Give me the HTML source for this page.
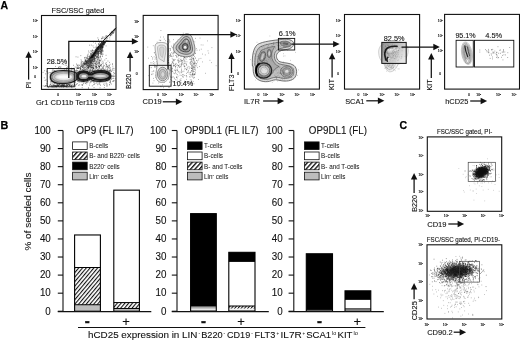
<!DOCTYPE html>
<html><head><meta charset="utf-8"><title>Figure</title>
<style>html,body{margin:0;padding:0;background:#fff;overflow:hidden}svg{display:block}</style>
</head><body>
<svg width="520" height="340" viewBox="0 0 520 340" font-family='"Liberation Sans", Arial, Helvetica, sans-serif' fill="#111">
<defs>
<filter id="b3" x="-20%" y="-20%" width="140%" height="140%"><feGaussianBlur stdDeviation="0.35"/></filter>
<filter id="b6" x="-20%" y="-20%" width="140%" height="140%"><feGaussianBlur stdDeviation="0.6"/></filter>
<filter id="b10" x="-30%" y="-30%" width="160%" height="160%"><feGaussianBlur stdDeviation="1.2"/></filter>
<filter id="b20" x="-40%" y="-40%" width="180%" height="180%"><feGaussianBlur stdDeviation="2.2"/></filter>
<pattern id="hat" width="2.9" height="2.9" patternUnits="userSpaceOnUse" patternTransform="rotate(-50)"><rect width="2.9" height="2.9" fill="#fff"/><rect width="2.9" height="1.1" fill="#111"/></pattern>
<pattern id="hat2" width="2.5" height="2.5" patternUnits="userSpaceOnUse" patternTransform="rotate(-50)"><rect width="2.5" height="2.5" fill="#fff"/><rect width="2.5" height="1.05" fill="#111"/></pattern>
<pattern id="hat3" width="3.3" height="3.3" patternUnits="userSpaceOnUse" patternTransform="rotate(-48)"><rect width="3.3" height="3.3" fill="#fff"/><rect width="3.3" height="1.35" fill="#111"/></pattern>
</defs>
<rect width="520" height="340" fill="#fff"/>
<text x="0.6" y="9" font-size="11.6" font-weight="bold" stroke="#000" stroke-width="0.25" textLength="7.6" lengthAdjust="spacingAndGlyphs" fill="#000">A</text>
<text x="0.4" y="129.1" font-size="11.6" font-weight="bold" stroke="#000" stroke-width="0.25" textLength="7.8" lengthAdjust="spacingAndGlyphs" fill="#000">B</text>
<text x="399.4" y="129.3" font-size="11.6" font-weight="bold" stroke="#000" stroke-width="0.25" textLength="7.6" lengthAdjust="spacingAndGlyphs" fill="#000">C</text>
<g id="p1">
<path d="M79.7 78.8h0.7M80.2 74.3h0.7M68.2 74.8h0.7M102.9 78.3h0.7M101.6 77.4h0.7M90.7 77.0h0.7M55.7 80.7h0.7M92.6 78.7h0.7M55.2 66.4h0.7M68.9 73.4h0.7M89.2 75.7h0.7M92.9 72.5h0.7M89.2 78.2h0.7M72.8 85.4h0.7M93.5 82.6h0.7M73.5 71.9h0.7M78.2 75.4h0.7M94.7 77.4h0.7M76.4 70.7h0.7M75.1 82.7h0.7M70.3 77.3h0.7M91.3 67.8h0.7M84.8 83.2h0.7M49.8 74.2h0.7M82.2 71.5h0.7M92.5 75.7h0.7M59.1 80.6h0.7M95.4 81.2h0.7M108.5 78.0h0.7M86.0 68.9h0.7M94.5 72.6h0.7M76.3 69.0h0.7M67.6 73.1h0.7M105.9 64.8h0.7M59.2 77.3h0.7M108.5 79.2h0.7M51.7 62.1h0.7M90.1 72.0h0.7M65.0 81.4h0.7M102.7 76.9h0.7M88.2 78.4h0.7M111.1 79.4h0.7M92.8 79.0h0.7M57.3 83.0h0.7M100.2 78.9h0.7M50.4 72.5h0.7M98.3 66.0h0.7M80.9 81.6h0.7M61.7 84.9h0.7M93.4 75.2h0.7M89.5 79.6h0.7M86.0 82.3h0.7M72.8 73.7h0.7M101.7 76.1h0.7M69.0 81.2h0.7M108.9 73.6h0.7M60.5 75.3h0.7M81.5 74.4h0.7M107.9 70.4h0.7M105.4 69.0h0.7M70.6 79.5h0.7M103.2 80.7h0.7M89.9 76.8h0.7M86.6 79.2h0.7M81.0 77.5h0.7M93.7 76.0h0.7M97.0 79.1h0.7M76.7 74.0h0.7M83.8 81.1h0.7M78.3 78.1h0.7M64.9 77.3h0.7M90.8 77.3h0.7M76.7 79.6h0.7M88.8 73.1h0.7M74.6 75.5h0.7M80.2 75.7h0.7M101.1 69.6h0.7M82.9 81.2h0.7M98.6 84.2h0.7M55.1 74.1h0.7M78.2 79.4h0.7M102.6 61.2h0.7M102.5 68.0h0.7M95.6 67.8h0.7M87.0 82.6h0.7M81.5 77.1h0.7M97.6 76.8h0.7M82.5 84.4h0.7M101.8 74.4h0.7M99.5 74.5h0.7M86.3 79.9h0.7M87.8 79.5h0.7M58.0 67.7h0.7M94.5 70.7h0.7M66.5 67.9h0.7M105.5 80.1h0.7M109.0 70.8h0.7M84.0 69.7h0.7M97.0 84.7h0.7M68.9 84.6h0.7M100.8 75.0h0.7M50.5 83.7h0.7M82.4 72.7h0.7M90.8 78.3h0.7M109.5 70.4h0.7M103.3 84.2h0.7M108.7 75.0h0.7M71.4 81.6h0.7M86.0 76.7h0.7M108.2 74.6h0.7M45.0 73.9h0.7M52.5 80.5h0.7M89.4 72.6h0.7M83.8 80.6h0.7M85.3 83.3h0.7M83.0 81.7h0.7M109.4 84.9h0.7M72.6 80.8h0.7M52.1 70.0h0.7M50.6 81.9h0.7M63.1 75.9h0.7M80.7 75.8h0.7M73.9 77.3h0.7M114.5 76.2h0.7M93.0 81.5h0.7M80.6 69.1h0.7M74.6 81.9h0.7M56.0 72.7h0.7M101.1 80.4h0.7M84.1 80.4h0.7M86.8 69.5h0.7M57.4 72.5h0.7M99.7 72.9h0.7M68.7 71.8h0.7M58.0 75.4h0.7M63.9 78.0h0.7M43.9 77.8h0.7M73.1 65.3h0.7M96.3 74.5h0.7M46.1 71.2h0.7M88.9 73.5h0.7M97.3 80.1h0.7M95.3 77.8h0.7M106.7 79.6h0.7M91.7 64.5h0.7M99.2 83.2h0.7M79.0 73.4h0.7M68.2 79.8h0.7M93.5 81.0h0.7M68.6 75.5h0.7M89.0 80.5h0.7M83.4 74.9h0.7M66.7 74.0h0.7M99.2 76.6h0.7M69.5 71.4h0.7M94.8 61.7h0.7M94.6 78.6h0.7M112.6 78.4h0.7M82.9 78.9h0.7M50.9 81.7h0.7M89.5 72.1h0.7M106.5 86.0h0.7M60.2 72.3h0.7M89.0 77.0h0.7M77.2 70.6h0.7M63.7 68.6h0.7M113.0 81.4h0.7M69.2 77.4h0.7M47.3 71.9h0.7M83.0 78.9h0.7M71.6 75.3h0.7M91.8 78.1h0.7M94.8 77.1h0.7M78.5 80.3h0.7M84.8 71.5h0.7M73.4 76.0h0.7M82.1 76.9h0.7M84.0 77.0h0.7M81.7 69.1h0.7M91.2 81.8h0.7M91.4 75.0h0.7M91.6 70.7h0.7M51.8 76.3h0.7M68.2 80.1h0.7M65.6 61.5h0.7M66.3 84.7h0.7M77.5 68.5h0.7M71.0 78.9h0.7M92.4 77.0h0.7M109.2 79.9h0.7M83.6 79.3h0.7M112.1 81.3h0.7M101.4 70.0h0.7M81.5 80.0h0.7M79.0 81.9h0.7M94.1 81.0h0.7M105.1 74.8h0.7M78.2 80.8h0.7M100.7 76.0h0.7M64.2 77.0h0.7M90.1 82.2h0.7M97.3 76.1h0.7M98.5 79.0h0.7M87.5 76.3h0.7M79.9 79.8h0.7M66.1 72.5h0.7M84.1 67.9h0.7M76.6 65.0h0.7M72.4 79.1h0.7M93.6 75.7h0.7M80.1 68.2h0.7M102.6 71.1h0.7M80.9 66.0h0.7M97.3 81.1h0.7M51.7 75.7h0.7M94.7 66.3h0.7M53.0 70.1h0.7M73.3 68.3h0.7M84.5 77.4h0.7M94.8 79.9h0.7M109.5 82.4h0.7M61.7 73.2h0.7M66.0 70.1h0.7M82.6 76.0h0.7M92.3 67.3h0.7M63.0 75.9h0.7M80.6 74.3h0.7M82.9 71.8h0.7M95.9 77.9h0.7M82.5 72.3h0.7M81.0 61.0h0.7M67.3 76.2h0.7M58.4 77.1h0.7M86.5 68.4h0.7M79.7 74.3h0.7M91.8 79.4h0.7M83.4 71.3h0.7M81.5 75.6h0.7M96.5 77.6h0.7M71.7 68.6h0.7M77.7 71.9h0.7M65.1 75.4h0.7M75.7 76.6h0.7M92.9 73.7h0.7M102.7 76.7h0.7M103.0 62.9h0.7M71.2 77.4h0.7M89.5 83.0h0.7M97.0 81.2h0.7M92.7 75.1h0.7M92.7 70.1h0.7M104.1 70.4h0.7M88.2 87.7h0.7M80.2 76.1h0.7M103.8 76.1h0.7M70.3 77.4h0.7M93.9 79.9h0.7M70.9 85.6h0.7M112.3 76.1h0.7M88.6 73.6h0.7M108.0 72.1h0.7M95.5 73.4h0.7M72.2 80.0h0.7M106.7 75.9h0.7M72.5 80.5h0.7M83.2 77.7h0.7M109.9 82.2h0.7M75.2 88.6h0.7M84.1 80.3h0.7M73.0 75.8h0.7M54.3 85.8h0.7M107.2 69.3h0.7M58.4 67.1h0.7M104.0 73.5h0.7M83.0 74.3h0.7M81.9 70.0h0.7M84.4 68.1h0.7M82.8 77.7h0.7M91.9 74.7h0.7M68.6 76.9h0.7M75.8 84.6h0.7M97.1 75.4h0.7M76.0 72.1h0.7M68.1 74.1h0.7M89.0 78.8h0.7M93.7 87.5h0.7M72.0 76.1h0.7M75.1 76.9h0.7M86.6 78.2h0.7M79.9 78.0h0.7M84.9 80.2h0.7M51.8 71.1h0.7M84.0 70.3h0.7M66.2 79.5h0.7M73.0 79.5h0.7M96.7 77.7h0.7M92.6 75.4h0.7M60.0 75.8h0.7M91.7 73.1h0.7M82.3 80.1h0.7M69.1 79.5h0.7M86.5 75.2h0.7M110.2 77.7h0.7M99.3 72.2h0.7M83.7 75.9h0.7M53.8 83.9h0.7M99.3 66.4h0.7M96.7 75.3h0.7M91.6 78.0h0.7M58.5 74.8h0.7M109.4 72.8h0.7M66.6 68.5h0.7M63.2 77.8h0.7M112.8 78.4h0.7M88.2 88.3h0.7M75.2 72.3h0.7M93.0 79.0h0.7M66.7 69.6h0.7M88.9 77.4h0.7M61.8 74.9h0.7M74.8 78.5h0.7M82.0 75.5h0.7M78.0 81.8h0.7M107.6 74.0h0.7M98.4 71.8h0.7M85.2 80.1h0.7M109.7 73.9h0.7M82.7 77.1h0.7M58.5 76.1h0.7M72.5 78.0h0.7M64.8 65.1h0.7M84.7 77.4h0.7M74.7 80.9h0.7M79.4 72.7h0.7M92.1 67.4h0.7M72.5 75.9h0.7M98.4 75.1h0.7M89.2 72.4h0.7M89.1 85.1h0.7M73.1 76.1h0.7M86.9 81.6h0.7M63.0 64.4h0.7M94.3 80.4h0.7M87.5 77.4h0.7M99.8 78.0h0.7M112.3 69.2h0.7M77.6 57.1h0.7M97.8 74.0h0.7M99.7 87.8h0.7M83.9 74.6h0.7M75.5 71.4h0.7M73.3 79.5h0.7M84.6 76.4h0.7M81.1 81.0h0.7M92.4 75.2h0.7M95.3 75.2h0.7M64.4 84.0h0.7M91.9 70.7h0.7M102.3 77.9h0.7M57.4 84.9h0.7M89.7 80.9h0.7M87.4 75.2h0.7M57.7 81.3h0.7M84.5 74.4h0.7M90.0 76.4h0.7M95.5 74.0h0.7M83.4 64.2h0.7M76.8 79.7h0.7M106.7 74.0h0.7M81.9 84.7h0.7M78.5 80.0h0.7M112.5 76.2h0.7M104.9 72.1h0.7M87.5 75.6h0.7M86.0 82.2h0.7M74.2 78.7h0.7M66.1 78.7h0.7M93.7 74.5h0.7M93.0 67.5h0.7M96.9 67.5h0.7M72.2 72.9h0.7M77.2 80.7h0.7M85.4 73.8h0.7M93.2 84.7h0.7M84.1 78.0h0.7M105.1 77.5h0.7M83.3 78.3h0.7M100.4 79.7h0.7M79.4 70.2h0.7M85.8 81.7h0.7M65.5 70.4h0.7M83.6 65.3h0.7M79.6 73.6h0.7M91.7 72.1h0.7M69.0 73.8h0.7M83.2 72.3h0.7M84.2 80.1h0.7M104.1 85.4h0.7M70.7 73.7h0.7M71.7 75.8h0.7M92.9 68.5h0.7M91.9 75.9h0.7M53.0 77.6h0.7M104.3 65.7h0.7M97.7 77.2h0.7M92.1 78.4h0.7M106.2 74.8h0.7M98.9 73.7h0.7M96.4 71.5h0.7M82.2 85.5h0.7M91.6 75.1h0.7M64.5 71.7h0.7M87.3 81.2h0.7M91.2 78.9h0.7M83.3 83.4h0.7M77.4 73.0h0.7M99.1 76.3h0.7M79.3 72.8h0.7M79.6 79.4h0.7M90.0 69.3h0.7M100.7 71.1h0.7M85.0 74.6h0.7M92.9 68.0h0.7M104.8 77.9h0.7M88.4 72.6h0.7M86.4 83.9h0.7M90.6 77.2h0.7M88.9 74.9h0.7M91.2 73.0h0.7M95.0 66.0h0.7M77.9 75.1h0.7M77.1 76.9h0.7M89.6 70.9h0.7M109.9 70.7h0.7M80.7 59.8h0.7M109.0 74.4h0.7M87.0 75.2h0.7M101.5 73.9h0.7M71.2 68.2h0.7M105.9 74.4h0.7M105.7 55.3h0.7M97.9 73.0h0.7M92.4 70.2h0.7M105.7 67.3h0.7M108.6 65.3h0.7M98.9 66.8h0.7M97.7 65.9h0.7M78.4 76.6h0.7M99.3 66.6h0.7M98.2 75.9h0.7M85.2 69.3h0.7M101.9 73.2h0.7M92.3 57.4h0.7M109.7 72.0h0.7M96.1 68.3h0.7M98.9 67.4h0.7M84.7 65.6h0.7M89.4 66.3h0.7M83.3 73.8h0.7M81.6 74.0h0.7M84.8 72.1h0.7M111.1 71.2h0.7M88.0 70.3h0.7M97.6 59.6h0.7M89.3 71.0h0.7M90.8 70.5h0.7M104.1 74.6h0.7M106.0 73.5h0.7M92.8 69.9h0.7M93.0 68.1h0.7M94.0 59.7h0.7M92.3 69.9h0.7M85.3 69.9h0.7M101.7 69.0h0.7M93.7 59.0h0.7M106.8 85.9h0.7M68.5 70.8h0.7M101.7 68.2h0.7M102.1 56.5h0.7M105.4 72.2h0.7M96.3 66.5h0.7M103.0 67.1h0.7M98.5 66.9h0.7M71.3 69.8h0.7M98.2 74.5h0.7M86.4 69.8h0.7M102.8 70.9h0.7M109.7 81.9h0.7M86.0 58.5h0.7M105.4 79.2h0.7M106.1 74.9h0.7M89.2 65.7h0.7M105.8 64.5h0.7M76.1 64.0h0.7M88.4 65.6h0.7M98.5 65.5h0.7M110.4 69.5h0.7M84.1 77.9h0.7M89.6 71.3h0.7M95.9 68.1h0.7M99.6 65.8h0.7M75.7 56.8h0.7M82.1 65.4h0.7M95.7 70.3h0.7M102.1 70.7h0.7M87.3 65.7h0.7M72.7 69.0h0.7M101.3 73.2h0.7M94.7 69.0h0.7M106.3 70.1h0.7M104.1 73.5h0.7M98.3 77.8h0.7M89.7 67.8h0.7M87.1 65.2h0.7M113.1 80.6h0.7M96.3 73.4h0.7M108.9 74.8h0.7M109.3 62.4h0.7M89.0 72.7h0.7M111.8 70.6h0.7M86.6 67.9h0.7M88.7 64.9h0.7M112.5 66.2h0.7M96.2 83.0h0.7M109.0 72.0h0.7M89.3 72.5h0.7M113.8 73.7h0.7M109.9 70.6h0.7M101.7 68.8h0.7M100.7 77.8h0.7M80.3 69.6h0.7M98.6 66.6h0.7M92.6 74.7h0.7M99.6 60.7h0.7M95.6 63.3h0.7M95.4 63.4h0.7M96.8 72.8h0.7M96.3 71.7h0.7M86.6 78.6h0.7M88.8 59.1h0.7M93.9 65.4h0.7M84.9 67.9h0.7M99.2 62.9h0.7M94.5 78.6h0.7M103.5 69.1h0.7M97.4 69.3h0.7M95.5 74.4h0.7M95.0 55.6h0.7M95.8 64.7h0.7M103.2 66.3h0.7M97.6 83.1h0.7M84.5 63.3h0.7M80.5 55.6h0.7M75.3 72.2h0.7M89.0 58.8h0.7M79.7 73.7h0.7M87.5 67.8h0.7M99.6 78.1h0.7M97.6 71.1h0.7M92.6 72.7h0.7M99.2 70.3h0.7M90.5 62.0h0.7M90.1 60.7h0.7M109.5 73.2h0.7M82.7 78.4h0.7M105.8 58.5h0.7M101.8 72.5h0.7M98.2 71.0h0.7M107.6 61.0h0.7M82.3 61.6h0.7M89.9 66.4h0.7M100.0 71.6h0.7M96.3 65.9h0.7M91.1 75.7h0.7M104.4 70.6h0.7M92.5 79.3h0.7M89.5 73.9h0.7M108.7 68.4h0.7M105.1 63.3h0.7M107.1 71.2h0.7M78.5 74.0h0.7M86.2 77.7h0.7M88.5 69.0h0.7M99.1 68.0h0.7M98.9 66.7h0.7M103.4 70.0h0.7M98.3 53.5h0.7M108.8 70.2h0.7M76.4 70.6h0.7M101.1 76.4h0.7M84.1 79.3h0.7M94.2 84.4h0.7M94.4 74.1h0.7M92.0 63.3h0.7M108.1 75.4h0.7M112.9 75.1h0.7M89.7 60.0h0.7M88.8 65.9h0.7M87.0 73.5h0.7M99.6 68.4h0.7M97.9 69.1h0.7M98.3 74.5h0.7M106.6 65.9h0.7M79.4 78.6h0.7M97.3 76.6h0.7M77.9 68.0h0.7M96.3 61.4h0.7M90.3 74.3h0.7M107.9 79.6h0.7M86.5 61.6h0.7M101.7 75.6h0.7M98.1 62.2h0.7M104.6 74.8h0.7M102.1 67.1h0.7M99.3 74.7h0.7M89.9 58.9h0.7M99.6 72.9h0.7M96.1 75.3h0.7M89.5 69.5h0.7M92.6 73.4h0.7M113.6 68.5h0.7M104.7 73.5h0.7M94.8 63.6h0.7M101.2 78.1h0.7M101.9 72.5h0.7M93.8 71.0h0.7M80.3 76.3h0.7M91.5 63.4h0.7M87.7 65.1h0.7M105.4 76.3h0.7M81.1 75.6h0.7M105.8 66.5h0.7M79.6 65.5h0.7M89.0 72.1h0.7M92.1 57.8h0.7M98.6 60.8h0.7M106.0 62.8h0.7M88.4 64.9h0.7M90.0 77.8h0.7M105.4 73.6h0.7M99.5 60.7h0.7M90.3 66.7h0.7M85.2 73.1h0.7M87.8 65.7h0.7M84.5 57.7h0.7M102.5 78.0h0.7M97.9 64.1h0.7M66.2 71.0h0.7M109.4 71.8h0.7M106.2 78.9h0.7M108.4 67.4h0.7M107.6 74.7h0.7M79.1 67.6h0.7M80.3 69.3h0.7M102.4 63.6h0.7M73.4 77.8h0.7M100.1 78.8h0.7M81.4 76.4h0.7M93.7 71.6h0.7M94.3 76.0h0.7M107.4 70.5h0.7M81.1 74.4h0.7M90.8 73.8h0.7M98.9 79.7h0.7M108.5 67.3h0.7M99.8 80.6h0.7M90.1 72.6h0.7M109.1 77.5h0.7M101.7 62.1h0.7M82.1 71.5h0.7M100.3 85.3h0.7M86.5 76.8h0.7M104.5 60.0h0.7M87.0 71.0h0.7M90.6 69.1h0.7M101.2 65.1h0.7M101.1 66.2h0.7M90.0 73.2h0.7M89.7 71.7h0.7M113.6 70.2h0.7M94.4 74.4h0.7M92.0 76.5h0.7M81.9 73.7h0.7M90.4 65.2h0.7M112.0 64.1h0.7M109.2 78.7h0.7M94.7 69.2h0.7M91.4 66.2h0.7M100.9 72.0h0.7M98.0 80.3h0.7M92.4 72.8h0.7M112.1 64.0h0.7M107.4 81.0h0.7M81.1 63.4h0.7M84.6 58.9h0.7M101.0 58.9h0.7M101.5 78.7h0.7M78.2 68.1h0.7M74.9 74.7h0.7M87.9 68.4h0.7M96.6 73.3h0.7M92.2 70.1h0.7M90.0 70.7h0.7M83.1 70.4h0.7M74.7 67.1h0.7M82.1 71.5h0.7M85.3 60.1h0.7M87.9 74.4h0.7M100.2 69.4h0.7M85.8 63.5h0.7M110.8 71.5h0.7M85.5 57.3h0.7M80.9 84.9h0.7M83.4 69.5h0.7M98.3 69.1h0.7M92.9 61.8h0.7M84.4 80.1h0.7M87.7 75.1h0.7M77.4 68.4h0.7M98.9 76.2h0.7M83.7 73.6h0.7M100.2 65.6h0.7M101.2 64.6h0.7M87.2 69.9h0.7M66.1 69.3h0.7M85.0 61.2h0.7M91.3 74.6h0.7M91.6 77.6h0.7M83.2 62.1h0.7M113.1 72.4h0.7M106.4 65.0h0.7M104.8 71.6h0.7M103.1 70.2h0.7M109.3 66.1h0.7M85.4 61.1h0.7M108.8 65.6h0.7M84.5 64.4h0.7M91.1 62.4h0.7M92.8 66.2h0.7M89.9 64.2h0.7M100.3 73.7h0.7M101.0 77.2h0.7M103.1 65.1h0.7M95.2 72.0h0.7M107.0 68.1h0.7M93.6 74.5h0.7M97.0 81.0h0.7M96.0 80.8h0.7M86.8 66.9h0.7M111.0 78.2h0.7M104.4 76.6h0.7M104.4 69.9h0.7M108.5 73.3h0.7M108.9 76.4h0.7M82.2 69.6h0.7M110.1 75.3h0.7M96.4 77.2h0.7M96.2 73.3h0.7M100.9 76.7h0.7M113.7 76.2h0.7M101.2 76.7h0.7M98.7 72.3h0.7M99.4 72.8h0.7M114.8 78.7h0.7M96.0 66.4h0.7M99.5 73.9h0.7M90.2 70.3h0.7M79.7 78.8h0.7M99.7 75.3h0.7M113.0 76.7h0.7M101.5 74.1h0.7M94.6 83.5h0.7M109.0 84.6h0.7M96.9 76.2h0.7M92.1 80.8h0.7M87.5 78.8h0.7M109.9 83.1h0.7M91.5 81.4h0.7M93.6 72.2h0.7M88.1 81.8h0.7M93.2 74.3h0.7M95.1 67.0h0.7M93.9 81.9h0.7M93.8 73.5h0.7M83.0 80.5h0.7M90.2 81.3h0.7M84.6 69.6h0.7M102.6 72.2h0.7M107.0 76.0h0.7M89.4 79.1h0.7M107.6 66.4h0.7M106.8 66.7h0.7M93.5 74.3h0.7M109.7 68.7h0.7M92.0 65.9h0.7M97.8 77.7h0.7M84.8 73.0h0.7M104.6 83.9h0.7M106.0 74.5h0.7M89.4 71.3h0.7M94.0 76.7h0.7M99.6 84.3h0.7M102.6 70.6h0.7M113.9 80.7h0.7M100.9 72.4h0.7M83.2 70.9h0.7M108.2 72.0h0.7M88.1 77.0h0.7M102.2 79.0h0.7M105.9 83.0h0.7M92.4 80.9h0.7M91.1 79.5h0.7M101.6 77.2h0.7M108.7 75.9h0.7M110.0 80.4h0.7M101.2 73.2h0.7M93.2 73.4h0.7M98.2 75.9h0.7M106.9 71.7h0.7M93.6 74.4h0.7M101.7 70.8h0.7M114.5 73.2h0.7M109.7 64.3h0.7M99.9 77.4h0.7M101.7 79.0h0.7M102.5 76.8h0.7M83.0 72.4h0.7M78.9 79.1h0.7M102.8 75.0h0.7M92.6 73.1h0.7M99.5 82.4h0.7M85.7 66.3h0.7M95.7 71.6h0.7M95.0 76.9h0.7M100.4 77.4h0.7M99.7 80.7h0.7M101.5 74.7h0.7M103.2 68.3h0.7M84.2 64.4h0.7M104.7 77.0h0.7M100.7 64.2h0.7M96.6 72.2h0.7M87.3 71.4h0.7M106.3 78.7h0.7M99.8 78.6h0.7M94.6 76.4h0.7M100.4 78.8h0.7M99.4 75.3h0.7M98.8 72.8h0.7M103.9 87.5h0.7M112.6 68.2h0.7M106.3 80.2h0.7M106.9 70.1h0.7M92.2 77.3h0.7M104.5 70.9h0.7M96.5 74.0h0.7M100.5 77.7h0.7M97.4 69.8h0.7M111.2 84.0h0.7M99.0 81.1h0.7M104.0 79.3h0.7M104.3 72.2h0.7M105.2 81.1h0.7M91.9 85.8h0.7M97.0 73.0h0.7M92.7 76.6h0.7M99.7 79.4h0.7M81.8 87.6h0.7M106.1 78.4h0.7M102.5 75.0h0.7M98.9 71.9h0.7M101.6 75.9h0.7M102.9 71.7h0.7M100.4 76.2h0.7M105.4 70.7h0.7M103.8 80.9h0.7M105.4 74.2h0.7M95.6 74.8h0.7M106.6 83.8h0.7M98.6 72.8h0.7M103.4 77.0h0.7M91.8 72.3h0.7M99.1 79.4h0.7M89.3 70.9h0.7M104.5 69.9h0.7M101.0 77.8h0.7M99.0 70.9h0.7M99.5 74.3h0.7M103.0 71.8h0.7M109.8 67.6h0.7M98.4 76.0h0.7M108.7 73.0h0.7M104.9 73.2h0.7M106.6 84.7h0.7M96.4 78.2h0.7M91.7 80.9h0.7M110.9 76.2h0.7M89.8 78.0h0.7M110.3 81.4h0.7M107.3 66.8h0.7M97.9 50.2h0.7M104.6 43.2h0.7M82.1 67.3h0.7M90.6 56.0h0.7M81.9 67.6h0.7M101.7 48.3h0.7M103.6 42.3h0.7M103.8 42.0h0.7M93.0 57.1h0.7M89.9 65.0h0.7M102.6 42.7h0.7M97.6 49.0h0.7M92.0 52.5h0.7M100.8 45.5h0.7M88.6 61.7h0.7M93.2 52.0h0.7M83.6 64.2h0.7M90.4 62.5h0.7M96.2 48.0h0.7M98.4 63.2h0.7M97.1 63.5h0.7M95.8 67.4h0.7M98.5 48.2h0.7M89.8 55.8h0.7M96.8 53.2h0.7M91.0 67.7h0.7M90.3 66.8h0.7M77.1 65.4h0.7M88.7 58.8h0.7M97.5 56.1h0.7M87.7 58.3h0.7M82.1 67.2h0.7M100.5 49.7h0.7M88.2 67.3h0.7M98.3 48.7h0.7M101.3 44.8h0.7M98.0 49.4h0.7M103.4 43.9h0.7M86.4 64.2h0.7M100.7 46.9h0.7M94.4 53.9h0.7M96.2 49.9h0.7M99.1 47.5h0.7M104.8 41.8h0.7M81.3 64.8h0.7M101.5 49.2h0.7M100.5 49.5h0.7M87.1 65.0h0.7M102.0 43.2h0.7M102.4 44.4h0.7M91.5 67.4h0.7M99.7 51.0h0.7M97.9 58.1h0.7M91.1 61.4h0.7M89.8 62.0h0.7M77.7 66.2h0.7M82.6 65.0h0.7M97.5 54.9h0.7M93.1 56.9h0.7M87.4 57.9h0.7M94.9 53.7h0.7M95.9 52.0h0.7M96.4 51.9h0.7M90.9 55.0h0.7M101.1 46.5h0.7M91.8 57.2h0.7M86.4 66.3h0.7M77.0 67.4h0.7M100.3 53.0h0.7M93.3 56.8h0.7M82.3 66.3h0.7M92.9 55.5h0.7M87.8 60.0h0.7M102.5 51.0h0.7M93.0 59.8h0.7M97.8 52.3h0.7M99.9 57.0h0.7M96.4 53.4h0.7M77.1 68.4h0.7M100.3 46.1h0.7M90.5 67.9h0.7M90.0 65.7h0.7M99.2 63.7h0.7M100.2 45.7h0.7M94.8 55.3h0.7M94.4 58.5h0.7M101.2 51.0h0.7M98.4 52.6h0.7M100.6 49.8h0.7M89.2 64.2h0.7M85.7 59.5h0.7M100.0 48.7h0.7M98.3 55.9h0.7M101.1 44.8h0.7M86.6 62.0h0.7M98.3 55.6h0.7M96.5 58.1h0.7M87.1 62.3h0.7M89.4 60.8h0.7M104.0 44.2h0.7M89.7 57.2h0.7M104.1 43.0h0.7M96.5 57.2h0.7M98.8 48.2h0.7M90.8 66.6h0.7M90.5 63.5h0.7M94.0 57.8h0.7M99.3 48.1h0.7M85.7 60.9h0.7M101.0 54.6h0.7M98.1 48.1h0.7M83.4 67.7h0.7M88.7 56.7h0.7M94.0 52.4h0.7M102.5 44.8h0.7M100.7 46.7h0.7M97.9 47.9h0.7M101.3 45.7h0.7M102.5 44.0h0.7M98.1 53.5h0.7M82.4 63.2h0.7M102.7 51.7h0.7M101.7 47.1h0.7M93.2 53.7h0.7M90.2 60.6h0.7M94.7 51.4h0.7M90.5 57.9h0.7M94.1 55.4h0.7M99.3 48.8h0.7M93.3 56.8h0.7M95.9 52.0h0.7M101.4 50.2h0.7M101.8 44.4h0.7M98.1 49.5h0.7M98.5 49.9h0.7M99.8 49.1h0.7M95.4 66.0h0.7M100.2 45.1h0.7M103.7 42.3h0.7M96.4 52.6h0.7M89.1 60.4h0.7M87.6 58.5h0.7M103.1 44.6h0.7M102.4 42.6h0.7M100.3 45.9h0.7M104.2 42.6h0.7M90.3 58.7h0.7M85.2 60.8h0.7M97.4 53.2h0.7M92.8 64.0h0.7M98.3 49.2h0.7M102.6 42.8h0.7M103.4 44.5h0.7M90.5 61.7h0.7M89.4 60.3h0.7M95.1 49.1h0.7M88.2 67.1h0.7M93.5 61.4h0.7M94.4 58.5h0.7M96.9 53.1h0.7M81.5 66.6h0.7M94.4 60.5h0.7M101.2 48.6h0.7M91.1 56.2h0.7M102.8 43.1h0.7M97.3 49.9h0.7M92.9 60.6h0.7M95.0 55.4h0.7M81.9 66.8h0.7M103.7 45.3h0.7M97.9 50.5h0.7M101.2 46.1h0.7M92.6 57.7h0.7M100.2 44.6h0.7M96.8 51.2h0.7M101.7 46.8h0.7M92.5 53.6h0.7M97.0 51.3h0.7M103.9 43.4h0.7M103.1 43.8h0.7M88.6 68.0h0.7M95.1 53.2h0.7M92.9 56.2h0.7M96.7 58.4h0.7M89.1 59.1h0.7M104.5 42.2h0.7M86.5 64.2h0.7M98.9 64.3h0.7M102.9 46.0h0.7M94.6 50.3h0.7M83.6 63.8h0.7M101.1 51.5h0.7M97.0 48.0h0.7M90.2 63.6h0.7M92.4 65.9h0.7M100.9 45.8h0.7M89.4 57.2h0.7M99.5 53.5h0.7M101.7 43.9h0.7M86.6 61.0h0.7M94.8 64.2h0.7M98.5 49.1h0.7M92.6 55.4h0.7M97.7 59.5h0.7M81.5 65.9h0.7M93.8 56.7h0.7M99.1 46.8h0.7M96.6 67.7h0.7M99.9 64.9h0.7M83.2 63.4h0.7M91.7 59.8h0.7M88.6 67.2h0.7M87.3 59.0h0.7M105.0 42.3h0.7M93.0 59.8h0.7M98.7 51.5h0.7M95.0 52.7h0.7M101.4 44.6h0.7M91.5 65.5h0.7M99.6 48.3h0.7M89.7 55.8h0.7M100.4 47.6h0.7M102.0 44.6h0.7M93.9 52.5h0.7M96.8 53.4h0.7M84.5 61.9h0.7M93.4 68.2h0.7M96.5 52.1h0.7M86.8 67.4h0.7M83.6 62.5h0.7M100.8 47.9h0.7M99.7 47.3h0.7M91.8 60.6h0.7M85.9 65.0h0.7M95.7 66.3h0.7M101.5 50.7h0.7M97.1 59.9h0.7M98.7 61.4h0.7M85.4 61.0h0.7M96.6 56.3h0.7M103.0 44.6h0.7M99.8 46.7h0.7M89.5 64.1h0.7M103.1 44.5h0.7M100.6 46.5h0.7M97.2 51.8h0.7M86.0 65.1h0.7M75.8 67.1h0.7M93.3 50.7h0.7M84.1 63.1h0.7M101.7 46.4h0.7M91.3 54.3h0.7M88.5 64.3h0.7M102.0 43.5h0.7M101.8 47.3h0.7M100.6 46.1h0.7M94.7 54.1h0.7M104.8 41.7h0.7M92.2 50.5h0.7M103.9 42.7h0.7M88.5 59.6h0.7M101.0 48.6h0.7M99.9 55.8h0.7M96.5 56.6h0.7M89.7 65.1h0.7M94.6 51.3h0.7M98.4 63.0h0.7M99.4 49.7h0.7M88.5 61.5h0.7M91.4 56.4h0.7M102.2 43.1h0.7M98.3 54.5h0.7M98.3 48.1h0.7M104.7 41.7h0.7M93.8 53.7h0.7M99.9 46.1h0.7M97.4 49.6h0.7M80.1 66.8h0.7M89.1 66.4h0.7M99.9 57.2h0.7M96.9 51.1h0.7M103.8 43.3h0.7M83.5 65.8h0.7M100.9 45.9h0.7M86.4 60.5h0.7M98.0 57.8h0.7M88.3 59.0h0.7M84.4 57.7h0.7M94.3 63.4h0.7M101.3 46.6h0.7M91.0 65.1h0.7M99.2 50.3h0.7M89.8 59.0h0.7M102.7 43.1h0.7M103.3 42.7h0.7M92.3 57.6h0.7M94.6 54.0h0.7M77.9 68.2h0.7M94.7 58.1h0.7M101.0 45.7h0.7M86.2 62.2h0.7M93.0 56.0h0.7M93.9 56.5h0.7M85.9 61.5h0.7M94.5 60.7h0.7M95.5 62.4h0.7M90.2 53.7h0.7M100.8 45.1h0.7M96.7 54.3h0.7M78.2 68.2h0.7M86.7 61.9h0.7M103.4 43.1h0.7M92.6 56.5h0.7M100.5 45.5h0.7M97.0 61.4h0.7M86.5 62.5h0.7M83.3 68.0h0.7M86.4 63.1h0.7M102.6 50.2h0.7M104.1 43.3h0.7M101.4 52.4h0.7M100.8 52.6h0.7M88.3 67.0h0.7M99.9 48.6h0.7M99.0 47.7h0.7M100.1 49.6h0.7M101.7 47.3h0.7M88.3 65.0h0.7M94.3 61.8h0.7M100.4 54.6h0.7M101.0 45.9h0.7M96.6 57.1h0.7M100.9 47.2h0.7M86.8 64.8h0.7M96.9 64.8h0.7M103.7 44.5h0.7M105.0 41.8h0.7M103.2 44.1h0.7M84.8 59.9h0.7M100.3 60.8h0.7M80.1 68.0h0.7M90.7 60.1h0.7M91.7 55.1h0.7M104.5 42.0h0.7M101.9 50.0h0.7M102.3 45.2h0.7M102.6 46.3h0.7M94.2 55.0h0.7M98.6 51.0h0.7M102.0 47.3h0.7M90.9 65.3h0.7M98.5 48.6h0.7M102.9 42.7h0.7M96.2 51.3h0.7M90.3 60.1h0.7M97.6 60.1h0.7M89.2 65.1h0.7M101.4 52.8h0.7M95.4 52.0h0.7M79.9 68.5h0.7M98.1 57.9h0.7M97.5 51.7h0.7M100.5 46.9h0.7M77.7 66.0h0.7M87.1 60.2h0.7M100.3 50.0h0.7M104.9 41.5h0.7M97.6 57.5h0.7M100.4 47.8h0.7M86.9 60.7h0.7M94.5 55.7h0.7M90.9 58.5h0.7M100.3 47.5h0.7M100.8 54.3h0.7M94.1 55.6h0.7M88.0 66.5h0.7M94.8 55.6h0.7M101.6 46.2h0.7M98.2 53.9h0.7M77.8 64.9h0.7M99.9 51.8h0.7M100.4 45.7h0.7M102.5 44.3h0.7M91.3 53.7h0.7M100.6 52.2h0.7M96.3 54.4h0.7M84.8 62.0h0.7M90.6 55.6h0.7M96.0 51.5h0.7M100.9 46.9h0.7M103.0 43.1h0.7M95.8 50.2h0.7M80.4 64.0h0.7M98.7 46.9h0.7M90.0 62.9h0.7M95.1 53.4h0.7M85.4 60.7h0.7M88.3 63.4h0.7M98.2 51.9h0.7M88.5 67.7h0.7M98.0 51.6h0.7M88.7 61.9h0.7M96.4 55.7h0.7M103.4 42.2h0.7M95.9 54.0h0.7M97.7 54.3h0.7M92.8 53.4h0.7M94.2 59.6h0.7M93.5 52.3h0.7M90.9 62.3h0.7M103.1 44.7h0.7M102.6 44.2h0.7M93.6 61.8h0.7M91.2 60.7h0.7M102.8 43.0h0.7M93.2 68.4h0.7M81.4 65.0h0.7M105.1 41.7h0.7M97.7 48.9h0.7M90.1 64.7h0.7M95.0 55.3h0.7M93.4 64.9h0.7M84.6 64.6h0.7M93.3 56.0h0.7M93.8 54.0h0.7M84.0 63.1h0.7M89.3 66.3h0.7M93.6 55.9h0.7M91.2 56.8h0.7M102.1 49.4h0.7M84.6 63.2h0.7M100.3 53.5h0.7M103.1 43.1h0.7M82.1 64.8h0.7M92.1 57.6h0.7M87.1 63.1h0.7M93.0 59.7h0.7M85.4 64.1h0.7M83.3 66.3h0.7M97.4 62.7h0.7M97.4 52.7h0.7M92.2 60.0h0.7M104.9 43.0h0.7M98.1 49.4h0.7M90.2 57.2h0.7M83.2 66.1h0.7M85.8 64.2h0.7M90.7 52.1h0.7M98.3 51.8h0.7M103.6 44.0h0.7M88.7 61.2h0.7M82.8 63.9h0.7M99.5 66.4h0.7M97.4 49.4h0.7M90.4 61.8h0.7M98.3 54.6h0.7M93.9 57.6h0.7M101.8 48.8h0.7M84.8 64.3h0.7M98.7 57.7h0.7M100.8 50.8h0.7M97.2 50.5h0.7M101.7 48.2h0.7M99.0 49.6h0.7M87.4 56.6h0.7M91.2 57.6h0.7M104.6 42.4h0.7M102.8 45.1h0.7M96.3 51.0h0.7M102.3 46.1h0.7M101.4 50.5h0.7M100.0 45.5h0.7M79.4 65.2h0.7M102.1 44.7h0.7M100.4 45.9h0.7M100.2 46.8h0.7M99.6 47.0h0.7M102.2 55.0h0.7M103.2 41.9h0.7M95.5 56.9h0.7M101.6 47.7h0.7M104.3 42.3h0.7M93.1 55.5h0.7M90.2 57.1h0.7M96.0 57.6h0.7M99.7 48.1h0.7M76.4 68.0h0.7M83.7 63.5h0.7M88.1 63.4h0.7M84.2 66.9h0.7M94.3 52.5h0.7M91.2 59.8h0.7M96.3 50.8h0.7M102.4 50.4h0.7M87.5 68.4h0.7M96.3 62.5h0.7M92.5 61.8h0.7M96.0 64.3h0.7M102.8 44.0h0.7M89.9 67.6h0.7M88.5 61.6h0.7M85.7 65.9h0.7M91.0 64.0h0.7M91.6 63.8h0.7M87.4 65.0h0.7M80.1 67.0h0.7M91.0 67.6h0.7M101.0 47.8h0.7M90.1 53.9h0.7M94.0 60.0h0.7M99.6 52.1h0.7M88.4 66.9h0.7M92.6 52.5h0.7M96.3 50.7h0.7M95.8 64.1h0.7M104.1 41.9h0.7M85.1 63.4h0.7M95.5 50.6h0.7M99.2 51.1h0.7M102.0 43.9h0.7M87.8 60.4h0.7M101.2 44.8h0.7M104.2 42.6h0.7M85.3 67.4h0.7M100.2 47.6h0.7M94.7 52.1h0.7M87.4 67.3h0.7M84.0 63.9h0.7M93.0 55.7h0.7M101.9 53.8h0.7M100.1 48.3h0.7M89.4 64.8h0.7M102.2 51.7h0.7M102.5 43.5h0.7M98.7 53.5h0.7M92.9 58.6h0.7M97.6 55.6h0.7M100.3 51.3h0.7M103.4 43.0h0.7M96.0 53.6h0.7M90.9 65.6h0.7M96.1 50.3h0.7M95.9 67.2h0.7M91.8 57.1h0.7M97.9 52.1h0.7M85.4 62.1h0.7M95.5 56.2h0.7M90.8 63.2h0.7M100.3 51.8h0.7M95.9 49.0h0.7M97.5 57.0h0.7M101.0 45.3h0.7M82.8 65.2h0.7M95.8 49.9h0.7M101.1 49.5h0.7M99.7 46.6h0.7M80.4 67.0h0.7M102.8 44.4h0.7M97.0 52.1h0.7M102.1 47.0h0.7M97.0 53.7h0.7M95.0 50.0h0.7M85.9 61.9h0.7M85.7 61.8h0.7M99.5 51.3h0.7M89.4 58.5h0.7M86.3 62.3h0.7M99.3 51.0h0.7M99.6 48.7h0.7M93.4 61.9h0.7M99.9 52.6h0.7M99.6 58.9h0.7M94.6 58.6h0.7M87.8 66.9h0.7M97.5 50.7h0.7M101.4 46.5h0.7M92.3 55.9h0.7M99.8 45.1h0.7M101.6 43.3h0.7M92.1 59.5h0.7M96.6 52.4h0.7M99.0 62.8h0.7M102.0 45.6h0.7M91.4 65.8h0.7M92.0 61.6h0.7M101.0 45.0h0.7M91.9 60.5h0.7M97.4 57.8h0.7M98.0 48.9h0.7M99.2 59.8h0.7M86.4 63.2h0.7M84.6 64.1h0.7M104.8 41.6h0.7M103.7 43.1h0.7M100.4 56.5h0.7M102.2 44.5h0.7M89.1 58.5h0.7M102.7 47.4h0.7M102.3 47.1h0.7M103.3 42.3h0.7M103.7 42.3h0.7M95.2 58.5h0.7M89.4 57.3h0.7M101.7 47.6h0.7M93.5 68.4h0.7M79.0 68.1h0.7M90.2 54.4h0.7M90.8 60.6h0.7M95.3 50.7h0.7M102.0 46.7h0.7M94.6 55.4h0.7M101.4 46.8h0.7M98.6 56.6h0.7M93.7 67.1h0.7M94.7 61.0h0.7M104.5 41.9h0.7M91.8 61.0h0.7M102.6 45.9h0.7M83.4 68.3h0.7M100.8 51.1h0.7M88.8 63.2h0.7M102.6 45.7h0.7M102.8 54.2h0.7M96.7 54.4h0.7M100.3 45.0h0.7M99.1 47.2h0.7M103.9 42.1h0.7M77.5 68.0h0.7M90.1 61.3h0.7M99.5 45.1h0.7M100.5 47.3h0.7M93.2 63.9h0.7M94.3 54.0h0.7M102.3 43.4h0.7M94.5 58.4h0.7M99.8 47.1h0.7M87.5 66.0h0.7M102.2 44.9h0.7M94.5 53.8h0.7M91.5 53.4h0.7M84.0 61.1h0.7M94.4 59.7h0.7M100.0 48.0h0.7M102.0 45.3h0.7M89.7 57.7h0.7M102.8 47.7h0.7M91.7 62.8h0.7M102.7 42.5h0.7M92.1 67.9h0.7M102.1 48.0h0.7M102.3 47.4h0.7M81.3 66.3h0.7M100.6 45.6h0.7M88.0 67.8h0.7M102.6 46.5h0.7M103.9 44.4h0.7M100.0 65.5h0.7M97.3 56.5h0.7M93.1 55.1h0.7M101.8 43.6h0.7M91.7 56.2h0.7M85.7 61.6h0.7M92.2 63.9h0.7M89.1 59.1h0.7M95.7 53.1h0.7M95.4 51.0h0.7M96.0 61.2h0.7M95.5 51.4h0.7M80.7 62.1h0.7M81.0 62.3h0.7M102.3 43.5h0.7M91.5 55.5h0.7M95.3 52.5h0.7M90.5 61.3h0.7M92.8 66.1h0.7M95.6 59.9h0.7M101.0 53.1h0.7M100.9 53.4h0.7M98.1 48.3h0.7M103.1 44.1h0.7M92.2 68.0h0.7M95.5 64.1h0.7M86.9 61.8h0.7M104.7 42.1h0.7M93.0 65.4h0.7M99.1 62.4h0.7M92.6 63.0h0.7M100.5 50.0h0.7M98.3 51.4h0.7M95.3 55.8h0.7M95.7 56.0h0.7M100.6 60.1h0.7M101.9 43.9h0.7M105.5 41.9h0.7M99.3 60.8h0.7M95.5 60.0h0.7M93.6 61.6h0.7M104.6 42.2h0.7M101.1 47.1h0.7M93.9 57.5h0.7M99.7 41.7h0.7M114.5 29.9h0.7M107.1 38.3h0.7M106.5 40.4h0.7M109.0 34.4h0.7M113.1 31.6h0.7M93.6 47.7h0.7M114.2 30.4h0.7M100.7 51.1h0.7M111.5 32.2h0.7M98.5 46.0h0.7M111.6 32.8h0.7M95.3 43.2h0.7M111.6 33.3h0.7M86.2 57.6h0.7M101.3 43.9h0.7M86.9 57.9h0.7M112.6 31.1h0.7M105.6 37.6h0.7M109.9 33.6h0.7M106.2 36.8h0.7M111.2 34.4h0.7M105.2 36.1h0.7M98.4 52.4h0.7M94.3 50.8h0.7M106.3 41.1h0.7M98.7 47.5h0.7M104.3 42.1h0.7M105.1 40.2h0.7M102.5 38.4h0.7M103.1 43.4h0.7M90.9 45.1h0.7M92.1 51.8h0.7M88.7 52.3h0.7M112.1 32.1h0.7M113.7 32.1h0.7M103.9 39.4h0.7M103.6 41.3h0.7M97.8 46.5h0.7M87.9 54.1h0.7M114.4 29.0h0.7M102.3 44.9h0.7M99.4 42.7h0.7M100.2 47.3h0.7M88.6 56.1h0.7M111.5 34.4h0.7M94.8 52.9h0.7M114.7 29.3h0.7M111.0 31.6h0.7M86.9 55.9h0.7M98.3 40.2h0.7M106.3 40.8h0.7M110.8 33.1h0.7M87.3 55.0h0.7M89.3 56.7h0.7M106.9 36.8h0.7M108.1 40.8h0.7M101.1 38.8h0.7M112.4 32.3h0.7M92.3 54.9h0.7M98.2 39.4h0.7M114.6 30.1h0.7M98.3 44.2h0.7M89.1 45.2h0.7M90.0 62.2h0.7M109.5 40.2h0.7M114.0 31.0h0.7M111.5 35.1h0.7M101.3 38.4h0.7M92.7 45.9h0.7M113.0 32.6h0.7M102.5 38.3h0.7M91.5 54.7h0.7M90.6 50.6h0.7M97.9 48.3h0.7M103.8 37.3h0.7M114.0 29.1h0.7M101.9 37.1h0.7M115.0 28.6h0.7M96.4 45.1h0.7M91.7 50.4h0.7M106.1 39.0h0.7M109.4 37.8h0.7M109.8 33.0h0.7M98.9 44.0h0.7M110.4 35.0h0.7M107.4 40.4h0.7M88.3 51.0h0.7M96.0 47.2h0.7M106.7 41.1h0.7M110.0 34.4h0.7M98.4 44.2h0.7M97.5 37.9h0.7M111.0 32.3h0.7M110.2 33.1h0.7M97.2 47.0h0.7M112.3 33.5h0.7M97.0 48.2h0.7M98.1 46.6h0.7M111.5 33.1h0.7M106.1 37.4h0.7M109.8 35.1h0.7M113.0 33.2h0.7M97.5 51.5h0.7M95.1 50.1h0.7M112.4 32.5h0.7M105.7 36.9h0.7M95.7 47.5h0.7M102.2 47.2h0.7M95.7 46.8h0.7M113.0 29.7h0.7M112.9 33.0h0.7M112.8 30.5h0.7M107.7 35.7h0.7M101.9 48.0h0.7M109.8 35.7h0.7M93.3 42.0h0.7M110.0 35.2h0.7M109.8 35.8h0.7M98.3 43.8h0.7M92.0 49.9h0.7M107.7 35.9h0.7M100.9 44.5h0.7M105.7 45.9h0.7M90.9 51.6h0.7M111.8 31.3h0.7M106.1 35.5h0.7M96.8 49.1h0.7M104.5 38.4h0.7M99.1 48.0h0.7M102.7 37.0h0.7M56.1 86.1h0.7M74.6 84.9h0.7M58.8 85.4h0.7M52.1 85.9h0.7M60.7 85.8h0.7M75.2 85.4h0.7M66.0 86.2h0.7M57.0 85.2h0.7M70.8 86.1h0.7M61.9 84.9h0.7M66.6 86.0h0.7M74.9 86.6h0.7M66.1 85.8h0.7M61.4 85.2h0.7M63.0 85.8h0.7M65.1 86.3h0.7M63.0 85.2h0.7M66.1 86.7h0.7M55.7 85.9h0.7M64.5 86.0h0.7M64.2 85.5h0.7M60.4 86.7h0.7M71.9 84.6h0.7M45.0 85.9h0.7M56.7 85.2h0.7M50.9 85.8h0.7M60.7 85.2h0.7M66.7 87.3h0.7M70.3 86.4h0.7M58.4 86.0h0.7M60.8 86.4h0.7M64.7 85.6h0.7M64.5 85.1h0.7M66.0 86.6h0.7M58.7 86.0h0.7M50.5 86.2h0.7M66.5 84.9h0.7M72.0 85.7h0.7M50.1 84.7h0.7M66.5 85.4h0.7M68.0 84.5h0.7M60.4 86.3h0.7M56.7 86.1h0.7M58.7 85.8h0.7M63.0 87.1h0.7M53.2 86.1h0.7M69.3 84.8h0.7M61.5 87.2h0.7M67.6 83.6h0.7M59.5 84.4h0.7M62.9 85.1h0.7M57.5 85.0h0.7M62.9 85.3h0.7M55.3 85.4h0.7M63.6 85.0h0.7M68.0 84.5h0.7M63.6 85.3h0.7M70.9 85.2h0.7M56.8 84.7h0.7M73.5 86.0h0.7M54.2 85.4h0.7M55.0 86.6h0.7M63.6 84.2h0.7M62.3 86.2h0.7M61.0 85.9h0.7M60.3 85.7h0.7M62.3 85.1h0.7M63.2 85.7h0.7M60.8 85.1h0.7M54.6 85.8h0.7M66.2 84.0h0.7M57.6 86.5h0.7M66.8 85.1h0.7M69.5 84.9h0.7M56.0 86.9h0.7M58.2 85.5h0.7M50.6 84.9h0.7M53.6 85.5h0.7M49.4 86.3h0.7M58.8 85.2h0.7M57.0 86.1h0.7M70.7 85.3h0.7M71.2 86.7h0.7M69.5 85.8h0.7M51.6 86.1h0.7M58.4 85.7h0.7M49.1 85.4h0.7M62.5 85.0h0.7M62.9 86.7h0.7M62.5 85.1h0.7M76.1 84.1h0.7M55.2 85.9h0.7M57.3 84.0h0.7M62.6 86.2h0.7M56.0 86.6h0.7M64.2 86.4h0.7M51.3 85.6h0.7M71.1 87.0h0.7M69.3 85.6h0.7M62.2 85.2h0.7M68.0 85.1h0.7M61.8 84.2h0.7M51.5 86.8h0.7M61.4 85.7h0.7M47.1 85.6h0.7M74.1 84.6h0.7M45.9 85.5h0.7M57.6 85.5h0.7M53.0 84.7h0.7M53.2 86.0h0.7M60.7 86.2h0.7M54.2 86.0h0.7M58.2 85.7h0.7M66.9 85.6h0.7M58.8 84.5h0.7M61.4 86.1h0.7M57.0 85.6h0.7M49.8 84.7h0.7M63.6 86.5h0.7M59.0 84.5h0.7M58.6 84.5h0.7M59.2 86.9h0.7M62.9 85.5h0.7M67.6 85.3h0.7M63.1 85.7h0.7M63.8 84.6h0.7M65.5 86.2h0.7M46.5 83.7h0.7M55.3 86.6h0.7M61.1 86.1h0.7M64.5 86.2h0.7M56.9 85.2h0.7M63.4 86.0h0.7M64.7 85.8h0.7M57.9 86.4h0.7M64.0 86.3h0.7M44.8 86.3h0.7M45.4 85.7h0.7M56.8 85.7h0.7M58.0 85.4h0.7M62.2 85.8h0.7M55.9 83.9h0.7M56.0 86.0h0.7M55.6 85.9h0.7M58.6 84.9h0.7M68.5 86.7h0.7M60.3 85.6h0.7M67.1 84.7h0.7M55.4 86.4h0.7M66.8 85.3h0.7M56.0 85.8h0.7M52.0 85.3h0.7M59.5 83.9h0.7M64.8 86.1h0.7M67.9 84.6h0.7M52.7 85.0h0.7M52.6 87.0h0.7M54.7 85.4h0.7M62.3 85.9h0.7M70.3 84.8h0.7M66.7 85.7h0.7M53.5 85.7h0.7M52.0 86.7h0.7M56.3 86.3h0.7M69.4 85.2h0.7M55.2 85.7h0.7M54.2 86.2h0.7M62.1 85.1h0.7M56.6 86.1h0.7M51.6 86.8h0.7M55.0 75.7h0.7M53.7 87.5h0.7M69.4 85.4h0.7M67.8 77.6h0.7M77.2 81.3h0.7M65.9 80.7h0.7M68.6 78.8h0.7M60.5 66.7h0.7M80.4 68.6h0.7M42.7 72.4h0.7M79.3 84.9h0.7M56.6 78.7h0.7M61.8 64.1h0.7M59.0 78.9h0.7M72.5 69.2h0.7M65.0 77.5h0.7M63.3 78.0h0.7M58.7 68.1h0.7M66.1 79.5h0.7M67.2 85.1h0.7M50.9 61.8h0.7M53.8 79.6h0.7M61.9 81.7h0.7M90.9 73.6h0.7M60.5 73.1h0.7M64.2 80.4h0.7M53.3 85.6h0.7M72.3 79.9h0.7M61.0 75.5h0.7M47.2 81.3h0.7M53.2 73.7h0.7M71.0 71.0h0.7M57.3 82.6h0.7M78.7 72.5h0.7M71.9 72.7h0.7M65.5 80.1h0.7M51.8 83.7h0.7M78.2 77.3h0.7M64.4 69.4h0.7M78.1 77.4h0.7M50.5 82.0h0.7M48.8 72.5h0.7M42.8 85.9h0.7M81.9 72.9h0.7M56.1 73.2h0.7M56.9 80.6h0.7M75.1 70.5h0.7M66.0 65.3h0.7M75.7 76.4h0.7M55.7 87.0h0.7M61.0 85.9h0.7M71.7 87.8h0.7M54.8 77.4h0.7M65.3 75.7h0.7M75.7 72.4h0.7M71.0 85.9h0.7M44.4 70.7h0.7M53.9 73.5h0.7M65.5 75.9h0.7M62.7 74.0h0.7M61.3 80.1h0.7M68.7 71.9h0.7M61.0 72.0h0.7M60.4 67.7h0.7M70.6 81.4h0.7M60.9 72.6h0.7M57.9 72.7h0.7M48.1 87.6h0.7M91.6 69.0h0.7M51.5 80.8h0.7M67.5 66.8h0.7M44.7 80.5h0.7M44.1 86.3h0.7M57.5 77.6h0.7M62.0 73.4h0.7M60.7 75.1h0.7M73.2 76.4h0.7M61.7 73.6h0.7M56.3 72.2h0.7M72.0 78.5h0.7M77.0 83.6h0.7M63.9 75.9h0.7M52.1 78.6h0.7M59.2 66.7h0.7M63.9 80.2h0.7M63.8 74.0h0.7M66.2 84.0h0.7M59.2 80.3h0.7M71.2 73.9h0.7M63.5 72.2h0.7M67.4 74.6h0.7M72.3 72.0h0.7M77.2 75.0h0.7M54.4 71.1h0.7M68.0 71.4h0.7M78.2 85.3h0.7M66.7 67.8h0.7M61.8 72.3h0.7M45.7 79.8h0.7M81.8 73.5h0.7M69.3 85.3h0.7M53.4 74.8h0.7M64.4 80.1h0.7M51.7 78.4h0.7M61.0 83.2h0.7M47.6 73.3h0.7M57.5 74.9h0.7M68.5 72.9h0.7M86.6 72.4h0.7M69.6 83.6h0.7M70.7 75.7h0.7M54.5 75.3h0.7M68.0 77.8h0.7M67.2 80.7h0.7M54.0 70.9h0.7M75.0 73.8h0.7M54.5 70.9h0.7M70.7 69.6h0.7M54.2 83.8h0.7M63.2 77.4h0.7" stroke="#222" stroke-width="0.7" fill="none" opacity="0.8"/>
<path d="M116 28.2L102.5 41.6L96 49.5" stroke="#111" stroke-width="1" fill="none" stroke-linecap="round"/>
<path d="M102.8 41.2L84 64.5L91.5 63.5L99 48Z" fill="#333" opacity="0.75" filter="url(#b6)"/>
<path d="M102.6 41.5L89.5 58.5L92.5 58L99.5 46.5Z" fill="#111" filter="url(#b3)"/>
<g filter="url(#b3)">
<path d="M50.4 77C50.4 72 56 70.5 63 70.5C69 70.5 74 71.6 76.8 73.4C78.5 71.6 80.5 70.9 83.4 70.9C86.4 70.9 88.6 71.8 90.2 73.4C92 71.4 95 70.6 100.5 70.6C106 70.6 110.4 71.8 111 76C110.8 80.2 106 81.4 100.5 81.4C95 81.4 92 80.6 90.2 78.8C88.6 80.4 86.4 81.4 83.4 81.4C80.5 81.4 78.5 80.8 76.8 79.4C74 82 69 83.6 63 83.6C56 83.6 50.4 82 50.4 77Z" fill="#8c8c8c" stroke="#777" stroke-width="2.6" opacity="0.45"/>
<path d="M50.4 77C50.4 72 56 70.5 63 70.5C69 70.5 74 71.6 76.8 73.4C78.5 71.6 80.5 70.9 83.4 70.9C86.4 70.9 88.6 71.8 90.2 73.4C92 71.4 95 70.6 100.5 70.6C106 70.6 110.4 71.8 111 76C110.8 80.2 106 81.4 100.5 81.4C95 81.4 92 80.6 90.2 78.8C88.6 80.4 86.4 81.4 83.4 81.4C80.5 81.4 78.5 80.8 76.8 79.4C74 82 69 83.6 63 83.6C56 83.6 50.4 82 50.4 77Z" fill="#a0a0a0" stroke="#1a1a1a" stroke-width="1.2"/>
<ellipse cx="63.4" cy="77" rx="11.4" ry="5.3" fill="#bdbdbd" stroke="#666" stroke-width="0.6"/>
<ellipse cx="63.8" cy="77" rx="9.2" ry="3.7" fill="#dadada" stroke="#999" stroke-width="0.5"/>
<ellipse cx="64" cy="77" rx="7.6" ry="2.5" fill="#ececec"/>
<ellipse cx="64.4" cy="77" rx="6.4" ry="1.5" fill="#fafafa"/>
<rect x="87.5" y="73.4" width="6" height="5.6" fill="#1a1a1a"/>
<rect x="75.6" y="73.8" width="3" height="5.2" fill="#333"/>
<ellipse cx="83.5" cy="76.1" rx="6.9" ry="5" fill="#1a1a1a"/>
<ellipse cx="83.6" cy="76.2" rx="4.6" ry="2.9" fill="#969696"/>
<ellipse cx="84" cy="76.3" rx="2.6" ry="1.2" fill="#f0f0f0"/>
<ellipse cx="100.6" cy="76" rx="10.5" ry="5" fill="#1a1a1a"/>
<ellipse cx="100.6" cy="76" rx="8.3" ry="2.9" fill="#969696"/>
<ellipse cx="100.4" cy="76" rx="6" ry="1.2" fill="#dcdcdc"/>
<path d="M87.5 76.1H93.5" stroke="#888" stroke-width="1.3"/>
</g>
</g>
<rect x="41.5" y="15.5" width="74.5" height="73.9" fill="none" stroke="#111" stroke-width="1.1"/>
<rect x="47.2" y="68.5" width="27.1" height="18.3" fill="none" stroke="#111" stroke-width="0.9"/>
<path d="M68.8 78V41.4H133" stroke="#111" stroke-width="1.25" fill="none"/>
<path d="M138.4 41.4L131.9 38.2V44.6Z" fill="#111"/>
<text x="77.9" y="13" font-size="7.6" text-anchor="middle" textLength="52.8" lengthAdjust="spacingAndGlyphs" stroke="#111" stroke-width="0.1">FSC/SSC gated</text>
<text x="46.8" y="64.4" font-size="7.8" textLength="20.4" lengthAdjust="spacingAndGlyphs" stroke="#111" stroke-width="0.1">28.5%</text>
<text x="36" y="105" font-size="8" textLength="78.8" lengthAdjust="spacingAndGlyphs" stroke="#111" stroke-width="0.1">Gr1 CD11b Ter119 CD3</text>
<text x="31" y="88.2" font-size="7.6" textLength="6.3" lengthAdjust="spacingAndGlyphs" transform="rotate(-90 31 88.2)" stroke="#111" stroke-width="0.1">PI</text>
<path d="M28.6 79.6V56.7" stroke="#111" stroke-width="1.25" fill="none"/>
<path d="M28.6 51.2L25.4 57.7H31.8Z" fill="#111"/>
<text x="58.2" y="96" font-size="3.3" text-anchor="middle" fill="#111" stroke="#111" stroke-width="0.15">0</text>
<text x="78.5" y="96" font-size="3.3" text-anchor="middle" fill="#111" stroke="#111" stroke-width="0.15">10<tspan dy="-1" font-size="2">2</tspan></text>
<text x="94.5" y="96" font-size="3.3" text-anchor="middle" fill="#111" stroke="#111" stroke-width="0.15">10<tspan dy="-1" font-size="2">3</tspan></text>
<text x="109.3" y="96" font-size="3.3" text-anchor="middle" fill="#111" stroke="#111" stroke-width="0.15">10<tspan dy="-1" font-size="2">4</tspan></text>
<text x="35.2" y="77.6" font-size="3.3" text-anchor="middle" fill="#111" stroke="#111" stroke-width="0.15">0</text>
<text x="35.2" y="68.8" font-size="3.3" text-anchor="middle" fill="#111" stroke="#111" stroke-width="0.15">10<tspan dy="-1" font-size="2">2</tspan></text>
<text x="35.2" y="53" font-size="3.3" text-anchor="middle" fill="#111" stroke="#111" stroke-width="0.15">10<tspan dy="-1" font-size="2">3</tspan></text>
<text x="35.2" y="37.5" font-size="3.3" text-anchor="middle" fill="#111" stroke="#111" stroke-width="0.15">10<tspan dy="-1" font-size="2">4</tspan></text>
<text x="35.2" y="22" font-size="3.3" text-anchor="middle" fill="#111" stroke="#111" stroke-width="0.15">10<tspan dy="-1" font-size="2">5</tspan></text>
<g id="p2">
<path d="M166.9 57.8h0.65M168.5 59.8h0.65M182.5 47.3h0.65M163.9 39.1h0.65M190.5 59.3h0.65M173.8 59.4h0.65M185.0 63.2h0.65M183.4 58.3h0.65M172.7 59.4h0.65M153.5 70.9h0.65M156.6 50.1h0.65M181.4 60.6h0.65M182.9 77.1h0.65M194.5 73.8h0.65M171.5 80.5h0.65M164.3 59.1h0.65M185.0 57.9h0.65M172.7 56.5h0.65M189.0 35.3h0.65M188.0 70.6h0.65M173.2 65.6h0.65M163.3 71.1h0.65M207.7 50.8h0.65M189.4 59.4h0.65M170.3 55.1h0.65M171.9 47.5h0.65M159.1 76.6h0.65M173.8 65.5h0.65M177.4 64.8h0.65M157.2 50.5h0.65M181.0 70.0h0.65M161.4 54.2h0.65M162.2 66.5h0.65M177.8 60.3h0.65M166.9 63.4h0.65M174.4 52.6h0.65M177.7 53.4h0.65M184.5 66.3h0.65M166.4 65.9h0.65M174.7 52.9h0.65M163.9 43.4h0.65M161.6 63.5h0.65M187.3 53.7h0.65M175.8 63.4h0.65M182.6 64.4h0.65M187.5 67.7h0.65M165.6 64.0h0.65M148.2 58.2h0.65M174.2 65.8h0.65M170.7 68.3h0.65M188.5 51.6h0.65M168.0 62.6h0.65M179.4 61.4h0.65M183.1 48.2h0.65M182.5 71.7h0.65M186.2 64.3h0.65M171.4 64.0h0.65M173.2 44.1h0.65M167.3 59.6h0.65M168.3 50.7h0.65M171.4 56.3h0.65M174.8 59.5h0.65M175.9 69.9h0.65M175.5 64.1h0.65M160.6 30.5h0.65M169.6 66.8h0.65M170.3 53.8h0.65M160.4 68.9h0.65M168.2 62.5h0.65M186.4 65.4h0.65M198.7 58.7h0.65M184.5 66.9h0.65M166.8 60.5h0.65M167.8 49.8h0.65M177.3 52.3h0.65M192.5 52.6h0.65M168.0 60.9h0.65M168.3 60.5h0.65M167.3 45.8h0.65M147.5 47.1h0.65M190.7 64.4h0.65M175.7 55.4h0.65M172.4 63.0h0.65M158.7 52.0h0.65M164.2 72.6h0.65M162.4 71.7h0.65M168.9 87.3h0.65M173.1 60.3h0.65M188.9 68.7h0.65M184.3 49.3h0.65M186.5 76.8h0.65M172.9 55.2h0.65M162.0 70.2h0.65M177.2 60.1h0.65M160.4 76.2h0.65M183.6 59.8h0.65M190.2 50.5h0.65M183.7 50.0h0.65M189.5 57.2h0.65M187.5 55.8h0.65M178.4 71.4h0.65M164.1 61.0h0.65M164.8 68.5h0.65M167.4 56.3h0.65M171.8 71.6h0.65M162.5 59.7h0.65M170.4 54.5h0.65M165.3 58.4h0.65M176.2 44.5h0.65M176.6 48.2h0.65M174.2 82.8h0.65M163.4 59.3h0.65M171.2 69.8h0.65M168.8 42.1h0.65M156.3 61.8h0.65M176.8 70.7h0.65M168.1 66.7h0.65M162.3 73.0h0.65M173.2 53.2h0.65M176.0 77.4h0.65M164.7 47.6h0.65M162.8 48.4h0.65M173.4 63.5h0.65M172.2 62.0h0.65M187.0 57.1h0.65M160.2 37.1h0.65M176.7 53.2h0.65M171.3 64.1h0.65M179.1 44.3h0.65M163.5 60.7h0.65M172.4 71.5h0.65M168.5 39.4h0.65M186.9 43.6h0.65M163.3 63.9h0.65M162.3 84.9h0.65M176.6 65.4h0.65M169.2 82.2h0.65M179.9 52.8h0.65M187.8 43.1h0.65M167.5 62.9h0.65M175.5 50.4h0.65M191.4 74.7h0.65M163.7 63.7h0.65M167.0 55.7h0.65M184.8 61.3h0.65M172.8 61.0h0.65M161.1 72.2h0.65M165.7 73.1h0.65M169.0 55.4h0.65M190.3 61.9h0.65M167.0 54.6h0.65M180.7 78.7h0.65M180.8 56.1h0.65M161.7 53.3h0.65M172.7 62.4h0.65M166.8 72.8h0.65M163.5 52.9h0.65M179.5 64.8h0.65M169.7 69.6h0.65M158.5 76.3h0.65M198.1 79.5h0.65M175.3 79.7h0.65M174.6 73.3h0.65M171.8 61.9h0.65M179.8 42.5h0.65M171.7 77.2h0.65M184.1 63.3h0.65M176.1 73.9h0.65M177.7 41.1h0.65M163.6 57.0h0.65M175.6 55.5h0.65M172.8 76.7h0.65M184.3 66.0h0.65M174.2 60.6h0.65M178.0 62.4h0.65M166.0 67.8h0.65M164.9 59.6h0.65M170.1 48.5h0.65M180.7 59.3h0.65M161.2 59.2h0.65M158.9 74.3h0.65M179.7 79.8h0.65M167.8 67.0h0.65M163.4 51.5h0.65M173.0 64.1h0.65M184.1 57.3h0.65M186.1 69.6h0.65M164.4 58.2h0.65M164.0 77.0h0.65M168.0 68.8h0.65M184.0 57.5h0.65M168.7 63.4h0.65M165.5 47.4h0.65M163.4 63.4h0.65M176.1 77.6h0.65M154.0 65.0h0.65M161.4 71.5h0.65M181.6 61.3h0.65M190.2 56.3h0.65M168.2 49.5h0.65M166.8 61.1h0.65M181.4 72.7h0.65M171.1 52.7h0.65M170.3 55.7h0.65M168.9 56.0h0.65M164.5 59.5h0.65M168.4 58.3h0.65M158.9 61.4h0.65M180.3 66.4h0.65M168.0 48.7h0.65M159.8 48.4h0.65M167.0 56.9h0.65M154.6 66.7h0.65M157.2 53.2h0.65M166.1 68.2h0.65M194.1 56.5h0.65M171.0 56.1h0.65M171.8 58.3h0.65M200.9 49.2h0.65M172.8 52.2h0.65M177.9 54.9h0.65M180.3 49.3h0.65M197.0 62.1h0.65M154.7 66.9h0.65M168.9 48.6h0.65M178.8 54.9h0.65M182.0 54.6h0.65M183.8 61.5h0.65M177.9 61.6h0.65M170.0 56.4h0.65M178.9 67.0h0.65M169.6 82.1h0.65M192.4 48.7h0.65M185.8 59.3h0.65M176.5 52.2h0.65M192.0 51.9h0.65M173.1 52.9h0.65M195.0 72.4h0.65M159.7 55.6h0.65M178.0 55.8h0.65M170.2 49.4h0.65M176.7 49.2h0.65M183.0 83.6h0.65M170.5 76.2h0.65M178.1 53.4h0.65M170.3 50.5h0.65M175.2 66.9h0.65M184.1 57.3h0.65M161.0 59.3h0.65M192.2 62.8h0.65M173.3 39.6h0.65M169.3 65.4h0.65M163.7 73.3h0.65M167.9 51.5h0.65M167.7 59.1h0.65M184.8 54.5h0.65M154.7 59.2h0.65M179.7 75.2h0.65M161.8 74.6h0.65M181.3 64.5h0.65M156.5 59.4h0.65M155.4 77.2h0.65M162.3 78.5h0.65M171.7 68.2h0.65M160.7 86.8h0.65M153.3 63.6h0.65M158.8 64.3h0.65M161.8 59.8h0.65M167.9 54.7h0.65M156.2 51.5h0.65M152.7 73.8h0.65M164.7 66.1h0.65M166.0 74.1h0.65M157.6 67.7h0.65M163.2 87.7h0.65M158.4 71.7h0.65M164.2 80.0h0.65M163.5 78.6h0.65M154.7 65.5h0.65M149.6 67.6h0.65M174.8 70.4h0.65M161.5 70.7h0.65M161.9 55.1h0.65M156.9 66.3h0.65M162.0 59.6h0.65M160.4 60.9h0.65M153.2 61.6h0.65M156.3 76.3h0.65M168.9 73.7h0.65M159.8 62.6h0.65M151.7 62.9h0.65M170.2 79.3h0.65M162.3 65.7h0.65M161.0 72.2h0.65M161.0 72.2h0.65M156.5 68.5h0.65M158.9 78.6h0.65M153.7 80.7h0.65M160.5 63.2h0.65M161.1 69.3h0.65M159.6 72.2h0.65M157.6 51.5h0.65M165.1 67.8h0.65M170.8 71.8h0.65M149.2 80.2h0.65M156.9 73.4h0.65M174.1 78.7h0.65M154.6 67.2h0.65M151.5 74.6h0.65M164.3 58.1h0.65M163.7 77.2h0.65M165.8 61.5h0.65M156.9 57.1h0.65M153.4 71.1h0.65M161.2 80.8h0.65M162.6 64.9h0.65M152.6 83.1h0.65M162.0 67.8h0.65M155.1 57.9h0.65M164.7 58.6h0.65M164.4 74.2h0.65M158.8 52.3h0.65M163.4 81.8h0.65M156.1 55.8h0.65M167.4 69.5h0.65M157.3 80.0h0.65M159.4 72.5h0.65M158.6 60.8h0.65M162.3 59.7h0.65M150.5 62.8h0.65M168.3 78.8h0.65M173.8 77.7h0.65M170.5 70.5h0.65M158.4 72.6h0.65M155.4 75.2h0.65M158.4 70.6h0.65M156.0 66.8h0.65M166.8 66.0h0.65M157.0 70.8h0.65M166.2 66.3h0.65M154.1 53.0h0.65M153.1 78.4h0.65M160.5 72.7h0.65M167.3 70.9h0.65M163.8 63.2h0.65M151.5 74.2h0.65M160.4 73.7h0.65M154.7 66.7h0.65M172.9 60.0h0.65M161.6 80.8h0.65M159.6 69.3h0.65M148.5 75.6h0.65M158.4 80.6h0.65M160.5 64.5h0.65M163.6 65.8h0.65M158.0 83.0h0.65M166.8 69.2h0.65M165.8 76.1h0.65M164.4 68.6h0.65M161.4 72.1h0.65M164.3 71.5h0.65M157.8 67.4h0.65M163.7 58.6h0.65M160.9 75.4h0.65M162.0 65.4h0.65M160.9 63.5h0.65M166.8 64.5h0.65M151.2 56.5h0.65M162.8 70.1h0.65M158.2 55.5h0.65M160.1 60.1h0.65M157.1 68.1h0.65M156.5 71.1h0.65M156.7 63.7h0.65M159.7 82.2h0.65M170.3 77.2h0.65M156.7 68.2h0.65M166.4 75.9h0.65M151.4 67.6h0.65M156.7 75.3h0.65M164.7 63.0h0.65M173.6 65.5h0.65M175.3 66.5h0.65M160.5 86.3h0.65M157.9 63.6h0.65M169.7 67.8h0.65M163.8 56.1h0.65M171.5 77.6h0.65M163.1 74.9h0.65M158.1 63.6h0.65M151.8 71.7h0.65M168.3 76.3h0.65M166.4 74.9h0.65M155.6 55.7h0.65M164.8 69.7h0.65M166.8 65.5h0.65M155.8 72.4h0.65M157.7 52.5h0.65M157.4 59.8h0.65M154.5 62.9h0.65M193.7 83.8h0.65M194.7 65.3h0.65M194.0 67.6h0.65M193.0 63.6h0.65M192.4 56.9h0.65M194.8 63.0h0.65M193.2 64.2h0.65M192.8 60.3h0.65M192.0 74.2h0.65M193.3 55.2h0.65M193.6 59.4h0.65M192.9 71.6h0.65M191.7 66.0h0.65M192.2 70.8h0.65M193.7 77.2h0.65M192.9 81.4h0.65M191.3 80.0h0.65M192.2 73.2h0.65M192.3 68.7h0.65M191.3 70.7h0.65M195.1 69.1h0.65M192.5 68.1h0.65M193.4 66.8h0.65M192.5 69.6h0.65M194.2 74.4h0.65M191.2 63.9h0.65M192.5 73.8h0.65M193.7 66.7h0.65M195.2 67.0h0.65M194.3 77.6h0.65M194.5 69.5h0.65M193.2 58.0h0.65M190.2 64.1h0.65M193.4 75.2h0.65M192.4 75.0h0.65M193.2 78.2h0.65M190.5 62.6h0.65M191.3 61.2h0.65M194.6 62.0h0.65M191.4 65.5h0.65M193.6 65.0h0.65M193.4 71.8h0.65M191.7 52.4h0.65M191.3 59.8h0.65M194.6 63.3h0.65M191.1 70.6h0.65M192.6 61.9h0.65M193.9 74.2h0.65M192.9 63.1h0.65M191.4 54.5h0.65M193.0 70.7h0.65M191.3 68.3h0.65M196.7 60.6h0.65M190.3 72.2h0.65M192.0 64.8h0.65M193.3 67.2h0.65M193.8 71.5h0.65M194.0 68.9h0.65M189.8 77.1h0.65M190.3 75.0h0.65M192.8 58.9h0.65M192.6 74.0h0.65M191.2 68.4h0.65M191.6 61.4h0.65M191.7 76.6h0.65M193.4 67.9h0.65M192.4 68.9h0.65M192.9 69.3h0.65M190.3 74.2h0.65M191.4 50.8h0.65M193.4 60.1h0.65M192.3 67.5h0.65M191.7 71.6h0.65M192.2 66.2h0.65M191.3 66.2h0.65M191.2 68.4h0.65M194.2 74.8h0.65M193.0 59.0h0.65M193.8 74.3h0.65M195.1 53.1h0.65M192.5 65.9h0.65M193.9 60.8h0.65M192.0 83.5h0.65M193.8 54.8h0.65M192.5 77.2h0.65M191.7 72.0h0.65M192.6 58.3h0.65M191.7 75.6h0.65M194.0 64.1h0.65M193.9 63.3h0.65M187.9 53.9h0.65M176.2 56.5h0.65M182.9 33.2h0.65M179.5 47.6h0.65M179.4 46.6h0.65M180.6 35.4h0.65M193.0 54.6h0.65M188.0 52.0h0.65M186.5 52.1h0.65M177.4 42.5h0.65M186.6 61.8h0.65M187.8 66.4h0.65M175.3 52.0h0.65M181.1 63.5h0.65M199.3 50.1h0.65M191.8 52.2h0.65M178.1 53.2h0.65M177.8 65.9h0.65M190.6 63.1h0.65M188.8 35.5h0.65M192.3 54.7h0.65M167.2 54.8h0.65M194.0 67.1h0.65M178.0 60.1h0.65M188.6 52.7h0.65M183.8 58.1h0.65M190.5 59.1h0.65M182.8 44.0h0.65M196.4 64.0h0.65M181.6 53.8h0.65M192.4 40.6h0.65M189.9 72.5h0.65M188.1 48.6h0.65M202.1 54.1h0.65M187.7 50.8h0.65M187.4 40.3h0.65M175.9 42.7h0.65M193.1 53.3h0.65M195.1 38.4h0.65M181.3 65.2h0.65M179.8 39.8h0.65M180.1 51.4h0.65M185.9 64.0h0.65M196.5 65.9h0.65M190.6 50.2h0.65M182.1 42.7h0.65M196.0 63.6h0.65M186.7 47.2h0.65M191.3 57.8h0.65M187.2 45.1h0.65M187.9 49.7h0.65M191.8 58.6h0.65M189.5 50.7h0.65M198.0 60.0h0.65M196.0 60.4h0.65M191.2 57.0h0.65M177.6 40.1h0.65M178.6 58.7h0.65M193.2 55.4h0.65M186.7 68.1h0.65M182.9 40.3h0.65M173.8 51.5h0.65M191.5 59.7h0.65M184.3 60.3h0.65M185.6 48.5h0.65M183.0 59.8h0.65M193.5 45.4h0.65M178.2 54.9h0.65M202.7 45.0h0.65M176.2 57.2h0.65M190.0 49.3h0.65M185.8 57.7h0.65M172.3 53.8h0.65M190.7 61.1h0.65M195.1 53.5h0.65M174.7 64.3h0.65M192.1 49.1h0.65M194.1 62.0h0.65M184.9 35.9h0.65M182.3 48.2h0.65M179.4 53.4h0.65M177.5 57.0h0.65M200.8 44.9h0.65M194.2 49.9h0.65M190.3 53.0h0.65M196.1 48.6h0.65M191.7 48.1h0.65M187.8 53.9h0.65M194.5 41.9h0.65M175.4 64.7h0.65M189.0 67.0h0.65M177.9 55.6h0.65M190.7 67.6h0.65M185.6 50.6h0.65M191.6 53.2h0.65M180.1 59.8h0.65M171.1 46.2h0.65M196.7 50.2h0.65M183.5 56.9h0.65M194.8 58.1h0.65M178.5 49.6h0.65M194.2 53.1h0.65M181.1 60.7h0.65M194.9 70.7h0.65M177.6 48.6h0.65M180.6 56.7h0.65M182.3 62.6h0.65M165.0 61.4h0.65M181.0 51.9h0.65M190.4 55.6h0.65M178.1 65.5h0.65M190.5 50.2h0.65M187.6 45.5h0.65M176.4 51.7h0.65M188.9 54.8h0.65M179.9 43.4h0.65M172.9 66.3h0.65M188.9 47.9h0.65M195.3 58.1h0.65M182.8 49.3h0.65M188.9 74.2h0.65M192.8 74.4h0.65M175.4 68.0h0.65M174.5 73.7h0.65M182.0 76.1h0.65M183.5 65.0h0.65M178.4 65.7h0.65M183.8 63.2h0.65M175.5 66.2h0.65M175.2 70.3h0.65M191.8 70.3h0.65M168.8 70.0h0.65M185.8 75.7h0.65M181.9 85.4h0.65M188.6 72.6h0.65M189.5 63.0h0.65M178.7 66.2h0.65M181.4 82.9h0.65M176.1 82.7h0.65M172.0 81.6h0.65M166.8 66.3h0.65M187.8 71.4h0.65M181.1 71.9h0.65M181.4 70.8h0.65M172.4 70.1h0.65M180.9 66.0h0.65M183.6 83.8h0.65M167.2 68.3h0.65M177.8 72.1h0.65M180.7 67.1h0.65M179.7 72.0h0.65M179.3 82.3h0.65M181.0 62.1h0.65M167.8 76.0h0.65M177.3 67.8h0.65M169.5 69.9h0.65M179.3 67.4h0.65M177.3 78.0h0.65M186.1 75.7h0.65M178.7 62.9h0.65M186.0 82.0h0.65M189.9 79.8h0.65M182.2 74.5h0.65M179.9 80.4h0.65M177.9 86.4h0.65M186.0 69.8h0.65M180.0 61.2h0.65M174.3 70.0h0.65M199.0 66.5h0.65M187.1 72.5h0.65M177.7 76.2h0.65M164.5 78.3h0.65M195.0 74.0h0.65M179.5 73.1h0.65M185.2 68.7h0.65M180.9 75.4h0.65M177.3 74.6h0.65M182.6 76.8h0.65M172.3 68.4h0.65M176.7 80.0h0.65M181.9 60.9h0.65M170.1 85.0h0.65M182.6 63.3h0.65M172.9 73.0h0.65M191.1 82.9h0.65M177.2 70.0h0.65M194.9 65.4h0.65M192.1 74.3h0.65M180.7 80.6h0.65M183.8 66.4h0.65M168.2 72.1h0.65M184.0 81.2h0.65M159.7 81.0h0.65M184.8 82.2h0.65M186.2 73.4h0.65M183.4 74.7h0.65M175.1 71.2h0.65M181.0 69.0h0.65M168.6 62.3h0.65M183.9 75.5h0.65M180.8 64.1h0.65M186.6 69.4h0.65M163.9 82.5h0.65M168.4 87.2h0.65M184.1 69.0h0.65M161.7 67.3h0.65M191.5 81.1h0.65M182.0 60.5h0.65M177.0 70.1h0.65M183.6 71.2h0.65M199.7 38.1h0.65M186.3 79.4h0.65M175.2 72.4h0.65M176.1 76.8h0.65M169.8 64.5h0.65M189.4 76.7h0.65M211.0 62.6h0.65M188.5 46.8h0.65M200.6 58.4h0.65M188.6 38.4h0.65M193.0 58.5h0.65M208.4 53.1h0.65M173.7 45.5h0.65M194.5 63.4h0.65M204.9 54.9h0.65M202.3 61.9h0.65M197.0 67.6h0.65M211.6 47.6h0.65M188.6 56.3h0.65M166.0 77.6h0.65M209.6 60.3h0.65M207.3 40.9h0.65M215.8 65.7h0.65M178.7 60.7h0.65M205.3 73.3h0.65M162.3 48.5h0.65M164.8 46.9h0.65M161.2 57.1h0.65M155.2 54.5h0.65M152.9 45.7h0.65M156.1 51.4h0.65M164.6 51.7h0.65M165.5 52.7h0.65M160.6 55.3h0.65M160.5 52.9h0.65M166.1 48.2h0.65M166.5 44.5h0.65M160.5 40.3h0.65M159.2 62.7h0.65M163.1 60.6h0.65M155.1 45.2h0.65M163.5 57.6h0.65M165.2 40.7h0.65M163.7 51.5h0.65M162.0 55.2h0.65M160.3 40.6h0.65M156.8 42.2h0.65M155.7 51.1h0.65M167.2 47.2h0.65M158.2 44.2h0.65M153.9 52.5h0.65M159.4 50.4h0.65M157.3 55.3h0.65M156.2 55.7h0.65M158.6 57.3h0.65M157.6 55.0h0.65M163.4 51.5h0.65M168.7 53.2h0.65M157.6 56.7h0.65M157.9 48.3h0.65M161.6 53.2h0.65M169.0 40.2h0.65M160.4 59.6h0.65M160.8 54.2h0.65M168.2 43.7h0.65M161.7 57.4h0.65M158.9 40.2h0.65M157.1 53.3h0.65M162.3 64.5h0.65M167.3 41.5h0.65M166.0 58.2h0.65M168.6 51.0h0.65M159.1 53.0h0.65M168.3 56.2h0.65M168.9 57.3h0.65M158.9 45.2h0.65M169.6 41.8h0.65M160.0 49.9h0.65M157.5 48.1h0.65M161.5 68.1h0.65M161.2 48.5h0.65M162.0 58.4h0.65M157.9 49.3h0.65M153.8 56.8h0.65M164.5 62.2h0.65M156.2 66.7h0.65M165.3 50.1h0.65M159.8 49.9h0.65M156.2 57.2h0.65M158.8 47.1h0.65M163.8 52.8h0.65M158.9 50.4h0.65M159.3 61.1h0.65M165.9 47.1h0.65M161.3 61.3h0.65M160.2 64.1h0.65M163.5 56.5h0.65M152.4 57.8h0.65M163.0 55.9h0.65M163.6 55.6h0.65M159.3 58.1h0.65M161.8 44.9h0.65M157.0 53.1h0.65M163.0 37.0h0.65M152.4 59.1h0.65" stroke="#333" stroke-width="0.65" fill="none" opacity="0.8"/>
<g filter="url(#b3)">
<path d="M155 47C155 43 158 42.5 161.5 42.5C165 42.5 168 43.5 168.3 47C168.5 52 167 58 167.5 64C169.5 68 170 74 168.5 78C167 81.5 164 82.5 162 82.5C159 82.5 156.5 80.5 156 77C155.5 72 157 68 157.5 64C157 58 155 52 155 47Z" fill="#f0f0f0" stroke="#777" stroke-width="0.6"/>
<path d="M157.5 48C157.5 45.5 159.5 45 161.5 45C164 45 166 46 166 48.5C166 53 164.5 58 164 62C163.5 60 159 60 158.8 58C158.5 54 157.5 51 157.5 48Z" fill="#e2e2e2" stroke="#888" stroke-width="0.5"/>
<path d="M159.6 49C159.6 47.5 160.6 47 161.8 47C163.2 47 164.2 47.8 164 49.5C163.8 52.5 163 55 162.4 57.5C161.5 56.5 160.4 56 160.3 54.5C160.2 52.5 159.6 50.5 159.6 49Z" fill="#d4d4d4" stroke="#999" stroke-width="0.4"/>
<ellipse cx="162.6" cy="74" rx="5.2" ry="6.8" fill="#d2d2d2" stroke="#666" stroke-width="0.7"/>
<ellipse cx="162.6" cy="74.2" rx="3.6" ry="4.8" fill="#c2c2c2" stroke="#777" stroke-width="0.6"/>
<ellipse cx="162.8" cy="74.4" rx="2" ry="2.8" fill="#d8d8d8" stroke="#888" stroke-width="0.5"/>
<g transform="translate(184.6 45.6) scale(1.12 1.1) translate(-185.5 -48.5)">
<path d="M186 38C188.5 37 191.5 38.5 192.5 42C194 47 195.5 51 194.5 54.5C193.5 58 189 59 185 58.5C180.5 58 176.5 55.5 175.5 52C174.5 48.5 177.5 46 180 43.5C182 41.5 183.5 39 186 38Z" fill="#d2d2d2" stroke="#666" stroke-width="0.7"/>
<path d="M186.3 40.3C188.3 39.8 190.3 41 191 44C192 48 193.2 51 192.3 53.6C191.4 56 188.5 56.8 185.3 56.3C181.8 55.8 178.8 54 178 51.5C177.3 49 179.5 47 181.5 44.8C183 43 184.3 40.8 186.3 40.3Z" fill="#b8b8b8" stroke="#555" stroke-width="0.7"/>
<path d="M186.5 42.5C188 42.2 189.2 43.3 189.7 45.5C190.4 48.5 191.2 50.5 190.5 52.3C189.8 54 187.8 54.5 185.5 54.1C183 53.7 181 52.5 180.5 50.8C180 49 181.7 47.6 183 46C184.2 44.6 185 42.8 186.5 42.5Z" fill="#999" stroke="#333" stroke-width="0.7"/>
<ellipse cx="186" cy="49.6" rx="2.6" ry="3" fill="#777" stroke="#222" stroke-width="0.6"/>
<ellipse cx="186" cy="50" rx="1.2" ry="1.4" fill="#eee"/>
<ellipse cx="187.3" cy="44.6" rx="0.8" ry="1.2" fill="#ccc"/>
</g>
</g>
</g>
<rect x="143.2" y="15.4" width="74.9" height="74.2" fill="none" stroke="#111" stroke-width="1.1"/>
<rect x="149.3" y="65.3" width="21.8" height="20.9" fill="none" stroke="#111" stroke-width="0.9"/>
<path d="M168 69.5V34.5H231" stroke="#111" stroke-width="1.25" fill="none"/>
<path d="M236.8 34.5L230.4 31.3V37.7Z" fill="#111"/>
<text x="172.6" y="86.3" font-size="7.8" textLength="20.6" lengthAdjust="spacingAndGlyphs" stroke="#111" stroke-width="0.1">10.4%</text>
<text x="142.6" y="104.1" font-size="8" textLength="19.1" lengthAdjust="spacingAndGlyphs" stroke="#111" stroke-width="0.1">CD19</text>
<path d="M162.8 101.8H176.9" stroke="#111" stroke-width="1.25" fill="none"/>
<path d="M182.4 101.8L175.9 98.6V105.0Z" fill="#111"/>
<text x="131.5" y="89.1" font-size="7.5" textLength="15.2" lengthAdjust="spacingAndGlyphs" transform="rotate(-90 131.5 89.1)" stroke="#111" stroke-width="0.2">B220</text>
<path d="M130.1 71.5V57.1" stroke="#111" stroke-width="1.25" fill="none"/>
<path d="M130.1 51.6L126.9 58.1H133.3Z" fill="#111"/>
<text x="157.8" y="96" font-size="3.3" text-anchor="middle" fill="#111" stroke="#111" stroke-width="0.15">0</text>
<text x="164.4" y="96" font-size="3.3" text-anchor="middle" fill="#111" stroke="#111" stroke-width="0.15">10<tspan dy="-1" font-size="2">2</tspan></text>
<text x="181.2" y="96" font-size="3.3" text-anchor="middle" fill="#111" stroke="#111" stroke-width="0.15">10<tspan dy="-1" font-size="2">3</tspan></text>
<text x="196" y="96" font-size="3.3" text-anchor="middle" fill="#111" stroke="#111" stroke-width="0.15">10<tspan dy="-1" font-size="2">4</tspan></text>
<text x="211.6" y="96" font-size="3.3" text-anchor="middle" fill="#111" stroke="#111" stroke-width="0.15">10<tspan dy="-1" font-size="2">5</tspan></text>
<text x="136.6" y="75" font-size="3.3" text-anchor="middle" fill="#111" stroke="#111" stroke-width="0.15">0</text>
<text x="136.6" y="53" font-size="3.3" text-anchor="middle" fill="#111" stroke="#111" stroke-width="0.15">10<tspan dy="-1" font-size="2">3</tspan></text>
<text x="136.6" y="37.5" font-size="3.3" text-anchor="middle" fill="#111" stroke="#111" stroke-width="0.15">10<tspan dy="-1" font-size="2">4</tspan></text>
<text x="136.6" y="22.5" font-size="3.3" text-anchor="middle" fill="#111" stroke="#111" stroke-width="0.15">10<tspan dy="-1" font-size="2">5</tspan></text>
<g id="p3">
<path d="M250.0 59.6h0.6M257.3 67.4h0.6M273.0 77.6h0.6M254.1 74.0h0.6M252.5 65.0h0.6M263.3 68.0h0.6M255.8 75.0h0.6M261.5 61.8h0.6M259.9 51.7h0.6M267.6 65.3h0.6M265.6 80.1h0.6M255.2 59.2h0.6M262.1 70.3h0.6M260.6 71.1h0.6M265.6 44.9h0.6M256.7 42.3h0.6M259.8 58.0h0.6M266.6 63.7h0.6M261.5 74.2h0.6M266.6 50.1h0.6M256.6 65.2h0.6M275.3 60.1h0.6M260.7 64.6h0.6M268.1 61.1h0.6M264.3 57.9h0.6M257.7 54.3h0.6M267.1 56.6h0.6M266.3 65.9h0.6M269.6 36.0h0.6M254.5 50.2h0.6M260.7 69.8h0.6M281.8 77.0h0.6M272.6 65.7h0.6M259.0 67.2h0.6M262.1 68.0h0.6M254.0 51.4h0.6M257.0 61.6h0.6M264.7 58.6h0.6M264.7 68.6h0.6M252.9 61.0h0.6M268.3 61.7h0.6M290.0 60.4h0.6M298.4 69.9h0.6M289.8 66.8h0.6M289.6 74.5h0.6M282.9 61.9h0.6M277.2 81.0h0.6M280.4 62.4h0.6M275.8 52.9h0.6M277.6 68.5h0.6M277.7 60.1h0.6M285.6 69.6h0.6M278.2 68.4h0.6M273.4 72.7h0.6M273.3 63.4h0.6M283.2 62.7h0.6M271.9 82.3h0.6M295.3 52.4h0.6M283.1 56.1h0.6M284.7 55.9h0.6M287.1 70.1h0.6M297.0 75.4h0.6M278.0 73.4h0.6M278.0 65.1h0.6M277.6 52.3h0.6M287.3 50.2h0.6M279.9 70.1h0.6M283.0 53.7h0.6M276.3 71.3h0.6M291.7 78.4h0.6" stroke="#444" stroke-width="0.6" fill="none" opacity="0.7"/>
<g filter="url(#b3)">
<path d="M252.4 66C252 56 253 48.5 257.5 44.5C263 41.2 274 40.4 281 39.5C286 38.8 292 39.2 293.5 42.5C294.5 45.5 292 48.5 287.5 49.3C283 50 279.5 50.5 277.5 53C275.5 56 276.5 60 280 61.8C284 63.3 290 62.5 294 65.5C297.5 68.5 297.5 75 294 78.5C290 81.8 283 81.5 278 80C274.5 79.3 272.5 80.5 269.5 81.3C264 82.5 257.5 81 254.5 76C253 73 253.2 69.5 253 66Z" fill="#d8d8d8" stroke="#555" stroke-width="0.8"/>
<path d="M255 66C254.6 58 255.5 51 259.5 47.2C265 44 275 43 281 42C285.5 41.5 290 41.8 291 43.8C291.5 45.8 289.5 46.8 286.5 47.3C282 48 277.5 48.5 275.3 52C273.2 56 274.5 61.5 279 63.8C283 65.3 288.5 64.8 292 67.3C294.5 69.5 294.5 74.3 292 76.5C288.5 79 283 78.8 279 77.5C275 76.6 272 78 269 79C264 80 259 78.8 256.8 75C255.5 72.5 255.7 69 255.5 66Z" fill="#c0c0c0" stroke="#555" stroke-width="0.7"/>
<path d="M257.6 65C257.4 59 258.5 53.5 262 50C266.5 47.5 272 46.5 275 46.5C272.5 49.5 271 54 272 58.5C273 62 275.5 65 279 66.5C276 68 273.5 70 272.5 73C270 76.5 265 77.8 261.5 76C258.5 74 258.2 69 258 65Z" fill="#aaa" stroke="#555" stroke-width="0.6"/>
<ellipse cx="262.6" cy="56.5" rx="2.6" ry="5" fill="#999" stroke="#444" stroke-width="0.6" transform="rotate(15 262.6 56.5)"/>
<ellipse cx="262.6" cy="56.5" rx="1.2" ry="3" fill="#ccc" transform="rotate(15 262.6 56.5)"/>
<ellipse cx="269.3" cy="53.5" rx="2" ry="4.2" fill="#999" stroke="#444" stroke-width="0.6"/>
<ellipse cx="269.3" cy="53.5" rx="0.9" ry="2.4" fill="#ccc"/>
<ellipse cx="263.6" cy="70.5" rx="8.1" ry="7.7" fill="#8a8a8a" stroke="#222" stroke-width="1.2"/>
<path d="M257.4 76C254.8 71 256 65.5 259.6 63.2" stroke="#000" stroke-width="1.7" fill="none"/>
<ellipse cx="264" cy="70.5" rx="5.7" ry="5.4" fill="#c8c8c8" stroke="#555" stroke-width="0.6"/>
<ellipse cx="264.2" cy="70.5" rx="3.6" ry="3.4" fill="#e2e2e2" stroke="#888" stroke-width="0.5"/>
<ellipse cx="286.6" cy="71.6" rx="6.2" ry="5.6" fill="#b4b4b4" stroke="#666" stroke-width="0.7"/>
<ellipse cx="286.8" cy="71.6" rx="4.2" ry="3.8" fill="#a0a0a0" stroke="#666" stroke-width="0.6"/>
<ellipse cx="287" cy="71.4" rx="2.2" ry="2" fill="#dcdcdc" stroke="#888" stroke-width="0.4"/>
<ellipse cx="285.5" cy="43.8" rx="5.5" ry="2.6" fill="#999" stroke="#555" stroke-width="0.5" transform="rotate(8 285.5 43.8)"/>
<ellipse cx="285.5" cy="43.6" rx="3" ry="1.2" fill="#666" transform="rotate(8 285.5 43.6)"/>
</g>
<path d="M254.0 64.0h0.6M259.9 66.7h0.6M254.6 58.8h0.6M265.1 54.4h0.6M260.4 51.4h0.6M266.9 48.4h0.6M258.0 57.1h0.6M260.6 78.5h0.6M263.2 52.7h0.6M264.6 63.0h0.6M263.2 59.4h0.6M264.0 49.7h0.6M256.7 56.3h0.6M257.1 66.1h0.6M270.5 70.8h0.6M264.0 63.0h0.6M259.0 48.6h0.6M264.4 47.0h0.6M263.3 58.8h0.6M265.3 60.4h0.6M262.5 54.9h0.6M254.4 57.0h0.6M265.1 69.2h0.6M268.1 51.3h0.6M257.9 66.1h0.6M263.4 46.7h0.6M259.6 73.8h0.6M254.0 61.3h0.6M255.9 74.0h0.6M260.0 51.0h0.6M254.5 53.8h0.6M271.6 60.9h0.6M260.8 49.8h0.6M263.5 55.9h0.6M258.3 72.1h0.6M263.9 52.2h0.6M268.5 59.5h0.6M264.2 61.3h0.6M267.2 65.4h0.6M260.5 66.3h0.6M260.3 61.2h0.6M269.2 50.7h0.6M257.4 56.5h0.6M259.8 71.4h0.6M255.0 80.1h0.6M269.0 56.1h0.6M262.8 56.8h0.6M265.0 65.8h0.6M265.3 66.7h0.6M270.5 58.5h0.6M265.1 58.4h0.6M262.2 61.9h0.6M261.8 63.0h0.6M258.3 58.7h0.6M259.3 49.8h0.6M258.9 55.6h0.6M261.3 46.3h0.6M260.9 50.1h0.6M258.4 61.7h0.6M266.9 62.5h0.6M259.8 56.1h0.6M267.9 45.7h0.6M267.0 46.8h0.6M259.2 60.4h0.6M261.0 74.6h0.6M264.2 59.6h0.6M266.2 60.3h0.6M258.5 69.9h0.6M268.6 71.2h0.6M256.8 76.7h0.6M260.2 66.7h0.6M267.3 80.9h0.6M254.9 51.0h0.6M267.2 64.3h0.6M263.9 58.4h0.6M262.0 62.0h0.6M265.3 57.7h0.6M258.0 56.8h0.6M270.7 54.0h0.6M261.6 76.7h0.6M266.6 61.1h0.6M265.2 57.6h0.6M258.0 68.8h0.6M262.6 74.1h0.6M260.8 56.7h0.6M263.5 58.3h0.6M260.6 52.1h0.6M263.1 62.8h0.6M270.1 59.8h0.6M254.3 64.1h0.6M272.1 56.1h0.6M258.5 58.5h0.6M261.2 46.7h0.6M264.5 52.3h0.6M253.8 53.7h0.6M264.8 76.9h0.6M267.5 61.7h0.6M259.7 57.7h0.6M266.3 55.4h0.6M263.8 68.5h0.6M258.0 54.8h0.6M264.0 60.1h0.6M261.5 55.3h0.6M261.7 76.3h0.6M268.0 45.8h0.6M262.2 60.8h0.6M262.2 47.8h0.6M261.4 61.3h0.6M259.0 62.8h0.6M262.4 63.4h0.6M278.5 71.0h0.6M281.6 77.8h0.6M287.9 72.7h0.6M275.9 77.7h0.6M284.8 76.9h0.6M277.6 69.2h0.6M281.7 70.2h0.6M290.2 76.8h0.6M260.7 75.9h0.6M291.8 77.6h0.6M275.8 69.2h0.6M288.6 77.5h0.6M280.5 67.9h0.6M266.5 74.2h0.6M272.7 70.0h0.6M283.9 77.6h0.6M261.8 70.0h0.6M291.5 72.8h0.6M277.0 75.8h0.6M269.9 67.6h0.6M280.2 79.9h0.6M289.0 73.0h0.6M288.9 71.2h0.6M269.6 65.6h0.6M282.4 77.0h0.6M283.3 72.8h0.6M276.5 77.8h0.6M279.6 66.7h0.6M292.1 70.1h0.6M283.5 73.0h0.6M289.3 74.1h0.6M290.8 73.9h0.6M275.9 70.8h0.6M285.8 69.3h0.6M288.2 71.9h0.6M271.8 69.2h0.6M278.7 80.8h0.6M286.8 73.1h0.6M277.5 73.0h0.6M276.3 78.9h0.6M281.6 71.0h0.6M281.6 68.6h0.6M270.7 72.3h0.6M278.7 66.0h0.6M281.5 73.9h0.6M286.5 67.1h0.6M274.7 70.1h0.6M278.2 72.8h0.6M275.5 76.5h0.6M293.5 68.3h0.6M289.4 73.1h0.6M291.1 77.7h0.6M285.8 65.6h0.6M281.2 70.8h0.6M284.0 73.2h0.6M289.3 65.9h0.6M273.5 72.7h0.6M282.8 71.2h0.6M279.7 73.2h0.6M289.3 72.5h0.6M282.1 65.0h0.6M256.8 66.5h0.6M283.2 62.8h0.6M283.6 72.6h0.6M280.0 69.8h0.6M276.3 76.7h0.6M283.2 72.9h0.6M275.7 73.9h0.6M290.5 72.9h0.6M276.8 67.8h0.6M280.9 68.9h0.6M267.3 76.8h0.6M274.5 64.0h0.6M273.6 81.1h0.6M279.1 67.1h0.6M270.2 76.2h0.6M283.6 73.9h0.6M278.3 75.1h0.6M293.6 75.2h0.6M278.5 66.8h0.6M283.9 79.9h0.6M285.7 67.4h0.6M281.6 78.7h0.6M274.4 75.2h0.6M290.7 80.2h0.6M265.9 65.3h0.6M283.3 76.1h0.6M276.9 72.9h0.6M276.4 78.3h0.6M260.4 74.1h0.6M268.7 70.0h0.6M266.4 69.0h0.6M279.8 73.1h0.6M283.1 74.6h0.6M282.3 79.5h0.6M281.2 73.7h0.6M279.0 73.0h0.6M279.5 77.4h0.6M280.2 73.3h0.6M279.6 76.4h0.6M275.8 77.2h0.6M274.9 76.1h0.6M279.2 67.8h0.6M286.6 73.1h0.6M288.1 70.1h0.6M284.6 81.0h0.6M283.6 71.6h0.6M268.4 73.0h0.6M285.8 75.7h0.6M270.1 68.4h0.6M273.3 42.5h0.6M278.1 45.7h0.6M290.0 40.9h0.6M290.6 47.0h0.6M283.0 47.0h0.6M284.3 49.7h0.6M285.6 40.7h0.6M267.9 49.0h0.6M279.4 48.3h0.6M277.6 43.4h0.6M277.6 45.8h0.6M281.3 43.5h0.6M283.7 46.5h0.6M273.7 42.3h0.6M266.4 44.2h0.6M280.1 43.3h0.6M275.8 44.7h0.6M280.2 46.4h0.6M285.8 46.1h0.6M287.7 42.6h0.6M284.2 45.9h0.6M272.8 43.3h0.6M283.1 45.2h0.6M271.3 43.6h0.6M290.5 47.1h0.6M280.6 48.3h0.6M273.7 44.6h0.6M286.6 44.2h0.6M272.3 46.4h0.6M281.1 41.9h0.6M277.9 41.5h0.6M280.3 43.3h0.6M273.2 43.9h0.6M281.4 49.3h0.6M282.0 48.9h0.6M272.6 45.2h0.6M277.0 41.1h0.6M281.7 43.1h0.6M276.0 42.4h0.6M287.1 44.0h0.6M279.0 45.4h0.6M271.5 45.6h0.6M278.8 46.1h0.6M277.3 45.1h0.6M283.6 47.4h0.6M275.2 47.4h0.6M273.2 44.5h0.6M280.9 45.4h0.6M278.7 47.3h0.6M275.1 48.7h0.6" stroke="#333" stroke-width="0.6" fill="none" opacity="0.45"/>
</g>
<rect x="244.4" y="14.5" width="75.0" height="74.6" fill="none" stroke="#111" stroke-width="1.1"/>
<rect x="278.4" y="38.4" width="16.3" height="11.6" fill="none" stroke="#111" stroke-width="0.9"/>
<text x="278.8" y="36.2" font-size="7.8" textLength="16.9" lengthAdjust="spacingAndGlyphs" stroke="#111" stroke-width="0.1">6.1%</text>
<path d="M291.5 44.1H334.1" stroke="#111" stroke-width="1.25" fill="none"/>
<path d="M339.6 44.1L333.1 40.9V47.3Z" fill="#111"/>
<text x="244" y="103.9" font-size="8" textLength="15.8" lengthAdjust="spacingAndGlyphs" stroke="#111" stroke-width="0.1">IL7R</text>
<path d="M263.1 101H278.6" stroke="#111" stroke-width="1.25" fill="none"/>
<path d="M284.1 101L277.6 97.8V104.2Z" fill="#111"/>
<text x="234.4" y="90.9" font-size="7.7" textLength="16.5" lengthAdjust="spacingAndGlyphs" transform="rotate(-90 234.4 90.9)" stroke="#111" stroke-width="0.1">FLT3</text>
<path d="M231.5 73V58.1" stroke="#111" stroke-width="1.25" fill="none"/>
<path d="M231.5 52.6L228.3 59.1H234.7Z" fill="#111"/>
<text x="258.5" y="95.5" font-size="3.3" text-anchor="middle" fill="#111" stroke="#111" stroke-width="0.15">0</text>
<text x="265.5" y="95.5" font-size="3.3" text-anchor="middle" fill="#111" stroke="#111" stroke-width="0.15">10<tspan dy="-1" font-size="2">2</tspan></text>
<text x="282" y="95.5" font-size="3.3" text-anchor="middle" fill="#111" stroke="#111" stroke-width="0.15">10<tspan dy="-1" font-size="2">3</tspan></text>
<text x="297" y="95.5" font-size="3.3" text-anchor="middle" fill="#111" stroke="#111" stroke-width="0.15">10<tspan dy="-1" font-size="2">4</tspan></text>
<text x="312.5" y="95.5" font-size="3.3" text-anchor="middle" fill="#111" stroke="#111" stroke-width="0.15">10<tspan dy="-1" font-size="2">5</tspan></text>
<text x="238.2" y="74.5" font-size="3.3" text-anchor="middle" fill="#111" stroke="#111" stroke-width="0.15">0</text>
<text x="238.2" y="52.8" font-size="3.3" text-anchor="middle" fill="#111" stroke="#111" stroke-width="0.15">10<tspan dy="-1" font-size="2">3</tspan></text>
<text x="238.2" y="37.2" font-size="3.3" text-anchor="middle" fill="#111" stroke="#111" stroke-width="0.15">10<tspan dy="-1" font-size="2">4</tspan></text>
<text x="238.2" y="22" font-size="3.3" text-anchor="middle" fill="#111" stroke="#111" stroke-width="0.15">10<tspan dy="-1" font-size="2">5</tspan></text>
<g id="p4">
<g filter="url(#b3)">
<path d="M378.6 52C378.6 46 383 41.6 392 41.2C401 41 407.8 43 408.2 50C408.5 57 404 62 398 64.5C396.5 68 393.5 72.3 389.5 71.8C386 71 385 67 384 64C380.6 61 378.6 57 378.6 52Z" fill="#f2f2f2" stroke="#aaa" stroke-width="0.5"/>
<path d="M385 63C385.5 66 386.5 69.5 389.6 69.8C392.5 69.6 394.5 66.5 396 63Z" fill="#e4e4e4" stroke="#aaa" stroke-width="0.5"/>
<path d="M387.5 63.2C388 65.5 388.8 67.5 390 67.6C391.5 67.4 392.8 65.3 393.6 63.2Z" fill="#d6d6d6" stroke="#aaa" stroke-width="0.4"/>
</g>
<defs><linearGradient id="g4" x1="0" y1="0" x2="1" y2="0.6"><stop offset="0" stop-color="#8e8e8e"/><stop offset="0.4" stop-color="#b4b4b4"/><stop offset="1" stop-color="#e6e6e6"/></linearGradient></defs>
<rect x="382" y="42.5" width="24" height="20.8" fill="url(#g4)"/>
<g filter="url(#b6)">
<path d="M386 60C384.6 56 384.4 51 386.6 48.6C389 46.4 393 46 397 46.4" stroke="#1a1a1a" stroke-width="1.7" fill="none" stroke-linecap="round"/>
<path d="M387.3 61.3C386.6 59.6 387 57.8 388 57.4" stroke="#1a1a1a" stroke-width="1.4" fill="none" stroke-linecap="round"/>
<ellipse cx="390" cy="50.8" rx="2.6" ry="2" fill="#f0f0f0"/>
<ellipse cx="395" cy="49.6" rx="3.4" ry="1.6" fill="#dedede" transform="rotate(-15 395 49.6)"/>
<ellipse cx="389.2" cy="59.4" rx="1" ry="1.6" fill="#e8e8e8"/>
</g>
<path d="M383 44.3H405.4" stroke="#333" stroke-width="1" stroke-dasharray="0.8 0.7" filter="url(#b3)"/>
<path d="M393.2 53.1h0.6M391.6 58.5h0.6M385.2 56.5h0.6M396.3 51.6h0.6M384.9 46.7h0.6M392.6 48.2h0.6M404.7 56.4h0.6M399.1 57.0h0.6M384.0 59.1h0.6M386.7 56.5h0.6M393.3 50.4h0.6M389.1 59.9h0.6M393.0 52.6h0.6M395.5 55.8h0.6M390.8 50.1h0.6M394.3 49.4h0.6M392.7 46.8h0.6M395.3 48.7h0.6M389.8 56.4h0.6M388.1 53.0h0.6M394.0 58.6h0.6M387.2 53.6h0.6M388.8 45.9h0.6M397.7 50.7h0.6M401.6 56.8h0.6M392.3 56.8h0.6M394.7 58.5h0.6M384.2 49.7h0.6M386.8 53.6h0.6M388.5 45.7h0.6M402.6 47.9h0.6M392.3 52.8h0.6M385.0 57.2h0.6M392.7 51.2h0.6M395.0 48.8h0.6M395.2 57.0h0.6M391.9 57.5h0.6M390.9 52.9h0.6M387.9 51.3h0.6M390.0 46.7h0.6M393.8 51.1h0.6M393.1 50.0h0.6M392.4 53.8h0.6M395.3 55.7h0.6M395.5 52.0h0.6M389.7 51.5h0.6M396.5 57.6h0.6M385.0 54.8h0.6M394.5 44.9h0.6M392.1 55.0h0.6M394.4 54.5h0.6M401.8 50.7h0.6M397.5 60.5h0.6M390.5 46.2h0.6M398.1 52.8h0.6M393.1 55.8h0.6M395.7 59.0h0.6M390.8 53.1h0.6M394.6 52.2h0.6M398.1 59.9h0.6M396.1 48.3h0.6M389.5 52.6h0.6M383.5 47.9h0.6M391.0 45.8h0.6M393.2 55.8h0.6M388.6 51.0h0.6M393.6 55.8h0.6M392.2 45.8h0.6M386.1 50.8h0.6M385.7 57.7h0.6M387.6 50.1h0.6M385.4 50.4h0.6M397.1 53.9h0.6M386.8 60.5h0.6M392.9 46.9h0.6M386.6 49.4h0.6M389.7 60.2h0.6M385.8 52.1h0.6M390.7 46.0h0.6M387.2 56.6h0.6M394.2 51.3h0.6M397.6 56.7h0.6M401.7 54.8h0.6M387.7 48.1h0.6M393.1 57.8h0.6M392.1 44.2h0.6M387.6 51.6h0.6M390.9 57.5h0.6M398.4 54.7h0.6M382.9 54.4h0.6M388.7 59.6h0.6M396.4 50.3h0.6M395.6 53.1h0.6M392.7 60.9h0.6M383.2 52.6h0.6M399.1 48.5h0.6M391.3 53.8h0.6M387.5 45.3h0.6M385.9 47.2h0.6M396.4 54.5h0.6M394.2 46.0h0.6M393.0 53.8h0.6M396.2 48.8h0.6M394.8 61.1h0.6M400.7 47.5h0.6M383.3 44.4h0.6M395.7 56.5h0.6M392.0 47.9h0.6M389.8 52.3h0.6M397.1 56.0h0.6M398.0 50.6h0.6M392.0 51.0h0.6M386.6 51.3h0.6M388.3 56.0h0.6M388.2 53.4h0.6M385.2 45.8h0.6M398.5 47.2h0.6M400.8 58.5h0.6M387.5 53.1h0.6M388.9 49.5h0.6M397.4 52.3h0.6M395.7 49.0h0.6M385.9 60.8h0.6M388.3 46.5h0.6M389.0 59.2h0.6M389.1 48.8h0.6M393.8 58.8h0.6M388.8 51.1h0.6M389.1 55.4h0.6M390.3 51.1h0.6M387.6 45.0h0.6M386.2 52.5h0.6M388.9 50.0h0.6M383.5 50.0h0.6M388.3 46.2h0.6M384.3 58.1h0.6M395.5 53.8h0.6M397.3 48.2h0.6M385.2 46.4h0.6M389.7 48.3h0.6M393.8 46.5h0.6M389.8 59.2h0.6M388.5 54.8h0.6M396.5 46.6h0.6M391.7 51.4h0.6M384.3 60.1h0.6M383.1 51.5h0.6M389.8 57.3h0.6M387.4 48.2h0.6M401.9 48.1h0.6M394.7 52.1h0.6M387.2 52.7h0.6M388.5 54.8h0.6M390.4 47.3h0.6M401.0 56.8h0.6M391.4 51.2h0.6M398.2 50.4h0.6M385.2 57.1h0.6M384.3 48.4h0.6M389.6 53.7h0.6M389.1 65.0h0.6M397.6 68.9h0.6M387.0 68.6h0.6M392.6 65.7h0.6M389.1 65.2h0.6M383.9 64.2h0.6M393.7 70.2h0.6M397.3 64.9h0.6M391.6 68.5h0.6M386.4 71.3h0.6M391.4 66.0h0.6M393.3 67.0h0.6M398.7 69.4h0.6M387.5 68.3h0.6M389.2 69.6h0.6M387.8 66.2h0.6M392.9 68.8h0.6M398.7 68.5h0.6M395.4 70.7h0.6M395.6 67.2h0.6M391.9 67.9h0.6M384.1 68.4h0.6M386.2 67.2h0.6M386.0 68.1h0.6M390.8 67.5h0.6M386.5 65.2h0.6M389.8 65.2h0.6M393.0 64.9h0.6M386.8 67.1h0.6M386.8 65.5h0.6M385.1 67.0h0.6M388.5 66.5h0.6M391.7 67.1h0.6M391.0 67.7h0.6M392.4 64.8h0.6M390.1 67.9h0.6M393.7 69.6h0.6M387.3 64.9h0.6M385.1 67.8h0.6M393.2 67.6h0.6" stroke="#333" stroke-width="0.6" fill="none" opacity="0.4"/>
</g>
<rect x="344.5" y="14.5" width="75.1" height="74.6" fill="none" stroke="#111" stroke-width="1.1"/>
<rect x="381.8" y="42.4" width="24.4" height="21.0" fill="none" stroke="#111" stroke-width="1"/>
<text x="383.8" y="40.5" font-size="7.8" textLength="20.7" lengthAdjust="spacingAndGlyphs" stroke="#111" stroke-width="0.1">82.5%</text>
<path d="M401.5 47H434.3" stroke="#111" stroke-width="1.25" fill="none"/>
<path d="M439.8 47L433.3 43.8V50.2Z" fill="#111"/>
<text x="345.2" y="103.6" font-size="8" textLength="19.3" lengthAdjust="spacingAndGlyphs" stroke="#111" stroke-width="0.1">SCA1</text>
<path d="M366.3 100.8H378.9" stroke="#111" stroke-width="1.25" fill="none"/>
<path d="M384.4 100.8L377.9 97.6V104.0Z" fill="#111"/>
<text x="334.4" y="89.9" font-size="7.7" textLength="11.1" lengthAdjust="spacingAndGlyphs" transform="rotate(-90 334.4 89.9)" stroke="#111" stroke-width="0.1">KIT</text>
<path d="M332.1 77.6V58.2" stroke="#111" stroke-width="1.25" fill="none"/>
<path d="M332.1 52.7L328.9 59.2H335.3Z" fill="#111"/>
<text x="358.5" y="95.5" font-size="3.3" text-anchor="middle" fill="#111" stroke="#111" stroke-width="0.15">0</text>
<text x="365.5" y="95.5" font-size="3.3" text-anchor="middle" fill="#111" stroke="#111" stroke-width="0.15">10<tspan dy="-1" font-size="2">2</tspan></text>
<text x="382" y="95.5" font-size="3.3" text-anchor="middle" fill="#111" stroke="#111" stroke-width="0.15">10<tspan dy="-1" font-size="2">3</tspan></text>
<text x="397" y="95.5" font-size="3.3" text-anchor="middle" fill="#111" stroke="#111" stroke-width="0.15">10<tspan dy="-1" font-size="2">4</tspan></text>
<text x="412.5" y="95.5" font-size="3.3" text-anchor="middle" fill="#111" stroke="#111" stroke-width="0.15">10<tspan dy="-1" font-size="2">5</tspan></text>
<text x="338.2" y="74.5" font-size="3.3" text-anchor="middle" fill="#111" stroke="#111" stroke-width="0.15">0</text>
<text x="338.2" y="52.8" font-size="3.3" text-anchor="middle" fill="#111" stroke="#111" stroke-width="0.15">10<tspan dy="-1" font-size="2">3</tspan></text>
<text x="338.2" y="37.2" font-size="3.3" text-anchor="middle" fill="#111" stroke="#111" stroke-width="0.15">10<tspan dy="-1" font-size="2">4</tspan></text>
<text x="338.2" y="22" font-size="3.3" text-anchor="middle" fill="#111" stroke="#111" stroke-width="0.15">10<tspan dy="-1" font-size="2">5</tspan></text>
<g id="p5">
<path d="M502.8 52.0h0.7M492.7 51.9h0.7M497.6 46.7h0.7M489.3 55.2h0.7M488.5 52.8h0.7M496.1 54.6h0.7M491.1 49.5h0.7M509.4 47.5h0.7M496.0 52.4h0.7M503.2 49.8h0.7M488.4 50.7h0.7M490.8 53.8h0.7M488.5 52.2h0.7M507.4 57.5h0.7M479.5 50.0h0.7M492.0 57.0h0.7M492.3 58.9h0.7M498.1 57.5h0.7M487.9 52.0h0.7M503.6 54.8h0.7M479.5 52.1h0.7M496.6 55.0h0.7M489.8 58.4h0.7M496.3 57.5h0.7M498.4 53.3h0.7M492.4 49.4h0.7M502.3 55.4h0.7M502.9 51.8h0.7M486.7 51.8h0.7M492.5 53.0h0.7M503.3 50.2h0.7M491.0 55.1h0.7M502.6 59.9h0.7M499.5 50.4h0.7M486.4 50.6h0.7M495.7 53.8h0.7M494.5 51.1h0.7M493.5 52.8h0.7M500.0 53.3h0.7M488.3 49.4h0.7M507.5 52.7h0.7M493.6 52.9h0.7M504.5 52.0h0.7M496.6 52.3h0.7M499.9 49.9h0.7M496.8 56.2h0.7M505.0 54.9h0.7M497.6 57.9h0.7M501.0 57.3h0.7M485.1 49.6h0.7M501.8 52.2h0.7M491.5 50.1h0.7" stroke="#333" stroke-width="0.7" fill="none" opacity="0.8"/>
<g filter="url(#b3)">
<ellipse cx="466.8" cy="53.2" rx="5.2" ry="11.4" fill="#f0f0f0" stroke="#999" stroke-width="0.5" transform="rotate(-9 466.8 53.2)"/>
<ellipse cx="466.8" cy="53.2" rx="4.3" ry="10.2" fill="#e2e2e2" stroke="#888" stroke-width="0.5" transform="rotate(-9 466.8 53.2)"/>
<ellipse cx="466.8" cy="53.2" rx="3.4" ry="8.9" fill="#d0d0d0" stroke="#777" stroke-width="0.5" transform="rotate(-9 466.8 53.2)"/>
<ellipse cx="466.8" cy="53.2" rx="2.5" ry="7.4" fill="#b8b8b8" stroke="#666" stroke-width="0.5" transform="rotate(-9 466.8 53.2)"/>
<path d="M464.8 45.5C465.2 50 466.4 53.5 467.8 57" stroke="#222" stroke-width="1.2" fill="none"/>
<path d="M467.4 46.5C467.8 50 468.6 53 469.6 56" stroke="#444" stroke-width="0.9" fill="none"/>
<ellipse cx="467.6" cy="60.8" rx="2.6" ry="2.8" fill="#d8d8d8" stroke="#777" stroke-width="0.5"/>
<ellipse cx="467.6" cy="61" rx="1.3" ry="1.5" fill="#eee" stroke="#888" stroke-width="0.4"/>
</g>
</g>
<rect x="444.6" y="14.4" width="74.9" height="74.7" fill="none" stroke="#111" stroke-width="1.1"/>
<rect x="456.1" y="40.3" width="17.2" height="26.7" fill="none" stroke="#111" stroke-width="0.9"/>
<rect x="474.5" y="40.3" width="39.3" height="26.7" fill="none" stroke="#111" stroke-width="0.9"/>
<text x="455.4" y="38.4" font-size="7.8" textLength="20.3" lengthAdjust="spacingAndGlyphs" stroke="#111" stroke-width="0.1">95.1%</text>
<text x="485.2" y="38.4" font-size="7.8" textLength="17" lengthAdjust="spacingAndGlyphs" stroke="#111" stroke-width="0.1">4.5%</text>
<text x="445.2" y="103.6" font-size="8" textLength="23.1" lengthAdjust="spacingAndGlyphs" stroke="#111" stroke-width="0.1">hCD25</text>
<path d="M470.2 101H481.6" stroke="#111" stroke-width="1.25" fill="none"/>
<path d="M487.1 101L480.6 97.8V104.2Z" fill="#111"/>
<text x="432" y="90.6" font-size="7.7" textLength="11.1" lengthAdjust="spacingAndGlyphs" transform="rotate(-90 432 90.6)" stroke="#111" stroke-width="0.1">KIT</text>
<path d="M431.3 78V58.6" stroke="#111" stroke-width="1.25" fill="none"/>
<path d="M431.3 53.1L428.1 59.6H434.5Z" fill="#111"/>
<text x="468.8" y="95.5" font-size="3.3" text-anchor="middle" fill="#111" stroke="#111" stroke-width="0.15">0</text>
<text x="478.7" y="95.5" font-size="3.3" text-anchor="middle" fill="#111" stroke="#111" stroke-width="0.15">10<tspan dy="-1" font-size="2">2</tspan></text>
<text x="498.4" y="95.5" font-size="3.3" text-anchor="middle" fill="#111" stroke="#111" stroke-width="0.15">10<tspan dy="-1" font-size="2">3</tspan></text>
<text x="514" y="95.5" font-size="3.3" text-anchor="middle" fill="#111" stroke="#111" stroke-width="0.15">10<tspan dy="-1" font-size="2">4</tspan></text>
<text x="440.2" y="75" font-size="3.3" text-anchor="middle" fill="#111" stroke="#111" stroke-width="0.15">0</text>
<text x="440.2" y="52" font-size="3.3" text-anchor="middle" fill="#111" stroke="#111" stroke-width="0.15">10<tspan dy="-1" font-size="2">3</tspan></text>
<text x="440.2" y="37" font-size="3.3" text-anchor="middle" fill="#111" stroke="#111" stroke-width="0.15">10<tspan dy="-1" font-size="2">4</tspan></text>
<text x="440.2" y="22" font-size="3.3" text-anchor="middle" fill="#111" stroke="#111" stroke-width="0.15">10<tspan dy="-1" font-size="2">5</tspan></text>
<path d="M63 130.5V311.25" stroke="#111" stroke-width="1.1" fill="none"/>
<path d="M57.8 311.25H63" stroke="#111" stroke-width="1.1"/>
<text x="50.8" y="314.55" font-size="10" text-anchor="end" textLength="5.45" lengthAdjust="spacingAndGlyphs" stroke="#111" stroke-width="0.1">0</text>
<path d="M57.8 293.18H63" stroke="#111" stroke-width="1.1"/>
<text x="50.8" y="296.48" font-size="10" text-anchor="end" textLength="10.9" lengthAdjust="spacingAndGlyphs" stroke="#111" stroke-width="0.1">10</text>
<path d="M57.8 275.1H63" stroke="#111" stroke-width="1.1"/>
<text x="50.8" y="278.4" font-size="10" text-anchor="end" textLength="10.9" lengthAdjust="spacingAndGlyphs" stroke="#111" stroke-width="0.1">20</text>
<path d="M57.8 257.02H63" stroke="#111" stroke-width="1.1"/>
<text x="50.8" y="260.32" font-size="10" text-anchor="end" textLength="10.9" lengthAdjust="spacingAndGlyphs" stroke="#111" stroke-width="0.1">30</text>
<path d="M57.8 238.95H63" stroke="#111" stroke-width="1.1"/>
<text x="50.8" y="242.25" font-size="10" text-anchor="end" textLength="10.9" lengthAdjust="spacingAndGlyphs" stroke="#111" stroke-width="0.1">40</text>
<path d="M57.8 220.88H63" stroke="#111" stroke-width="1.1"/>
<text x="50.8" y="224.18" font-size="10" text-anchor="end" textLength="10.9" lengthAdjust="spacingAndGlyphs" stroke="#111" stroke-width="0.1">50</text>
<path d="M57.8 202.8H63" stroke="#111" stroke-width="1.1"/>
<text x="50.8" y="206.1" font-size="10" text-anchor="end" textLength="10.9" lengthAdjust="spacingAndGlyphs" stroke="#111" stroke-width="0.1">60</text>
<path d="M57.8 184.72H63" stroke="#111" stroke-width="1.1"/>
<text x="50.8" y="188.02" font-size="10" text-anchor="end" textLength="10.9" lengthAdjust="spacingAndGlyphs" stroke="#111" stroke-width="0.1">70</text>
<path d="M57.8 166.65H63" stroke="#111" stroke-width="1.1"/>
<text x="50.8" y="169.95" font-size="10" text-anchor="end" textLength="10.9" lengthAdjust="spacingAndGlyphs" stroke="#111" stroke-width="0.1">80</text>
<path d="M57.8 148.57H63" stroke="#111" stroke-width="1.1"/>
<text x="50.8" y="151.87" font-size="10" text-anchor="end" textLength="10.9" lengthAdjust="spacingAndGlyphs" stroke="#111" stroke-width="0.1">90</text>
<path d="M57.8 130.5H63" stroke="#111" stroke-width="1.1"/>
<text x="50.8" y="133.8" font-size="10" text-anchor="end" textLength="16.35" lengthAdjust="spacingAndGlyphs" stroke="#111" stroke-width="0.1">100</text>
<text x="76.3" y="133.9" font-size="10" textLength="57.4" lengthAdjust="spacingAndGlyphs" stroke="#111" stroke-width="0.1">OP9 (FL IL7)</text>
<rect x="74.6" y="304.74" width="25.8" height="6.51" fill="#bdbdbd"/>
<rect x="74.6" y="267.51" width="25.8" height="37.23" fill="url(#hat)"/>
<rect x="74.6" y="234.97" width="25.8" height="32.54" fill="#fff"/>
<path d="M74.6 304.74H100.4" stroke="#000" stroke-width="1"/>
<path d="M74.6 267.51H100.4" stroke="#000" stroke-width="1"/>
<rect x="74.6" y="234.97" width="25.8" height="76.28" fill="none" stroke="#000" stroke-width="1.1"/>
<rect x="113.8" y="308.54" width="25.6" height="2.71" fill="#bdbdbd"/>
<rect x="113.8" y="302.57" width="25.6" height="5.97" fill="url(#hat)"/>
<rect x="113.8" y="190.15" width="25.6" height="112.42" fill="#fff"/>
<path d="M113.8 308.54H139.4" stroke="#000" stroke-width="1"/>
<path d="M113.8 302.57H139.4" stroke="#000" stroke-width="1"/>
<rect x="113.8" y="190.15" width="25.6" height="121.1" fill="none" stroke="#000" stroke-width="1.1"/>
<path d="M57.8 311.6H151.3" stroke="#111" stroke-width="1.2"/>
<rect x="72.6" y="141.9" width="14.6" height="7.7" fill="#fff" stroke="#111" stroke-width="0.8"/>
<text x="89.19999999999999" y="148.3" font-size="6.3" fill="#222" stroke="#222" stroke-width="0.05">B-cells</text>
<rect x="72.6" y="152.0" width="14.6" height="7.7" fill="url(#hat3)" stroke="#111" stroke-width="0.8"/>
<text x="89.19999999999999" y="158.4" font-size="6.3" fill="#222" stroke="#222" stroke-width="0.05">B- and B220<tspan dy="-2.6" font-size="4.4">-</tspan><tspan dy="2.6"> </tspan>cells</text>
<rect x="72.6" y="162.1" width="14.6" height="7.7" fill="#000" stroke="#111" stroke-width="0.8"/>
<text x="89.19999999999999" y="168.5" font-size="6.3" fill="#222" stroke="#222" stroke-width="0.05">B220<tspan dy="-2.6" font-size="4.4">-</tspan><tspan dy="2.6"> </tspan>cells</text>
<rect x="72.6" y="172.2" width="14.6" height="7.7" fill="#bdbdbd" stroke="#111" stroke-width="0.8"/>
<text x="89.19999999999999" y="178.6" font-size="6.3" fill="#222" stroke="#222" stroke-width="0.05">Lin<tspan dy="-2.6" font-size="4.4">-</tspan><tspan dy="2.6"> </tspan>cells</text>
<path d="M177 130.5V311.25" stroke="#111" stroke-width="1.1" fill="none"/>
<path d="M171.8 311.25H177" stroke="#111" stroke-width="1.1"/>
<text x="166.4" y="314.55" font-size="10" text-anchor="end" textLength="5.45" lengthAdjust="spacingAndGlyphs" stroke="#111" stroke-width="0.1">0</text>
<path d="M171.8 293.18H177" stroke="#111" stroke-width="1.1"/>
<text x="166.4" y="296.48" font-size="10" text-anchor="end" textLength="10.9" lengthAdjust="spacingAndGlyphs" stroke="#111" stroke-width="0.1">10</text>
<path d="M171.8 275.1H177" stroke="#111" stroke-width="1.1"/>
<text x="166.4" y="278.4" font-size="10" text-anchor="end" textLength="10.9" lengthAdjust="spacingAndGlyphs" stroke="#111" stroke-width="0.1">20</text>
<path d="M171.8 257.02H177" stroke="#111" stroke-width="1.1"/>
<text x="166.4" y="260.32" font-size="10" text-anchor="end" textLength="10.9" lengthAdjust="spacingAndGlyphs" stroke="#111" stroke-width="0.1">30</text>
<path d="M171.8 238.95H177" stroke="#111" stroke-width="1.1"/>
<text x="166.4" y="242.25" font-size="10" text-anchor="end" textLength="10.9" lengthAdjust="spacingAndGlyphs" stroke="#111" stroke-width="0.1">40</text>
<path d="M171.8 220.88H177" stroke="#111" stroke-width="1.1"/>
<text x="166.4" y="224.18" font-size="10" text-anchor="end" textLength="10.9" lengthAdjust="spacingAndGlyphs" stroke="#111" stroke-width="0.1">50</text>
<path d="M171.8 202.8H177" stroke="#111" stroke-width="1.1"/>
<text x="166.4" y="206.1" font-size="10" text-anchor="end" textLength="10.9" lengthAdjust="spacingAndGlyphs" stroke="#111" stroke-width="0.1">60</text>
<path d="M171.8 184.72H177" stroke="#111" stroke-width="1.1"/>
<text x="166.4" y="188.02" font-size="10" text-anchor="end" textLength="10.9" lengthAdjust="spacingAndGlyphs" stroke="#111" stroke-width="0.1">70</text>
<path d="M171.8 166.65H177" stroke="#111" stroke-width="1.1"/>
<text x="166.4" y="169.95" font-size="10" text-anchor="end" textLength="10.9" lengthAdjust="spacingAndGlyphs" stroke="#111" stroke-width="0.1">80</text>
<path d="M171.8 148.57H177" stroke="#111" stroke-width="1.1"/>
<text x="166.4" y="151.87" font-size="10" text-anchor="end" textLength="10.9" lengthAdjust="spacingAndGlyphs" stroke="#111" stroke-width="0.1">90</text>
<path d="M171.8 130.5H177" stroke="#111" stroke-width="1.1"/>
<text x="166.4" y="133.8" font-size="10" text-anchor="end" textLength="16.35" lengthAdjust="spacingAndGlyphs" stroke="#111" stroke-width="0.1">100</text>
<text x="184.4" y="133.9" font-size="10" textLength="74.2" lengthAdjust="spacingAndGlyphs" stroke="#111" stroke-width="0.1">OP9DL1 (FL IL7)</text>
<rect x="190.6" y="309.62" width="25.7" height="1.63" fill="#aaa"/>
<rect x="190.6" y="308.63" width="25.7" height="0.99" fill="#eee"/>
<rect x="190.6" y="306.55" width="25.7" height="2.08" fill="#aaa"/>
<rect x="190.6" y="213.64" width="25.7" height="92.91" fill="#000"/>
<rect x="190.6" y="213.64" width="25.7" height="97.61" fill="none" stroke="#000" stroke-width="1.1"/>
<rect x="228.8" y="309.62" width="26.2" height="1.63" fill="#aaa"/>
<rect x="228.8" y="308.54" width="26.2" height="1.08" fill="#fff"/>
<rect x="228.8" y="306.01" width="26.2" height="2.53" fill="url(#hat2)"/>
<rect x="228.8" y="261.36" width="26.2" height="44.65" fill="#fff"/>
<rect x="228.8" y="252.33" width="26.2" height="9.03" fill="#000"/>
<path d="M228.8 306.01H255" stroke="#000" stroke-width="1"/>
<path d="M228.8 261.36H255" stroke="#000" stroke-width="1"/>
<rect x="228.8" y="252.33" width="26.2" height="58.92" fill="none" stroke="#000" stroke-width="1.1"/>
<path d="M171.8 311.6H268.8" stroke="#111" stroke-width="1.2"/>
<rect x="187.5" y="141.9" width="14.6" height="7.7" fill="#000" stroke="#111" stroke-width="0.8"/>
<text x="204.1" y="148.3" font-size="6.3" fill="#222" stroke="#222" stroke-width="0.05">T-cells</text>
<rect x="187.5" y="152.0" width="14.6" height="7.7" fill="#fff" stroke="#111" stroke-width="0.8"/>
<text x="204.1" y="158.4" font-size="6.3" fill="#222" stroke="#222" stroke-width="0.05">B-cells</text>
<rect x="187.5" y="162.1" width="14.6" height="7.7" fill="url(#hat3)" stroke="#111" stroke-width="0.8"/>
<text x="204.1" y="168.5" font-size="6.3" fill="#222" stroke="#222" stroke-width="0.05">B- and T-cells</text>
<rect x="187.5" y="172.2" width="14.6" height="7.7" fill="#bdbdbd" stroke="#111" stroke-width="0.8"/>
<text x="204.1" y="178.6" font-size="6.3" fill="#222" stroke="#222" stroke-width="0.05">Lin<tspan dy="-2.6" font-size="4.4">-</tspan><tspan dy="2.6"> </tspan>cells</text>
<path d="M293.8 130.5V311.25" stroke="#111" stroke-width="1.1" fill="none"/>
<path d="M288.6 311.25H293.8" stroke="#111" stroke-width="1.1"/>
<text x="282.6" y="314.55" font-size="10" text-anchor="end" textLength="5.45" lengthAdjust="spacingAndGlyphs" stroke="#111" stroke-width="0.1">0</text>
<path d="M288.6 293.18H293.8" stroke="#111" stroke-width="1.1"/>
<text x="282.6" y="296.48" font-size="10" text-anchor="end" textLength="10.9" lengthAdjust="spacingAndGlyphs" stroke="#111" stroke-width="0.1">10</text>
<path d="M288.6 275.1H293.8" stroke="#111" stroke-width="1.1"/>
<text x="282.6" y="278.4" font-size="10" text-anchor="end" textLength="10.9" lengthAdjust="spacingAndGlyphs" stroke="#111" stroke-width="0.1">20</text>
<path d="M288.6 257.02H293.8" stroke="#111" stroke-width="1.1"/>
<text x="282.6" y="260.32" font-size="10" text-anchor="end" textLength="10.9" lengthAdjust="spacingAndGlyphs" stroke="#111" stroke-width="0.1">30</text>
<path d="M288.6 238.95H293.8" stroke="#111" stroke-width="1.1"/>
<text x="282.6" y="242.25" font-size="10" text-anchor="end" textLength="10.9" lengthAdjust="spacingAndGlyphs" stroke="#111" stroke-width="0.1">40</text>
<path d="M288.6 220.88H293.8" stroke="#111" stroke-width="1.1"/>
<text x="282.6" y="224.18" font-size="10" text-anchor="end" textLength="10.9" lengthAdjust="spacingAndGlyphs" stroke="#111" stroke-width="0.1">50</text>
<path d="M288.6 202.8H293.8" stroke="#111" stroke-width="1.1"/>
<text x="282.6" y="206.1" font-size="10" text-anchor="end" textLength="10.9" lengthAdjust="spacingAndGlyphs" stroke="#111" stroke-width="0.1">60</text>
<path d="M288.6 184.72H293.8" stroke="#111" stroke-width="1.1"/>
<text x="282.6" y="188.02" font-size="10" text-anchor="end" textLength="10.9" lengthAdjust="spacingAndGlyphs" stroke="#111" stroke-width="0.1">70</text>
<path d="M288.6 166.65H293.8" stroke="#111" stroke-width="1.1"/>
<text x="282.6" y="169.95" font-size="10" text-anchor="end" textLength="10.9" lengthAdjust="spacingAndGlyphs" stroke="#111" stroke-width="0.1">80</text>
<path d="M288.6 148.57H293.8" stroke="#111" stroke-width="1.1"/>
<text x="282.6" y="151.87" font-size="10" text-anchor="end" textLength="10.9" lengthAdjust="spacingAndGlyphs" stroke="#111" stroke-width="0.1">90</text>
<path d="M288.6 130.5H293.8" stroke="#111" stroke-width="1.1"/>
<text x="282.6" y="133.8" font-size="10" text-anchor="end" textLength="16.35" lengthAdjust="spacingAndGlyphs" stroke="#111" stroke-width="0.1">100</text>
<text x="308.8" y="133.9" font-size="10" textLength="58.2" lengthAdjust="spacingAndGlyphs" stroke="#111" stroke-width="0.1">OP9DL1 (FL)</text>
<rect x="306.3" y="309.8" width="26.2" height="1.45" fill="#bdbdbd"/>
<rect x="306.3" y="253.77" width="26.2" height="56.03" fill="#000"/>
<path d="M306.3 309.8H332.5" stroke="#000" stroke-width="1"/>
<rect x="306.3" y="253.77" width="26.2" height="57.48" fill="none" stroke="#000" stroke-width="1.1"/>
<rect x="345" y="308.9" width="25.8" height="2.35" fill="#bdbdbd"/>
<rect x="345" y="299.32" width="25.8" height="9.58" fill="#fff"/>
<rect x="345" y="290.83" width="25.8" height="8.49" fill="#000"/>
<path d="M345 308.9H370.8" stroke="#000" stroke-width="1"/>
<path d="M345 299.32H370.8" stroke="#000" stroke-width="1"/>
<rect x="345" y="290.83" width="25.8" height="20.42" fill="none" stroke="#000" stroke-width="1.1"/>
<path d="M288.6 311.6H383.8" stroke="#111" stroke-width="1.2"/>
<rect x="304.5" y="141.9" width="14.6" height="7.7" fill="#000" stroke="#111" stroke-width="0.8"/>
<text x="321.1" y="148.3" font-size="6.3" fill="#222" stroke="#222" stroke-width="0.05">T-cells</text>
<rect x="304.5" y="152.0" width="14.6" height="7.7" fill="#fff" stroke="#111" stroke-width="0.8"/>
<text x="321.1" y="158.4" font-size="6.3" fill="#222" stroke="#222" stroke-width="0.05">B-cells</text>
<rect x="304.5" y="162.1" width="14.6" height="7.7" fill="url(#hat3)" stroke="#111" stroke-width="0.8"/>
<text x="321.1" y="168.5" font-size="6.3" fill="#222" stroke="#222" stroke-width="0.05">B- and T-cells</text>
<rect x="304.5" y="172.2" width="14.6" height="7.7" fill="#bdbdbd" stroke="#111" stroke-width="0.8"/>
<text x="321.1" y="178.6" font-size="6.3" fill="#222" stroke="#222" stroke-width="0.05">Lin<tspan dy="-2.6" font-size="4.4">-</tspan><tspan dy="2.6"> </tspan>cells</text>
<text x="30.6" y="211.5" font-size="9.8" text-anchor="middle" textLength="78" lengthAdjust="spacingAndGlyphs" transform="rotate(-90 30.6 211.5)" stroke="#111" stroke-width="0.1">% of seeded cells</text>
<text x="87.3" y="325.6" font-size="15" font-weight="bold" text-anchor="middle" fill="#111" stroke="#111" stroke-width="0.4">-</text>
<text x="203.4" y="325.6" font-size="15" font-weight="bold" text-anchor="middle" fill="#111" stroke="#111" stroke-width="0.4">-</text>
<text x="319.6" y="325.6" font-size="15" font-weight="bold" text-anchor="middle" fill="#111" stroke="#111" stroke-width="0.4">-</text>
<text x="126.0" y="325.8" font-size="13" text-anchor="middle" fill="#111" stroke="#111" stroke-width="0.15">+</text>
<text x="241.0" y="325.8" font-size="13" text-anchor="middle" fill="#111" stroke="#111" stroke-width="0.15">+</text>
<text x="357.2" y="325.8" font-size="13" text-anchor="middle" fill="#111" stroke="#111" stroke-width="0.15">+</text>
<path d="M78 327.5H365.4" stroke="#111" stroke-width="1"/>
<text x="88" y="337.6" font-size="9.6" textLength="109.4" lengthAdjust="spacingAndGlyphs" stroke="#111" stroke-width="0.1">hCD25 expression in LIN</text>
<text x="198.6" y="334.70000000000005" font-size="4.8" textLength="1.6" lengthAdjust="spacingAndGlyphs">-</text>
<text x="201.2" y="337.6" font-size="9.6" textLength="21.5" lengthAdjust="spacingAndGlyphs" stroke="#111" stroke-width="0.1">B220</text>
<text x="223.6" y="334.70000000000005" font-size="4.8" textLength="1.6" lengthAdjust="spacingAndGlyphs">-</text>
<text x="227" y="337.6" font-size="9.6" textLength="23.2" lengthAdjust="spacingAndGlyphs" stroke="#111" stroke-width="0.1">CD19</text>
<text x="251.2" y="334.70000000000005" font-size="4.8" textLength="1.6" lengthAdjust="spacingAndGlyphs">-</text>
<text x="254.6" y="337.6" font-size="9.6" textLength="20.7" lengthAdjust="spacingAndGlyphs" stroke="#111" stroke-width="0.1">FLT3</text>
<text x="276.4" y="334.70000000000005" font-size="4.8" textLength="2.6" lengthAdjust="spacingAndGlyphs">+</text>
<text x="280.6" y="337.6" font-size="9.6" textLength="21.1" lengthAdjust="spacingAndGlyphs" stroke="#111" stroke-width="0.1">IL7R</text>
<text x="302.6" y="334.70000000000005" font-size="4.8" textLength="2.6" lengthAdjust="spacingAndGlyphs">+</text>
<text x="306.2" y="337.6" font-size="9.6" textLength="25" lengthAdjust="spacingAndGlyphs" stroke="#111" stroke-width="0.1">SCA1</text>
<text x="332" y="334.70000000000005" font-size="4.8" textLength="4.2" lengthAdjust="spacingAndGlyphs">lo</text>
<text x="337.5" y="337.6" font-size="9.6" textLength="15" lengthAdjust="spacingAndGlyphs" stroke="#111" stroke-width="0.1">KIT</text>
<text x="353.6" y="334.70000000000005" font-size="4.8" textLength="4.4" lengthAdjust="spacingAndGlyphs">lo</text>
<g id="c1">
<g filter="url(#b3)">
<path d="M484.4 167.2h0.7M480.1 169.1h0.7M483.1 176.7h0.7M488.0 167.0h0.7M479.9 176.8h0.7M476.8 169.9h0.7M481.1 169.3h0.7M478.1 176.6h0.7M477.9 171.1h0.7M481.5 171.3h0.7M484.7 170.3h0.7M487.2 171.6h0.7M487.8 171.2h0.7M482.0 172.9h0.7M479.7 168.9h0.7M478.5 175.4h0.7M473.2 174.3h0.7M477.3 174.0h0.7M478.4 174.2h0.7M480.2 171.4h0.7M476.3 169.0h0.7M480.1 169.3h0.7M480.8 173.2h0.7M485.2 171.6h0.7M484.2 166.8h0.7M485.0 173.9h0.7M481.3 169.2h0.7M481.9 170.3h0.7M480.4 175.1h0.7M479.5 170.1h0.7M481.3 176.9h0.7M479.4 174.7h0.7M483.0 174.0h0.7M479.4 170.6h0.7M478.2 171.0h0.7M489.3 168.1h0.7M481.6 175.0h0.7M483.0 170.5h0.7M483.4 171.5h0.7M486.4 173.4h0.7M480.3 172.4h0.7M482.0 174.7h0.7M483.2 172.9h0.7M483.3 169.3h0.7M483.1 174.5h0.7M484.9 172.0h0.7M480.0 171.7h0.7M478.4 172.9h0.7M479.5 169.3h0.7M483.9 168.6h0.7M482.6 172.7h0.7M477.7 169.4h0.7M484.6 171.2h0.7M481.7 174.6h0.7M482.9 168.6h0.7M479.1 168.7h0.7M482.0 175.2h0.7M479.6 175.0h0.7M476.4 173.9h0.7M485.9 173.8h0.7M483.4 172.7h0.7M483.8 164.4h0.7M478.2 178.5h0.7M489.3 169.1h0.7M481.7 172.4h0.7M480.7 170.7h0.7M481.1 171.8h0.7M484.0 172.2h0.7M484.8 171.5h0.7M479.8 176.3h0.7M473.4 176.6h0.7M481.7 170.4h0.7M485.7 166.8h0.7M477.2 172.9h0.7M483.4 172.8h0.7M482.3 173.1h0.7M478.5 171.9h0.7M480.2 169.1h0.7M481.4 170.9h0.7M482.2 168.9h0.7M479.1 171.7h0.7M479.1 170.6h0.7M479.0 169.8h0.7M483.6 172.4h0.7M481.0 171.6h0.7M477.6 171.6h0.7M479.6 170.6h0.7M477.9 174.2h0.7M480.8 171.2h0.7M478.8 173.2h0.7M478.7 172.3h0.7M482.6 173.1h0.7M482.9 169.6h0.7M483.6 167.8h0.7M482.1 174.8h0.7M488.5 168.4h0.7M479.8 171.8h0.7M477.5 173.7h0.7M479.2 171.2h0.7M484.0 168.5h0.7M487.2 170.9h0.7M482.5 169.8h0.7M477.6 168.9h0.7M481.8 171.0h0.7M481.7 170.0h0.7M481.1 168.3h0.7M475.2 176.5h0.7M481.1 164.1h0.7M484.7 169.2h0.7M479.1 169.2h0.7M479.0 175.0h0.7M479.0 173.1h0.7M482.9 176.1h0.7M482.5 168.0h0.7M478.6 170.5h0.7M476.4 172.9h0.7M484.6 170.3h0.7M483.1 170.6h0.7M480.1 172.8h0.7M483.1 175.9h0.7M487.0 169.8h0.7M480.9 167.1h0.7M483.4 176.8h0.7M479.7 174.9h0.7M484.4 169.2h0.7M480.1 171.5h0.7M483.6 170.7h0.7M487.0 171.9h0.7M484.0 177.1h0.7M479.7 171.3h0.7M479.6 170.6h0.7M479.9 172.5h0.7M482.2 167.5h0.7M476.3 172.7h0.7M480.8 173.4h0.7M480.5 176.2h0.7M479.4 172.4h0.7M482.7 174.2h0.7M482.2 171.5h0.7M479.8 173.2h0.7M482.1 170.6h0.7M479.2 168.4h0.7M480.9 175.2h0.7M485.4 169.5h0.7M476.8 179.1h0.7M483.5 177.3h0.7M481.1 174.6h0.7M480.9 175.7h0.7M483.5 168.0h0.7M488.1 175.5h0.7M479.3 170.0h0.7M481.6 170.8h0.7M475.7 172.4h0.7M480.3 168.6h0.7M484.9 171.1h0.7M482.2 175.0h0.7M479.2 174.8h0.7M476.9 173.5h0.7M482.6 169.9h0.7M481.6 173.4h0.7M487.1 172.1h0.7M482.3 170.7h0.7M478.8 177.7h0.7M484.5 164.7h0.7M483.8 170.5h0.7M483.7 171.5h0.7M480.7 172.3h0.7M482.4 174.3h0.7M479.9 171.3h0.7M483.9 172.2h0.7M482.8 171.8h0.7M486.8 171.8h0.7M481.6 171.2h0.7M481.2 167.3h0.7M478.9 171.4h0.7M481.3 171.0h0.7M489.3 169.5h0.7M484.8 175.7h0.7M480.9 171.4h0.7M485.8 171.6h0.7M485.3 172.9h0.7M479.4 171.3h0.7M479.2 173.4h0.7M483.1 168.3h0.7M478.2 170.2h0.7M488.0 170.3h0.7M480.6 169.2h0.7M477.5 172.4h0.7M480.0 169.4h0.7M481.9 174.7h0.7M481.4 172.2h0.7M474.8 174.8h0.7M480.1 170.9h0.7M477.1 174.1h0.7M477.6 172.6h0.7M476.4 174.4h0.7M483.0 168.9h0.7M480.6 168.5h0.7M483.5 172.1h0.7M481.0 174.3h0.7M478.7 173.5h0.7M486.2 169.2h0.7M479.2 176.1h0.7M482.5 170.6h0.7M473.8 171.2h0.7M478.3 177.4h0.7M481.2 169.8h0.7M486.2 173.0h0.7M479.3 174.3h0.7M476.8 175.4h0.7M485.1 166.3h0.7M480.7 170.6h0.7M481.0 172.3h0.7M483.0 173.3h0.7M483.9 173.2h0.7M485.4 172.5h0.7M479.7 173.9h0.7M479.2 170.9h0.7M487.3 169.4h0.7M479.1 167.8h0.7M481.4 173.9h0.7M480.0 171.2h0.7M485.2 169.0h0.7M480.1 172.3h0.7M481.7 174.4h0.7M482.8 170.9h0.7M479.9 172.1h0.7M485.9 168.7h0.7M481.5 167.8h0.7M482.9 172.8h0.7M485.3 170.6h0.7M483.3 171.7h0.7M486.6 174.3h0.7M480.9 170.1h0.7M482.9 170.8h0.7M483.9 172.5h0.7M481.2 170.9h0.7M480.8 169.0h0.7M481.1 169.8h0.7M482.7 171.5h0.7M479.3 170.0h0.7M480.6 170.6h0.7M481.6 173.6h0.7M482.6 167.9h0.7M485.4 173.2h0.7M484.8 170.7h0.7M482.8 175.6h0.7M478.6 169.5h0.7M481.8 172.4h0.7M476.9 171.3h0.7M487.2 169.0h0.7M482.9 169.6h0.7M476.6 174.1h0.7M484.5 168.5h0.7M475.8 174.5h0.7M480.4 172.5h0.7M477.8 173.0h0.7M480.6 174.6h0.7M482.6 173.5h0.7M478.8 167.9h0.7M476.1 176.2h0.7M484.7 172.3h0.7M479.1 168.6h0.7M480.2 173.6h0.7M484.9 169.1h0.7M478.7 171.4h0.7M485.2 172.1h0.7M477.2 177.3h0.7M476.9 170.6h0.7M475.8 173.1h0.7M490.8 173.3h0.7M476.9 172.7h0.7M482.1 172.5h0.7M478.1 169.6h0.7M479.3 171.3h0.7M476.1 175.1h0.7M475.1 170.9h0.7M486.7 171.4h0.7M485.6 169.9h0.7M479.9 172.5h0.7M478.0 175.6h0.7M481.7 170.9h0.7M475.6 174.8h0.7M487.6 172.2h0.7M483.4 169.9h0.7M482.2 172.9h0.7M482.9 173.7h0.7M476.8 168.5h0.7M473.1 174.1h0.7M477.9 175.5h0.7M484.4 170.3h0.7M482.9 171.3h0.7M481.2 170.8h0.7M481.3 175.0h0.7M480.4 172.3h0.7M485.8 172.0h0.7M480.4 173.1h0.7M478.4 173.9h0.7M482.2 171.5h0.7M482.1 172.4h0.7M472.9 174.4h0.7M480.9 170.9h0.7M478.1 173.1h0.7M485.7 168.9h0.7M478.8 172.1h0.7M478.3 174.8h0.7M479.3 175.4h0.7M484.5 171.7h0.7M484.2 170.1h0.7M476.0 174.7h0.7M481.5 167.9h0.7M478.8 176.1h0.7M484.0 173.9h0.7M483.3 171.0h0.7M483.4 173.0h0.7M480.9 171.6h0.7M481.8 170.9h0.7M487.5 166.6h0.7M475.4 171.9h0.7M483.9 169.5h0.7M481.5 171.3h0.7M480.5 168.7h0.7M480.9 170.7h0.7M485.1 171.5h0.7M476.5 172.1h0.7M484.2 173.4h0.7M483.3 170.4h0.7M482.0 165.5h0.7M478.6 170.9h0.7M478.8 174.8h0.7M482.4 172.1h0.7M481.5 173.4h0.7M482.9 169.6h0.7M483.0 168.6h0.7M485.0 166.6h0.7M479.2 170.3h0.7M482.8 174.5h0.7M480.9 176.7h0.7M485.8 170.5h0.7M480.5 174.7h0.7M472.0 175.1h0.7M484.0 170.3h0.7M487.9 166.6h0.7M477.1 173.7h0.7M484.8 174.4h0.7M476.2 175.1h0.7M484.3 168.6h0.7M478.6 170.3h0.7M484.4 172.4h0.7M483.3 171.5h0.7M484.1 170.1h0.7M484.3 172.4h0.7M485.7 170.9h0.7M482.3 173.2h0.7M474.7 171.0h0.7M486.2 169.6h0.7M477.5 172.5h0.7M480.9 172.4h0.7M480.0 175.2h0.7M479.2 180.3h0.7M479.8 177.0h0.7M481.4 167.6h0.7M477.7 174.1h0.7M481.6 170.7h0.7M481.5 172.3h0.7M477.9 174.0h0.7M487.3 167.0h0.7M478.9 174.9h0.7M486.4 171.9h0.7M479.3 172.9h0.7M481.6 171.2h0.7M483.6 173.5h0.7M482.9 171.1h0.7M482.6 175.9h0.7M479.7 178.0h0.7M483.5 170.9h0.7M481.0 176.8h0.7M485.9 171.8h0.7M485.5 165.0h0.7M481.2 171.2h0.7M479.1 173.3h0.7M483.4 172.1h0.7M479.4 169.6h0.7M483.6 172.3h0.7M488.6 170.4h0.7M480.0 169.7h0.7M488.7 166.2h0.7M482.6 173.1h0.7M484.2 173.8h0.7M477.4 172.3h0.7M480.4 169.2h0.7M480.9 175.7h0.7M482.0 171.3h0.7M479.6 173.0h0.7M480.0 169.9h0.7M482.2 168.1h0.7M484.7 169.2h0.7M472.7 172.7h0.7M481.2 169.8h0.7M488.2 171.7h0.7M488.6 170.3h0.7M484.7 168.5h0.7M484.7 169.0h0.7M479.6 169.3h0.7M481.9 172.7h0.7M479.8 169.9h0.7M485.0 172.3h0.7M481.8 173.7h0.7M483.2 168.4h0.7M479.1 168.3h0.7M478.6 174.6h0.7M479.0 174.2h0.7M480.1 167.3h0.7M481.4 175.8h0.7M481.4 172.2h0.7M477.3 169.9h0.7M479.5 180.4h0.7M479.7 170.5h0.7M479.5 167.9h0.7M487.4 173.1h0.7M479.3 173.9h0.7M479.4 175.2h0.7M478.5 173.1h0.7M485.8 170.8h0.7M478.6 169.5h0.7M477.7 177.1h0.7M482.9 171.2h0.7M485.2 170.2h0.7M478.9 173.0h0.7M480.9 172.1h0.7M489.5 169.0h0.7M481.8 171.0h0.7M478.1 171.1h0.7M475.0 174.2h0.7M474.6 170.8h0.7M476.1 169.5h0.7M486.8 172.2h0.7M480.5 177.7h0.7M480.5 165.8h0.7M480.2 169.9h0.7M475.6 174.4h0.7M485.3 170.9h0.7M476.0 173.1h0.7M480.2 175.6h0.7M479.9 170.2h0.7M476.3 169.5h0.7M479.6 175.2h0.7M475.6 175.6h0.7M481.8 173.8h0.7M478.7 175.7h0.7M488.5 174.0h0.7M476.2 174.7h0.7M480.7 172.6h0.7M479.1 175.4h0.7M490.1 171.1h0.7M477.7 172.4h0.7M483.6 171.0h0.7M480.2 175.8h0.7M484.0 173.2h0.7M482.1 174.9h0.7M478.6 170.5h0.7M479.7 169.2h0.7M485.9 171.4h0.7M476.2 175.2h0.7M483.4 169.8h0.7M481.9 170.1h0.7M480.9 171.9h0.7M481.6 169.2h0.7M478.1 174.6h0.7M480.2 173.9h0.7M478.2 170.2h0.7M483.8 171.3h0.7M483.1 170.1h0.7M481.5 175.1h0.7M477.9 178.4h0.7M482.7 171.0h0.7M482.2 173.1h0.7M479.1 173.9h0.7M476.2 169.9h0.7M481.9 171.9h0.7M483.8 172.0h0.7M484.3 172.4h0.7M479.3 176.2h0.7M488.9 166.3h0.7M478.1 175.5h0.7M485.2 172.5h0.7M484.4 166.6h0.7M482.9 172.3h0.7M484.1 168.1h0.7M480.9 171.2h0.7M480.6 172.0h0.7M478.8 168.7h0.7M481.2 172.2h0.7M476.1 165.5h0.7M478.3 171.8h0.7M480.3 176.7h0.7M483.9 170.1h0.7M486.7 177.6h0.7M478.7 174.6h0.7M481.0 176.0h0.7M484.5 169.9h0.7M482.2 169.3h0.7M477.3 176.4h0.7M485.9 168.6h0.7M477.6 169.3h0.7M486.5 165.9h0.7M478.0 173.2h0.7M485.0 170.1h0.7M481.2 172.1h0.7M483.8 170.5h0.7M481.6 171.6h0.7M479.3 176.6h0.7M477.6 170.5h0.7M479.9 172.8h0.7M482.1 167.6h0.7M477.5 174.5h0.7M481.2 169.1h0.7M477.9 174.3h0.7M479.0 169.0h0.7M480.1 176.5h0.7M479.1 175.9h0.7M478.1 177.6h0.7M485.5 168.0h0.7M479.8 174.4h0.7M478.0 175.2h0.7M485.3 170.5h0.7M482.0 171.1h0.7M483.4 168.6h0.7M486.1 169.3h0.7M478.4 169.2h0.7M480.1 173.2h0.7M483.3 166.6h0.7M480.1 170.8h0.7M477.5 174.0h0.7M479.8 175.0h0.7M473.7 178.0h0.7M473.2 171.3h0.7M482.4 170.4h0.7M480.5 169.8h0.7M477.1 172.3h0.7M480.1 170.4h0.7M479.0 171.0h0.7M480.7 169.3h0.7M471.9 170.2h0.7M481.2 172.2h0.7M483.3 168.9h0.7M476.0 170.9h0.7M482.9 169.5h0.7M484.2 170.2h0.7M478.3 168.7h0.7M480.0 174.7h0.7M480.1 174.4h0.7M477.3 176.8h0.7M491.0 169.6h0.7M480.8 169.0h0.7M478.9 171.6h0.7M479.5 167.6h0.7M479.4 175.1h0.7M482.5 173.3h0.7M482.6 168.2h0.7M477.6 175.2h0.7M481.4 172.1h0.7M479.8 175.4h0.7M484.0 173.5h0.7M480.9 174.0h0.7M480.0 170.2h0.7M479.1 168.8h0.7M480.8 172.7h0.7M482.2 168.7h0.7M476.3 172.8h0.7M474.1 174.2h0.7M489.4 167.9h0.7M478.1 171.9h0.7M485.4 166.7h0.7M480.8 172.0h0.7M478.1 171.8h0.7M475.1 173.1h0.7M486.8 172.7h0.7M481.1 173.9h0.7M482.7 171.4h0.7M482.1 174.7h0.7M482.7 170.6h0.7M481.5 174.3h0.7M478.6 171.5h0.7M479.8 171.5h0.7M485.5 170.6h0.7M480.3 171.1h0.7M486.0 170.5h0.7M488.6 170.3h0.7M479.9 171.3h0.7M480.5 172.8h0.7M484.2 171.7h0.7M484.4 166.3h0.7M479.7 169.1h0.7M477.4 172.5h0.7M478.1 171.1h0.7M477.8 176.9h0.7M481.3 174.5h0.7M475.2 169.2h0.7M480.3 174.8h0.7M479.9 173.7h0.7M479.4 176.6h0.7M483.7 173.4h0.7M481.8 175.1h0.7M480.9 170.9h0.7M479.3 173.2h0.7M477.1 171.1h0.7M482.4 173.2h0.7M481.2 174.2h0.7M484.7 166.8h0.7M480.9 169.6h0.7M479.4 173.4h0.7M474.6 177.2h0.7M484.4 171.7h0.7M485.2 174.6h0.7M481.3 174.8h0.7M486.2 170.6h0.7M475.5 174.7h0.7M478.5 169.2h0.7M481.8 173.6h0.7M480.2 172.1h0.7M485.0 168.3h0.7M478.3 173.7h0.7M485.3 171.3h0.7M480.9 170.9h0.7M486.0 171.7h0.7M476.2 175.6h0.7M475.4 179.1h0.7M482.4 169.7h0.7M476.9 173.6h0.7M476.4 176.1h0.7M477.7 169.3h0.7M482.4 174.4h0.7M476.9 173.4h0.7M487.0 169.3h0.7M479.7 173.3h0.7M482.5 168.7h0.7M479.1 168.9h0.7M474.6 171.5h0.7M484.1 171.2h0.7M484.8 173.2h0.7M481.6 172.4h0.7M483.0 172.3h0.7M477.6 173.2h0.7M480.8 172.3h0.7M478.7 173.0h0.7M482.3 171.9h0.7M483.9 172.7h0.7M484.0 173.0h0.7M485.3 173.4h0.7M482.4 169.7h0.7M489.6 170.4h0.7M485.8 171.4h0.7M480.1 169.6h0.7M482.2 170.5h0.7M477.6 168.3h0.7M484.7 167.0h0.7M478.3 174.8h0.7M482.1 169.4h0.7M481.5 172.5h0.7M482.3 172.8h0.7M483.2 170.0h0.7M478.6 179.1h0.7M478.9 170.6h0.7M484.2 171.9h0.7M481.9 177.8h0.7M475.4 178.5h0.7M481.4 172.7h0.7M481.9 171.0h0.7M480.7 168.8h0.7M482.0 176.4h0.7M474.6 178.8h0.7M473.4 174.0h0.7M483.5 169.7h0.7M477.8 169.9h0.7M480.6 171.8h0.7M477.5 169.9h0.7M482.1 172.6h0.7M485.3 171.1h0.7M487.2 171.9h0.7M474.3 180.1h0.7M479.7 170.1h0.7M483.6 173.2h0.7M475.1 172.1h0.7M482.7 169.7h0.7M485.9 170.0h0.7M478.0 170.2h0.7M481.1 167.5h0.7M475.7 171.5h0.7M488.3 172.6h0.7M480.1 171.6h0.7M484.7 173.3h0.7M481.1 177.8h0.7M481.8 174.6h0.7M473.9 175.9h0.7M481.2 177.2h0.7M479.1 169.8h0.7M486.4 167.3h0.7M479.8 169.5h0.7M483.5 171.2h0.7M479.9 171.7h0.7M478.6 171.5h0.7M478.2 176.8h0.7M482.4 167.7h0.7M478.1 174.8h0.7M488.0 167.8h0.7M479.9 172.0h0.7M481.8 171.2h0.7M485.6 172.2h0.7M484.6 174.3h0.7M479.9 171.3h0.7M488.2 163.1h0.7M473.8 169.9h0.7M481.1 169.2h0.7M482.1 166.0h0.7M480.3 171.4h0.7M479.1 176.1h0.7M480.5 173.6h0.7M479.7 173.2h0.7M479.9 172.9h0.7M480.1 170.8h0.7M482.3 170.9h0.7M477.0 171.5h0.7M484.0 173.9h0.7M476.7 173.4h0.7M483.7 173.4h0.7M482.1 168.4h0.7M482.3 173.8h0.7M481.7 171.1h0.7M477.7 174.3h0.7M481.0 172.2h0.7M487.1 171.9h0.7M479.0 173.8h0.7M480.3 172.7h0.7M487.2 171.1h0.7M480.6 170.6h0.7M481.1 173.0h0.7M480.9 175.1h0.7M480.0 169.6h0.7M484.3 162.7h0.7M480.2 172.2h0.7M485.5 172.6h0.7M487.4 172.7h0.7M482.3 171.7h0.7M484.3 170.2h0.7M476.8 173.2h0.7M483.9 172.1h0.7M479.1 176.3h0.7M480.5 168.4h0.7M483.8 173.2h0.7M482.5 170.5h0.7M480.0 175.6h0.7M481.9 171.6h0.7M478.8 170.6h0.7M475.0 174.5h0.7M485.5 171.7h0.7M480.8 176.2h0.7M479.4 170.3h0.7M485.7 173.2h0.7M478.6 170.2h0.7M478.3 167.2h0.7M483.0 175.0h0.7M481.2 170.1h0.7M482.8 169.8h0.7M484.7 169.1h0.7M487.1 167.9h0.7M480.7 169.8h0.7M477.6 174.9h0.7M481.2 169.4h0.7M482.5 170.2h0.7M479.4 172.8h0.7M483.2 172.8h0.7M485.4 170.7h0.7M478.2 171.8h0.7M481.0 169.0h0.7M480.2 171.5h0.7M481.1 172.5h0.7M486.2 173.6h0.7M485.0 172.6h0.7M479.0 175.9h0.7M483.7 167.1h0.7M488.4 166.6h0.7M475.8 179.6h0.7M480.5 170.3h0.7M480.6 175.1h0.7M481.6 170.8h0.7M483.7 168.2h0.7M478.0 172.3h0.7M479.7 174.7h0.7M479.3 170.3h0.7M477.6 168.8h0.7M481.8 171.9h0.7M482.8 170.5h0.7M481.4 169.4h0.7M481.4 172.3h0.7M478.1 175.2h0.7M481.7 171.9h0.7M481.9 176.9h0.7M480.4 170.4h0.7M479.2 174.6h0.7M479.7 170.8h0.7M480.0 175.1h0.7M482.6 174.0h0.7M479.8 169.6h0.7M484.2 171.2h0.7M478.8 172.5h0.7M479.1 175.3h0.7M480.4 173.7h0.7M481.7 171.0h0.7M482.1 170.9h0.7M477.1 173.1h0.7M478.4 175.5h0.7M482.6 169.7h0.7M483.4 171.5h0.7M483.2 168.5h0.7M480.2 170.0h0.7M480.6 175.9h0.7M474.0 173.5h0.7M483.6 172.7h0.7M476.5 169.2h0.7M476.3 175.6h0.7M485.6 172.0h0.7M480.4 176.0h0.7M481.3 173.6h0.7M482.4 175.5h0.7M477.2 168.5h0.7M480.4 172.9h0.7M481.3 170.1h0.7M479.2 170.1h0.7M480.6 172.6h0.7M483.8 174.9h0.7M475.6 176.4h0.7M481.3 168.9h0.7M481.4 171.9h0.7M478.9 175.1h0.7M487.8 170.2h0.7M484.8 172.8h0.7M481.9 174.2h0.7M478.9 173.7h0.7M484.8 173.5h0.7M480.0 171.9h0.7M482.5 171.1h0.7M482.5 173.4h0.7M479.8 175.0h0.7M482.1 170.8h0.7M476.7 172.8h0.7M482.1 174.0h0.7M475.9 176.7h0.7M480.5 169.4h0.7M484.3 171.4h0.7M481.5 169.3h0.7M478.8 175.7h0.7M485.9 170.4h0.7M480.1 171.4h0.7M477.0 176.8h0.7M482.3 174.6h0.7M480.1 175.3h0.7M479.7 174.4h0.7M484.6 168.3h0.7M484.0 170.5h0.7M478.6 174.0h0.7M482.4 169.5h0.7M479.8 171.3h0.7M478.6 172.9h0.7M483.2 169.6h0.7M484.6 169.2h0.7M480.3 175.3h0.7M484.8 168.4h0.7M481.7 168.7h0.7M479.5 171.9h0.7M482.0 168.3h0.7M478.9 171.5h0.7M480.2 169.4h0.7M480.2 179.9h0.7M480.2 168.6h0.7M482.3 168.0h0.7M477.3 178.5h0.7M484.1 168.2h0.7M478.4 174.8h0.7M488.0 169.8h0.7M481.9 168.5h0.7M476.2 175.7h0.7M484.4 170.6h0.7M482.7 174.8h0.7M479.8 175.6h0.7M483.0 169.4h0.7M481.7 172.0h0.7M481.9 169.1h0.7M480.6 172.6h0.7M481.3 172.0h0.7M481.7 171.2h0.7M480.8 174.9h0.7M478.9 172.4h0.7M477.3 171.2h0.7M482.5 171.2h0.7M481.3 173.1h0.7M481.4 173.6h0.7M487.1 169.7h0.7M482.2 175.7h0.7M481.5 167.5h0.7M485.5 170.2h0.7M482.5 168.3h0.7M477.9 172.1h0.7M481.6 168.8h0.7M480.1 175.1h0.7M479.4 173.3h0.7M476.6 170.1h0.7M480.8 171.9h0.7M477.9 176.3h0.7M484.6 172.4h0.7M478.4 170.6h0.7M481.1 172.5h0.7M480.0 171.1h0.7M477.4 172.2h0.7M480.4 171.2h0.7M485.9 168.7h0.7M482.1 170.3h0.7M479.6 170.4h0.7M478.1 169.8h0.7M476.4 178.1h0.7M478.5 174.6h0.7M480.2 171.1h0.7M482.8 169.7h0.7M482.1 170.6h0.7M485.2 172.3h0.7M482.6 174.1h0.7M484.4 174.3h0.7M479.2 169.1h0.7M482.1 172.1h0.7M479.9 172.2h0.7M479.0 170.0h0.7M485.5 167.6h0.7M476.3 170.6h0.7M478.6 173.3h0.7M486.3 170.8h0.7M477.7 170.7h0.7M477.7 173.7h0.7M483.3 169.6h0.7M488.1 173.2h0.7M479.3 167.5h0.7M484.4 170.0h0.7M484.3 172.9h0.7M478.2 173.8h0.7M480.9 170.2h0.7M483.1 170.6h0.7M482.0 176.4h0.7M483.5 175.0h0.7M481.8 174.3h0.7M479.1 173.5h0.7M482.1 165.9h0.7M482.5 170.6h0.7M484.7 170.6h0.7M479.6 169.6h0.7M489.2 165.7h0.7M479.4 171.1h0.7M480.5 172.9h0.7M478.3 176.3h0.7M481.1 173.6h0.7M474.3 174.4h0.7M479.9 171.7h0.7M479.5 173.7h0.7M481.4 169.4h0.7M476.1 176.7h0.7M481.4 174.6h0.7M483.7 170.4h0.7M476.5 173.6h0.7M480.3 175.6h0.7M477.1 176.6h0.7M475.9 173.4h0.7M476.2 172.9h0.7M480.3 173.5h0.7M480.2 174.3h0.7M486.6 169.5h0.7M477.5 173.5h0.7M480.5 171.5h0.7M485.9 172.4h0.7M487.8 169.8h0.7M473.0 176.1h0.7M482.3 169.3h0.7M480.4 174.8h0.7M480.4 169.5h0.7M476.1 166.9h0.7M479.8 169.6h0.7M479.7 169.7h0.7M477.8 172.5h0.7M488.2 165.1h0.7M477.0 172.9h0.7M485.2 171.8h0.7M482.9 170.2h0.7M480.7 170.3h0.7M479.8 170.7h0.7M475.7 172.4h0.7M487.4 169.6h0.7M478.8 173.0h0.7M481.1 175.2h0.7M480.4 170.8h0.7M483.6 171.5h0.7M478.3 171.6h0.7M479.8 168.5h0.7M479.5 175.5h0.7M486.6 174.3h0.7M478.3 171.2h0.7M479.3 171.3h0.7M486.6 169.2h0.7M486.3 167.4h0.7M485.1 176.9h0.7M476.9 171.6h0.7M476.2 168.2h0.7M478.9 170.8h0.7M490.4 166.6h0.7M472.8 179.4h0.7M485.4 170.4h0.7M483.4 174.1h0.7M478.7 173.5h0.7M484.1 177.4h0.7M487.7 170.2h0.7M476.3 177.7h0.7M482.5 176.2h0.7M481.6 172.8h0.7M483.1 168.7h0.7M481.3 181.0h0.7M478.5 177.0h0.7M485.3 173.7h0.7M485.4 165.4h0.7M482.6 163.8h0.7M481.8 173.3h0.7M487.2 173.9h0.7M476.6 173.2h0.7M479.5 170.4h0.7M476.6 171.7h0.7M488.2 174.5h0.7M486.8 176.4h0.7M480.0 168.6h0.7M478.5 174.2h0.7M487.4 174.3h0.7M478.4 177.1h0.7M479.6 175.3h0.7M487.3 175.4h0.7M479.1 174.1h0.7M482.5 170.1h0.7M482.4 174.1h0.7M472.9 173.3h0.7M492.1 169.4h0.7M476.1 167.4h0.7M477.6 175.8h0.7M484.8 172.5h0.7M483.0 169.2h0.7M486.7 165.6h0.7M483.1 170.5h0.7M474.7 178.5h0.7M480.9 175.2h0.7M487.1 170.4h0.7M477.9 172.9h0.7M482.8 177.1h0.7M487.1 175.9h0.7M483.5 168.4h0.7M486.6 173.7h0.7M481.2 174.1h0.7M478.0 168.8h0.7M481.8 175.0h0.7M476.4 165.7h0.7M479.0 177.4h0.7M483.7 175.5h0.7M477.2 172.4h0.7M475.6 171.7h0.7M483.6 171.8h0.7M479.4 174.2h0.7M474.7 173.5h0.7M472.4 170.3h0.7M473.5 171.3h0.7M490.1 173.8h0.7M486.0 168.0h0.7M482.4 167.4h0.7M479.0 174.1h0.7M474.2 176.0h0.7M481.0 164.4h0.7M469.8 176.1h0.7M480.8 173.0h0.7M476.8 176.3h0.7M480.7 169.7h0.7M488.8 170.1h0.7M487.0 177.0h0.7M478.6 172.5h0.7M473.0 174.9h0.7M486.5 179.7h0.7M483.9 171.9h0.7M474.3 171.9h0.7M470.9 171.3h0.7M482.0 173.1h0.7M476.7 173.3h0.7M478.4 175.9h0.7M483.2 169.3h0.7M477.4 169.2h0.7M482.1 180.4h0.7M482.2 175.2h0.7M485.8 176.1h0.7M478.4 170.0h0.7M487.0 173.4h0.7M479.7 177.2h0.7M481.0 172.2h0.7M490.1 170.6h0.7M482.1 170.7h0.7M483.5 175.4h0.7M482.1 169.0h0.7M483.0 171.1h0.7M482.2 171.1h0.7M469.1 171.2h0.7M476.3 165.8h0.7M477.2 181.8h0.7M483.6 169.5h0.7M479.5 164.4h0.7M483.6 175.1h0.7M480.2 167.7h0.7M484.7 168.7h0.7M478.8 174.1h0.7M482.6 179.6h0.7M483.5 179.6h0.7M481.4 167.4h0.7M481.2 172.5h0.7M489.4 173.8h0.7M491.7 165.3h0.7M482.4 180.8h0.7M477.6 175.2h0.7M487.0 165.9h0.7M478.5 170.5h0.7M484.0 172.6h0.7M481.9 174.6h0.7M477.1 172.6h0.7M486.0 178.1h0.7M481.0 172.6h0.7M487.1 170.1h0.7M487.3 170.6h0.7M486.6 170.7h0.7M475.8 171.3h0.7M485.7 177.7h0.7M489.1 167.7h0.7M490.8 163.9h0.7M478.6 177.0h0.7M475.5 178.2h0.7M483.7 173.7h0.7M476.2 175.9h0.7M485.3 170.4h0.7M485.8 170.5h0.7M482.2 170.6h0.7M474.8 174.4h0.7M482.3 168.9h0.7M470.2 170.9h0.7M486.7 169.1h0.7M479.4 177.9h0.7M478.2 167.7h0.7M477.9 170.3h0.7M479.0 169.7h0.7M482.1 173.7h0.7M478.3 172.8h0.7M481.6 175.4h0.7M478.9 176.2h0.7M486.5 169.3h0.7M476.3 173.2h0.7M472.4 173.9h0.7M475.5 174.0h0.7M480.2 174.7h0.7M482.2 173.5h0.7M481.3 173.4h0.7M476.9 176.7h0.7M488.6 173.5h0.7M475.6 176.3h0.7M474.8 177.9h0.7M479.6 171.2h0.7M477.4 173.0h0.7M479.8 169.1h0.7M481.8 173.1h0.7M483.4 171.2h0.7M484.3 180.0h0.7M486.1 171.5h0.7M475.7 177.0h0.7M480.0 162.4h0.7M480.9 173.9h0.7M481.4 172.6h0.7M482.4 177.2h0.7M482.5 170.7h0.7M483.0 179.7h0.7M476.5 172.2h0.7M482.8 172.2h0.7M484.4 176.2h0.7M486.9 171.5h0.7M481.2 172.0h0.7M481.5 176.1h0.7M474.0 171.3h0.7M477.7 170.0h0.7M479.5 177.7h0.7M471.7 178.5h0.7M474.9 174.0h0.7M477.1 170.1h0.7M474.5 175.4h0.7M464.7 171.0h0.7M480.9 176.7h0.7M489.1 167.8h0.7M477.1 172.9h0.7M484.6 174.5h0.7M477.5 175.7h0.7" stroke="#111" stroke-width="0.7" fill="none" opacity="0.9"/>
<path d="M480.7 183.0h0.7M477.7 173.5h0.7M474.2 165.7h0.7M483.0 180.0h0.7M489.8 176.9h0.7M477.3 168.6h0.7M471.8 169.9h0.7M483.6 175.6h0.7M462.8 174.3h0.7M478.6 167.7h0.7M480.7 178.7h0.7M472.7 165.5h0.7M478.4 176.8h0.7M478.9 185.8h0.7M482.1 168.0h0.7M487.0 170.5h0.7M486.4 175.7h0.7M490.6 168.0h0.7M486.6 178.0h0.7M473.8 179.9h0.7M498.8 177.5h0.7M474.9 173.9h0.7M491.2 176.8h0.7M492.6 170.4h0.7M491.3 164.0h0.7M479.6 172.9h0.7M477.0 183.6h0.7M476.2 177.5h0.7M495.6 180.8h0.7M477.6 169.9h0.7M465.1 177.7h0.7M488.0 182.8h0.7M482.8 190.1h0.7M487.1 158.8h0.7M473.9 180.6h0.7M477.8 180.9h0.7M498.5 174.4h0.7M469.3 175.7h0.7M488.1 170.9h0.7M493.5 168.9h0.7M479.4 181.5h0.7M479.3 171.1h0.7M480.8 179.6h0.7M494.7 184.5h0.7M495.8 174.8h0.7M467.8 174.7h0.7M477.7 168.0h0.7M476.9 174.5h0.7M481.4 181.4h0.7M473.7 183.0h0.7M481.3 180.1h0.7M490.8 166.3h0.7M493.7 170.0h0.7M484.1 182.6h0.7M488.3 164.0h0.7M482.3 183.0h0.7M480.0 174.4h0.7M481.5 186.5h0.7M476.6 168.4h0.7M472.2 171.3h0.7M475.8 189.1h0.7M477.2 170.5h0.7M463.9 192.1h0.7M484.5 173.8h0.7M486.4 164.1h0.7M498.8 191.3h0.7M463.1 190.6h0.7M477.7 181.9h0.7M474.7 184.0h0.7M477.1 177.9h0.7M472.9 191.0h0.7M482.7 174.0h0.7M473.6 200.1h0.7M484.4 200.9h0.7M465.8 176.6h0.7M458.5 168.5h0.7M474.6 176.5h0.7M468.2 179.7h0.7M476.3 193.5h0.7M483.0 170.2h0.7M491.4 183.0h0.7M469.0 185.7h0.7M474.4 173.5h0.7M492.0 180.8h0.7M472.6 190.9h0.7M493.0 190.4h0.7M469.9 190.0h0.7M487.9 189.4h0.7M483.8 181.7h0.7M477.4 170.8h0.7" stroke="#888" stroke-width="0.7" fill="none" opacity="0.7"/>
</g>
<ellipse cx="481.2" cy="172" rx="6.6" ry="4.2" fill="#0a0a0a" transform="rotate(-28 481.2 172)" filter="url(#b10)"/>
</g>
<rect x="427.3" y="136.9" width="74.4" height="74.4" fill="none" stroke="#111" stroke-width="1.1"/>
<rect x="468.2" y="162.3" width="27.4" height="19.2" fill="none" stroke="#444" stroke-width="0.7"/>
<text x="464.6" y="133.6" font-size="6.4" text-anchor="middle" textLength="55.4" lengthAdjust="spacingAndGlyphs" stroke="#111" stroke-width="0.1">FSC/SSC gated, PI-</text>
<text x="427.2" y="226.8" font-size="8" textLength="19.3" lengthAdjust="spacingAndGlyphs" stroke="#111" stroke-width="0.1">CD19</text>
<path d="M448.3 224H458.6" stroke="#111" stroke-width="1.25" fill="none"/>
<path d="M464.1 224L457.6 220.8V227.2Z" fill="#111"/>
<text x="417" y="211.8" font-size="7.6" textLength="16.7" lengthAdjust="spacingAndGlyphs" transform="rotate(-90 417 211.8)" stroke="#111" stroke-width="0.1">B220</text>
<path d="M414.1 193V178.6" stroke="#111" stroke-width="1.25" fill="none"/>
<path d="M414.1 173.1L410.9 179.6H417.3Z" fill="#111"/>
<text x="427.7" y="217.4" font-size="3.3" text-anchor="middle" fill="#111" stroke="#111" stroke-width="0.15">10<tspan dy="-1" font-size="2">1</tspan></text>
<text x="446.2" y="217.4" font-size="3.3" text-anchor="middle" fill="#111" stroke="#111" stroke-width="0.15">10<tspan dy="-1" font-size="2">2</tspan></text>
<text x="464.6" y="217.4" font-size="3.3" text-anchor="middle" fill="#111" stroke="#111" stroke-width="0.15">10<tspan dy="-1" font-size="2">3</tspan></text>
<text x="483.1" y="217.4" font-size="3.3" text-anchor="middle" fill="#111" stroke="#111" stroke-width="0.15">10<tspan dy="-1" font-size="2">4</tspan></text>
<text x="501.5" y="217.4" font-size="3.3" text-anchor="middle" fill="#111" stroke="#111" stroke-width="0.15">10<tspan dy="-1" font-size="2">5</tspan></text>
<text x="421" y="212" font-size="3.3" text-anchor="middle" fill="#111" stroke="#111" stroke-width="0.15">10<tspan dy="-1" font-size="2">1</tspan></text>
<text x="421" y="193.4" font-size="3.3" text-anchor="middle" fill="#111" stroke="#111" stroke-width="0.15">10<tspan dy="-1" font-size="2">2</tspan></text>
<text x="421" y="175.8" font-size="3.3" text-anchor="middle" fill="#111" stroke="#111" stroke-width="0.15">10<tspan dy="-1" font-size="2">3</tspan></text>
<text x="421" y="157" font-size="3.3" text-anchor="middle" fill="#111" stroke="#111" stroke-width="0.15">10<tspan dy="-1" font-size="2">4</tspan></text>
<text x="421" y="138.6" font-size="3.3" text-anchor="middle" fill="#111" stroke="#111" stroke-width="0.15">10<tspan dy="-1" font-size="2">5</tspan></text>
<g id="c2">
<g filter="url(#b3)">
<path d="M450.8 267.7h0.65M457.5 275.7h0.65M438.2 268.3h0.65M449.4 271.3h0.65M466.2 267.3h0.65M451.0 275.4h0.65M460.2 272.2h0.65M463.6 267.7h0.65M458.6 268.5h0.65M451.1 271.8h0.65M460.1 266.3h0.65M450.9 273.4h0.65M458.6 272.9h0.65M454.2 268.4h0.65M463.6 272.1h0.65M434.1 276.0h0.65M451.0 273.6h0.65M469.7 268.6h0.65M449.1 272.4h0.65M457.9 272.6h0.65M445.6 272.8h0.65M464.5 272.4h0.65M462.5 274.2h0.65M450.6 275.5h0.65M458.4 267.4h0.65M454.6 271.9h0.65M460.2 275.0h0.65M458.4 269.0h0.65M474.8 267.9h0.65M450.6 274.5h0.65M453.3 268.5h0.65M448.7 275.6h0.65M448.3 272.0h0.65M453.2 270.5h0.65M450.4 272.0h0.65M462.3 273.8h0.65M453.7 267.3h0.65M444.9 272.1h0.65M437.1 277.2h0.65M457.3 271.2h0.65M445.4 269.8h0.65M451.1 273.6h0.65M453.9 273.2h0.65M460.6 264.1h0.65M455.5 275.2h0.65M452.8 271.7h0.65M455.6 266.9h0.65M474.8 268.6h0.65M462.1 268.8h0.65M468.9 273.5h0.65M467.0 273.0h0.65M463.2 274.8h0.65M460.3 270.9h0.65M463.3 267.2h0.65M436.5 275.6h0.65M458.0 268.4h0.65M454.5 267.9h0.65M450.2 272.1h0.65M458.3 273.5h0.65M456.5 273.0h0.65M462.4 268.0h0.65M442.9 270.0h0.65M454.8 269.3h0.65M474.9 266.8h0.65M460.6 267.9h0.65M462.2 266.1h0.65M464.9 270.6h0.65M453.3 267.2h0.65M470.5 267.6h0.65M468.0 261.7h0.65M447.8 277.8h0.65M471.6 269.4h0.65M465.4 272.0h0.65M454.1 271.6h0.65M447.2 267.4h0.65M458.3 273.1h0.65M457.9 266.7h0.65M464.0 270.4h0.65M463.1 269.3h0.65M455.2 274.5h0.65M467.8 265.8h0.65M448.3 274.9h0.65M460.0 270.7h0.65M449.3 275.0h0.65M458.6 271.4h0.65M460.0 268.8h0.65M460.3 270.9h0.65M463.0 271.5h0.65M446.3 269.6h0.65M455.2 274.9h0.65M452.1 275.1h0.65M466.1 272.8h0.65M475.5 269.0h0.65M460.0 274.6h0.65M460.7 273.8h0.65M456.4 275.6h0.65M459.3 264.3h0.65M465.8 269.3h0.65M449.7 270.6h0.65M455.1 274.8h0.65M459.7 270.3h0.65M456.6 267.9h0.65M451.6 269.8h0.65M454.8 267.2h0.65M454.1 274.5h0.65M460.7 270.5h0.65M459.8 269.8h0.65M447.6 274.7h0.65M475.6 270.7h0.65M463.4 278.3h0.65M447.3 273.6h0.65M454.1 270.2h0.65M443.4 271.9h0.65M459.7 265.3h0.65M455.0 269.4h0.65M449.0 273.7h0.65M470.6 270.9h0.65M465.7 272.5h0.65M456.7 272.8h0.65M467.7 268.4h0.65M455.3 266.5h0.65M441.5 269.7h0.65M464.5 271.3h0.65M459.6 274.9h0.65M443.0 276.8h0.65M457.9 273.3h0.65M468.1 267.1h0.65M450.0 272.9h0.65M456.3 269.0h0.65M455.7 268.6h0.65M458.0 269.5h0.65M470.6 266.0h0.65M461.8 270.6h0.65M469.6 266.4h0.65M453.8 276.9h0.65M451.5 270.1h0.65M453.5 268.0h0.65M467.5 274.8h0.65M455.5 268.5h0.65M446.1 274.1h0.65M452.8 273.1h0.65M437.1 271.4h0.65M462.3 271.7h0.65M433.6 274.2h0.65M458.1 270.7h0.65M454.1 269.7h0.65M458.3 272.4h0.65M431.1 273.4h0.65M464.6 269.4h0.65M466.7 266.8h0.65M473.0 272.4h0.65M454.6 280.1h0.65M469.3 274.8h0.65M447.2 271.5h0.65M461.2 273.9h0.65M457.2 266.6h0.65M467.0 269.3h0.65M460.5 269.4h0.65M455.6 266.5h0.65M462.3 268.3h0.65M442.6 273.6h0.65M457.0 274.0h0.65M463.3 266.2h0.65M455.6 271.0h0.65M457.4 267.3h0.65M457.9 274.0h0.65M467.6 274.6h0.65M462.4 262.0h0.65M454.6 269.3h0.65M433.7 278.2h0.65M464.5 270.1h0.65M460.1 272.1h0.65M455.7 275.5h0.65M472.2 272.0h0.65M452.5 272.1h0.65M465.2 272.4h0.65M451.7 274.5h0.65M463.1 272.1h0.65M453.6 271.1h0.65M441.4 272.3h0.65M453.3 270.2h0.65M454.6 270.0h0.65M457.7 271.1h0.65M452.0 270.9h0.65M456.4 272.5h0.65M460.5 269.3h0.65M449.7 266.2h0.65M446.9 273.2h0.65M450.0 276.8h0.65M455.6 269.7h0.65M455.5 269.2h0.65M451.9 271.6h0.65M445.2 272.5h0.65M456.0 268.0h0.65M465.5 271.2h0.65M465.7 267.8h0.65M446.5 268.0h0.65M443.5 266.0h0.65M469.7 268.0h0.65M458.4 268.9h0.65M456.3 276.1h0.65M442.5 269.1h0.65M457.8 267.8h0.65M463.1 274.5h0.65M464.6 272.5h0.65M456.0 274.2h0.65M450.1 267.6h0.65M454.8 270.2h0.65M466.7 266.6h0.65M466.1 267.4h0.65M446.1 266.4h0.65M456.3 266.2h0.65M458.8 270.8h0.65M453.1 264.9h0.65M452.9 272.7h0.65M442.6 274.5h0.65M457.0 269.0h0.65M458.9 272.8h0.65M456.6 268.3h0.65M463.2 268.0h0.65M460.3 273.7h0.65M468.2 274.9h0.65M465.4 270.5h0.65M455.4 271.6h0.65M462.3 280.1h0.65M462.1 267.6h0.65M468.9 264.4h0.65M464.8 265.9h0.65M447.9 270.1h0.65M454.2 266.7h0.65M462.0 269.9h0.65M467.7 266.4h0.65M442.4 274.5h0.65M455.5 274.2h0.65M437.5 268.7h0.65M458.4 277.1h0.65M446.3 265.6h0.65M453.7 275.8h0.65M469.5 265.1h0.65M451.4 265.3h0.65M449.8 268.4h0.65M460.9 274.2h0.65M476.4 267.7h0.65M463.8 270.9h0.65M458.7 277.0h0.65M463.3 275.3h0.65M459.7 273.4h0.65M461.1 270.1h0.65M451.2 270.1h0.65M457.0 269.6h0.65M454.0 268.8h0.65M463.9 269.3h0.65M456.0 270.2h0.65M467.6 268.0h0.65M468.3 266.9h0.65M469.7 271.5h0.65M453.1 272.7h0.65M466.0 266.8h0.65M455.3 272.0h0.65M455.2 270.0h0.65M457.3 271.8h0.65M463.8 275.0h0.65M455.3 280.6h0.65M454.9 276.9h0.65M455.5 266.2h0.65M453.3 270.1h0.65M465.1 263.4h0.65M451.8 270.9h0.65M462.5 271.6h0.65M464.0 269.6h0.65M455.5 274.9h0.65M471.2 270.6h0.65M458.0 267.9h0.65M474.3 270.4h0.65M461.5 265.1h0.65M462.8 278.2h0.65M455.6 270.3h0.65M469.5 268.9h0.65M464.5 276.4h0.65M447.2 269.1h0.65M462.6 270.6h0.65M457.3 270.2h0.65M458.2 271.9h0.65M453.1 270.3h0.65M458.6 267.1h0.65M459.9 263.3h0.65M462.2 269.9h0.65M447.9 276.2h0.65M448.1 278.5h0.65M451.5 275.3h0.65M457.0 276.1h0.65M455.6 274.3h0.65M453.8 265.0h0.65M460.4 272.0h0.65M460.8 275.9h0.65M450.6 266.8h0.65M458.9 268.3h0.65M456.2 270.9h0.65M450.7 275.0h0.65M456.6 276.7h0.65M459.4 274.0h0.65M454.5 268.9h0.65M452.5 268.4h0.65M460.7 270.9h0.65M447.8 266.7h0.65M449.5 265.6h0.65M449.3 266.6h0.65M462.4 266.5h0.65M452.2 270.9h0.65M457.4 272.2h0.65M463.4 272.3h0.65M454.7 275.2h0.65M459.8 268.2h0.65M468.8 265.7h0.65M461.3 274.5h0.65M458.1 271.8h0.65M458.2 272.9h0.65M458.9 270.6h0.65M462.1 264.1h0.65M459.0 269.6h0.65M473.0 270.2h0.65M451.9 273.5h0.65M453.6 267.3h0.65M454.9 272.7h0.65M467.0 273.3h0.65M458.8 270.1h0.65M459.1 274.6h0.65M456.4 274.7h0.65M450.6 271.4h0.65M463.5 272.5h0.65M458.5 269.0h0.65M442.4 270.8h0.65M450.1 270.2h0.65M469.6 267.0h0.65M463.9 270.1h0.65M448.2 272.1h0.65M462.7 266.3h0.65M447.6 270.5h0.65M462.7 268.3h0.65M460.6 272.0h0.65M457.3 272.3h0.65M467.2 269.2h0.65M459.3 267.1h0.65M451.2 271.1h0.65M463.4 268.0h0.65M446.1 274.9h0.65M475.3 260.5h0.65M448.5 272.1h0.65M460.6 267.3h0.65M460.1 274.1h0.65M455.1 273.4h0.65M457.8 267.7h0.65M451.9 269.3h0.65M468.1 273.5h0.65M458.5 265.5h0.65M453.0 269.9h0.65M441.6 272.3h0.65M458.9 266.3h0.65M453.5 269.7h0.65M472.1 271.5h0.65M463.2 270.5h0.65M447.1 274.8h0.65M451.0 265.1h0.65M462.8 269.1h0.65M457.2 272.5h0.65M455.3 272.3h0.65M467.3 268.7h0.65M454.2 271.1h0.65M462.1 269.0h0.65M457.5 268.5h0.65M456.6 272.6h0.65M450.4 270.9h0.65M445.1 269.7h0.65M457.8 272.5h0.65M448.8 271.3h0.65M449.7 272.6h0.65M459.3 272.0h0.65M454.9 266.4h0.65M452.1 266.9h0.65M451.6 271.2h0.65M465.4 267.9h0.65M450.9 272.1h0.65M441.2 278.9h0.65M445.1 275.3h0.65M465.1 273.1h0.65M456.4 273.3h0.65M454.6 274.2h0.65M451.6 268.7h0.65M459.9 269.0h0.65M462.1 267.5h0.65M458.8 267.4h0.65M456.9 277.8h0.65M448.1 267.7h0.65M444.2 271.3h0.65M469.8 268.1h0.65M464.4 269.5h0.65M452.6 277.8h0.65M465.0 264.0h0.65M449.4 272.9h0.65M462.1 269.6h0.65M459.7 272.3h0.65M454.6 274.3h0.65M450.5 273.9h0.65M464.3 270.7h0.65M454.3 271.0h0.65M439.5 273.4h0.65M445.1 265.4h0.65M462.8 267.2h0.65M459.8 270.7h0.65M442.8 269.3h0.65M455.0 272.5h0.65M457.2 266.7h0.65M452.9 271.6h0.65M446.8 270.4h0.65M452.0 264.4h0.65M471.0 272.3h0.65M453.6 274.2h0.65M449.3 276.6h0.65M454.1 271.6h0.65M452.5 271.6h0.65M459.6 270.6h0.65M450.7 273.9h0.65M461.4 270.4h0.65M465.1 267.6h0.65M467.1 269.3h0.65M468.9 268.2h0.65M455.1 271.7h0.65M466.1 274.6h0.65M453.2 268.8h0.65M463.4 274.2h0.65M462.5 269.2h0.65M467.1 269.7h0.65M458.5 272.7h0.65M451.8 263.9h0.65M459.0 272.9h0.65M460.6 272.2h0.65M458.6 274.0h0.65M458.4 275.5h0.65M457.7 273.3h0.65M452.8 272.2h0.65M460.4 270.9h0.65M469.2 269.7h0.65M466.0 271.0h0.65M465.3 267.0h0.65M454.5 274.2h0.65M450.7 272.7h0.65M461.6 271.0h0.65M460.6 272.2h0.65M455.3 272.3h0.65M452.8 269.8h0.65M444.5 271.7h0.65M443.6 272.2h0.65M458.3 267.1h0.65M457.7 271.7h0.65M454.0 268.1h0.65M456.3 272.2h0.65M465.0 276.3h0.65M441.5 273.5h0.65M460.2 268.4h0.65M460.2 277.3h0.65M458.4 275.1h0.65M465.3 268.5h0.65M439.1 276.4h0.65M468.6 263.9h0.65M455.2 268.7h0.65M458.6 270.8h0.65M465.8 268.0h0.65M471.7 263.7h0.65M459.6 279.3h0.65M456.4 272.9h0.65M454.4 281.9h0.65M464.0 269.0h0.65M442.0 273.0h0.65M462.1 263.6h0.65M453.3 273.0h0.65M438.0 272.1h0.65M444.0 267.7h0.65M460.6 274.2h0.65M466.0 267.8h0.65M460.4 264.7h0.65M445.5 273.7h0.65M453.5 267.8h0.65M442.2 271.5h0.65M474.0 262.5h0.65M449.1 275.3h0.65M441.7 270.3h0.65M457.9 274.4h0.65M457.0 276.8h0.65M456.7 270.5h0.65M460.6 271.6h0.65M444.8 268.9h0.65M455.3 272.1h0.65M447.1 269.5h0.65M451.2 272.5h0.65M453.8 273.1h0.65M459.8 267.5h0.65M454.3 267.0h0.65M458.1 273.4h0.65M448.6 265.8h0.65M461.0 269.4h0.65M456.9 272.3h0.65M460.3 273.5h0.65M452.7 264.0h0.65M453.0 270.2h0.65M453.9 272.4h0.65M455.5 275.2h0.65M452.0 271.3h0.65M454.9 278.0h0.65M449.1 268.3h0.65M454.2 273.6h0.65M457.0 270.2h0.65M444.7 265.2h0.65M455.2 270.2h0.65M471.1 270.6h0.65M460.7 273.6h0.65M449.5 267.5h0.65M454.6 275.9h0.65M464.7 268.1h0.65M447.4 274.8h0.65M465.3 266.4h0.65M469.5 267.0h0.65M462.9 269.5h0.65M454.2 269.1h0.65M462.7 272.3h0.65M463.3 269.2h0.65M451.0 278.5h0.65M470.6 268.8h0.65M448.4 276.6h0.65M458.1 270.9h0.65M463.9 271.3h0.65M458.5 277.2h0.65M442.2 274.4h0.65M449.2 271.8h0.65M455.7 271.8h0.65M438.0 275.0h0.65M475.5 267.6h0.65M464.4 272.1h0.65M459.2 268.9h0.65M462.2 271.2h0.65M468.8 272.4h0.65M450.4 261.8h0.65M469.2 271.2h0.65M458.2 268.7h0.65M477.5 273.2h0.65M457.7 269.5h0.65M462.1 274.8h0.65M461.5 273.5h0.65M459.2 271.8h0.65M446.9 272.2h0.65M457.4 270.5h0.65M455.2 272.0h0.65M452.3 270.6h0.65M447.3 279.4h0.65M449.4 267.6h0.65M452.6 269.9h0.65M447.6 263.7h0.65M470.5 272.8h0.65M454.1 272.9h0.65M447.5 266.4h0.65M459.9 272.4h0.65M451.5 271.3h0.65M432.2 272.9h0.65M465.6 270.5h0.65M458.7 272.5h0.65M439.8 268.3h0.65M446.8 272.6h0.65M451.3 265.1h0.65M464.1 269.5h0.65M465.7 276.6h0.65M443.2 268.0h0.65M466.2 274.5h0.65M460.3 271.7h0.65M462.8 272.4h0.65M447.0 274.3h0.65M464.9 268.7h0.65M449.4 269.9h0.65M452.4 273.0h0.65M463.3 270.3h0.65M453.9 265.3h0.65M453.2 267.9h0.65M452.6 272.4h0.65M459.5 282.1h0.65M449.7 269.8h0.65M447.6 270.9h0.65M455.0 274.3h0.65M441.5 275.4h0.65M462.0 268.6h0.65M451.5 272.0h0.65M461.2 269.9h0.65M455.7 271.0h0.65M448.3 272.6h0.65M461.7 270.5h0.65M447.8 271.7h0.65M456.2 271.9h0.65M453.9 273.9h0.65M466.0 272.6h0.65M459.3 274.6h0.65M456.6 270.3h0.65M445.4 272.0h0.65M466.5 266.7h0.65M462.9 266.0h0.65M460.0 276.5h0.65M457.0 267.0h0.65M459.3 270.1h0.65M463.3 268.5h0.65M442.8 270.7h0.65M462.1 273.7h0.65M459.2 270.7h0.65M462.5 269.6h0.65M453.4 271.9h0.65M465.7 268.3h0.65M460.8 268.3h0.65M451.1 272.0h0.65M445.9 269.1h0.65M447.1 269.8h0.65M450.3 279.1h0.65M461.9 270.6h0.65M445.4 264.2h0.65M460.3 268.4h0.65M465.3 268.7h0.65M446.2 269.8h0.65M444.1 267.5h0.65M462.5 268.5h0.65M462.4 268.5h0.65M454.9 269.2h0.65M452.3 269.1h0.65M469.0 269.4h0.65M441.7 277.9h0.65M467.5 273.4h0.65M456.0 270.4h0.65M453.1 271.6h0.65M460.7 270.4h0.65M450.0 268.4h0.65M471.0 274.9h0.65M446.7 269.8h0.65M456.8 272.7h0.65M456.1 271.7h0.65M460.2 274.2h0.65M446.7 275.4h0.65M460.7 272.2h0.65M444.6 271.3h0.65M455.0 273.1h0.65M462.7 272.5h0.65M446.8 275.9h0.65M457.8 273.7h0.65M456.6 268.6h0.65M478.4 270.8h0.65M463.0 268.7h0.65M455.5 274.6h0.65M461.1 276.0h0.65M466.3 266.4h0.65M444.8 275.8h0.65M461.7 269.5h0.65M454.4 269.3h0.65M471.4 268.8h0.65M446.0 274.8h0.65M456.3 272.0h0.65M453.8 271.0h0.65M441.8 274.1h0.65M451.2 270.2h0.65M459.9 274.6h0.65M439.3 272.2h0.65M461.7 273.6h0.65M449.6 272.6h0.65M460.4 273.5h0.65M451.8 270.7h0.65M453.1 274.9h0.65M465.6 268.5h0.65M455.8 271.6h0.65M449.5 271.2h0.65M464.2 272.6h0.65M451.1 269.3h0.65M455.5 266.3h0.65M459.4 271.0h0.65M445.9 271.2h0.65M451.4 270.5h0.65M450.2 275.9h0.65M449.3 274.0h0.65M459.0 275.2h0.65M456.4 270.9h0.65M456.8 264.8h0.65M476.4 268.2h0.65M453.9 267.6h0.65M456.3 276.0h0.65M450.9 272.8h0.65M465.6 273.0h0.65M453.0 265.7h0.65M460.4 272.3h0.65M454.1 269.8h0.65M470.6 264.5h0.65M452.5 269.4h0.65M443.9 270.0h0.65M450.8 275.4h0.65M442.2 268.0h0.65M458.5 265.8h0.65M440.3 270.5h0.65M446.7 268.8h0.65M455.7 272.4h0.65M451.5 270.5h0.65M462.6 269.8h0.65M462.6 268.4h0.65M461.2 274.4h0.65M446.5 281.3h0.65M454.1 270.1h0.65M455.7 272.4h0.65M447.0 272.0h0.65M452.5 275.8h0.65M443.0 274.3h0.65M454.1 268.8h0.65M457.9 270.0h0.65M457.3 271.6h0.65M466.5 268.6h0.65M469.6 261.1h0.65M472.1 273.2h0.65M469.6 270.2h0.65M458.8 267.5h0.65M467.4 266.2h0.65M450.4 271.5h0.65M458.9 271.7h0.65M447.3 270.7h0.65M461.2 274.1h0.65M463.2 271.5h0.65M454.6 269.4h0.65M452.6 271.0h0.65M461.0 268.9h0.65M473.3 266.1h0.65M463.4 269.6h0.65M455.6 269.8h0.65M469.2 268.7h0.65M461.4 270.8h0.65M463.1 272.1h0.65M470.1 267.2h0.65M450.7 276.8h0.65M467.2 270.0h0.65M454.6 271.9h0.65M467.2 267.4h0.65M468.6 269.5h0.65M453.8 269.9h0.65M439.9 273.6h0.65M446.0 270.2h0.65M449.6 272.3h0.65M462.7 270.4h0.65M458.5 272.0h0.65M470.1 271.3h0.65M469.6 269.4h0.65M459.5 268.6h0.65M461.4 267.7h0.65M460.5 268.5h0.65M454.4 274.9h0.65M458.3 273.2h0.65M454.3 265.3h0.65M468.8 269.1h0.65M451.9 274.3h0.65M447.4 269.5h0.65M466.0 267.8h0.65M465.9 269.0h0.65M455.2 271.3h0.65M453.1 274.6h0.65M465.8 270.2h0.65M462.0 272.0h0.65M470.0 264.6h0.65M465.5 272.9h0.65M454.3 271.2h0.65M454.4 275.0h0.65M447.7 273.7h0.65M467.5 271.6h0.65M452.8 269.8h0.65M439.3 269.4h0.65M465.5 267.0h0.65M443.5 271.4h0.65M444.9 273.5h0.65M450.1 274.5h0.65M455.5 266.6h0.65M450.4 269.5h0.65M450.4 275.4h0.65M448.8 272.8h0.65M452.3 273.2h0.65M444.8 267.2h0.65M461.5 274.9h0.65M445.5 271.0h0.65M452.4 268.4h0.65M464.8 270.2h0.65M445.5 271.3h0.65M467.5 267.6h0.65M452.4 268.7h0.65M458.0 269.0h0.65M463.9 267.6h0.65M445.2 273.5h0.65M430.8 270.5h0.65M459.2 271.4h0.65M452.0 270.0h0.65M462.3 282.0h0.65M450.3 271.0h0.65M453.3 272.9h0.65M457.1 272.6h0.65M470.1 268.7h0.65M454.6 272.3h0.65M473.8 268.0h0.65M471.0 273.2h0.65M434.3 270.0h0.65M449.0 272.9h0.65M467.7 270.0h0.65M458.9 277.4h0.65M460.4 277.2h0.65M450.1 276.7h0.65M452.0 263.8h0.65M450.0 270.1h0.65M456.8 273.2h0.65M462.7 271.9h0.65M451.3 277.0h0.65M466.6 270.0h0.65M452.2 271.2h0.65M454.9 268.9h0.65M456.6 268.8h0.65M461.9 268.3h0.65M461.0 271.5h0.65M458.4 272.4h0.65M449.3 279.7h0.65M451.5 273.7h0.65M456.9 269.5h0.65M471.4 272.9h0.65M454.8 272.8h0.65M462.9 275.2h0.65M465.1 269.5h0.65M454.5 267.5h0.65M459.3 273.3h0.65M453.9 273.2h0.65M457.8 269.3h0.65M447.3 275.3h0.65M477.7 270.5h0.65M447.8 268.5h0.65M459.2 272.7h0.65M468.5 262.1h0.65M472.0 269.9h0.65M458.1 271.9h0.65M453.9 270.3h0.65M465.0 264.6h0.65M456.2 272.7h0.65M443.4 271.7h0.65M469.5 270.8h0.65M462.9 272.5h0.65M458.8 271.8h0.65M450.2 270.9h0.65M471.6 265.5h0.65M455.2 267.1h0.65M452.3 268.9h0.65M447.0 272.6h0.65M449.4 273.3h0.65M470.9 261.4h0.65M454.9 264.5h0.65M456.0 272.1h0.65M459.0 274.4h0.65M457.7 265.4h0.65M468.9 266.7h0.65M456.3 271.9h0.65M449.8 271.9h0.65M468.6 264.4h0.65M443.2 270.8h0.65M455.2 267.0h0.65M438.4 275.6h0.65M459.7 266.4h0.65M461.6 270.2h0.65M457.8 266.6h0.65M455.3 272.5h0.65M442.3 269.0h0.65M465.5 276.3h0.65M462.3 270.1h0.65M448.0 270.5h0.65M455.0 272.4h0.65M455.7 278.8h0.65M467.1 262.9h0.65M447.4 271.8h0.65M465.1 271.3h0.65M434.0 268.0h0.65M468.2 271.6h0.65M478.1 271.2h0.65M461.2 275.2h0.65M453.2 269.5h0.65M448.8 272.5h0.65M460.8 273.4h0.65M469.0 271.6h0.65M467.0 269.1h0.65M449.3 273.9h0.65M465.7 274.2h0.65M455.5 269.5h0.65M454.1 272.3h0.65M456.5 270.3h0.65M459.0 269.7h0.65M459.5 268.7h0.65M444.3 271.1h0.65M472.2 266.7h0.65M464.9 274.3h0.65M452.6 272.1h0.65M438.5 274.5h0.65M469.6 270.2h0.65M440.5 270.6h0.65M450.9 271.8h0.65M459.2 269.3h0.65M454.2 268.5h0.65M461.7 271.0h0.65M459.7 269.0h0.65M460.9 269.5h0.65M459.4 270.1h0.65M451.2 267.9h0.65M441.3 268.1h0.65M461.8 280.7h0.65M443.3 269.6h0.65M458.0 282.1h0.65M454.9 267.3h0.65M461.1 277.1h0.65M433.8 269.4h0.65M466.7 266.1h0.65M455.9 268.9h0.65M462.8 265.6h0.65M459.6 271.3h0.65M461.7 271.7h0.65M457.7 265.1h0.65M454.0 268.1h0.65M461.3 269.7h0.65M458.6 274.2h0.65M456.6 276.2h0.65M463.4 265.4h0.65M452.6 275.2h0.65M453.3 275.0h0.65M452.4 270.9h0.65M464.9 265.0h0.65M457.5 269.3h0.65M458.9 276.1h0.65M460.6 266.1h0.65M464.7 268.6h0.65M458.7 274.3h0.65M454.8 274.1h0.65M458.2 267.8h0.65M454.0 266.8h0.65M466.7 270.4h0.65M464.6 266.5h0.65M463.5 266.3h0.65M459.3 270.5h0.65M452.3 272.3h0.65M457.0 268.0h0.65M450.5 267.3h0.65M468.2 270.2h0.65M454.3 273.3h0.65M449.6 267.8h0.65M460.4 275.5h0.65M459.5 271.1h0.65M470.8 264.5h0.65M481.6 264.8h0.65M456.0 266.6h0.65M447.0 271.0h0.65M476.7 265.8h0.65M452.0 272.2h0.65M448.6 270.8h0.65M463.0 263.2h0.65M454.4 270.1h0.65M452.8 270.9h0.65M442.2 270.9h0.65M452.4 268.0h0.65M468.0 276.1h0.65M463.3 267.4h0.65M468.8 271.2h0.65M450.5 273.4h0.65M452.5 273.1h0.65M464.9 273.7h0.65M448.4 271.3h0.65M456.6 266.9h0.65M460.6 272.7h0.65M445.5 270.2h0.65M447.6 267.7h0.65M448.7 276.0h0.65M451.5 270.1h0.65M465.4 273.3h0.65M467.8 263.0h0.65M462.6 264.6h0.65M451.7 270.0h0.65M453.0 277.5h0.65M456.0 274.7h0.65M455.5 270.8h0.65M461.3 271.8h0.65M460.5 264.9h0.65M461.2 271.4h0.65M461.9 270.1h0.65M459.9 266.3h0.65M465.9 266.0h0.65M468.8 272.9h0.65M456.4 269.9h0.65M463.2 269.2h0.65M447.4 272.7h0.65M446.9 270.3h0.65M471.9 271.9h0.65M453.3 271.0h0.65M451.7 271.3h0.65M445.4 274.2h0.65M456.9 268.8h0.65M452.8 279.7h0.65M453.2 269.6h0.65M452.1 269.7h0.65M467.9 271.9h0.65M460.5 271.6h0.65M447.0 264.0h0.65M469.6 271.9h0.65M458.9 271.5h0.65M458.6 270.7h0.65M454.2 263.9h0.65M461.7 270.5h0.65M465.1 271.0h0.65M454.9 273.0h0.65M458.4 269.2h0.65M453.8 269.8h0.65M454.4 269.6h0.65M466.0 279.3h0.65M456.4 274.5h0.65M439.9 262.1h0.65M453.1 270.7h0.65M450.5 267.1h0.65M449.9 269.9h0.65M458.1 269.6h0.65M447.1 270.6h0.65M469.1 266.7h0.65M457.9 274.0h0.65M450.2 269.6h0.65M481.0 272.4h0.65M452.8 271.7h0.65M457.9 271.2h0.65M460.7 269.5h0.65M438.6 269.5h0.65M457.8 266.3h0.65M454.8 275.9h0.65M458.7 268.5h0.65M458.5 274.0h0.65M442.6 268.2h0.65M451.5 269.9h0.65M456.1 269.0h0.65M457.9 271.0h0.65M447.3 269.8h0.65M447.0 272.7h0.65M459.3 272.7h0.65M449.7 269.8h0.65M438.9 272.7h0.65M443.9 273.2h0.65M465.9 271.3h0.65M462.2 271.0h0.65M460.3 273.5h0.65M467.9 276.2h0.65M455.1 273.7h0.65M464.2 271.5h0.65M458.8 266.5h0.65M465.6 267.1h0.65M451.4 268.6h0.65M461.2 267.3h0.65M460.9 272.2h0.65M457.7 269.6h0.65M462.3 274.5h0.65M452.9 267.8h0.65M451.8 268.5h0.65M455.0 270.5h0.65M438.7 277.3h0.65M450.2 270.1h0.65M440.4 266.1h0.65M448.8 272.4h0.65M463.3 264.3h0.65M459.3 275.4h0.65M455.0 274.0h0.65M459.2 267.6h0.65M464.9 268.0h0.65M459.8 269.2h0.65M455.3 271.5h0.65M467.2 264.4h0.65M447.9 272.0h0.65M464.9 269.4h0.65M455.6 272.6h0.65M469.5 266.6h0.65M443.9 271.2h0.65M462.8 266.0h0.65M466.5 272.9h0.65M463.1 267.5h0.65M446.7 273.9h0.65M459.3 272.8h0.65M445.1 262.5h0.65M466.4 273.1h0.65M454.7 271.0h0.65M460.9 272.8h0.65M455.3 269.3h0.65M449.4 274.9h0.65M456.7 259.9h0.65M459.6 268.7h0.65M446.5 270.2h0.65M446.4 270.4h0.65M452.7 272.9h0.65M448.2 265.8h0.65M451.6 266.9h0.65M463.0 269.5h0.65M443.1 269.4h0.65M456.8 270.7h0.65M442.0 271.9h0.65M459.7 273.7h0.65M465.9 269.5h0.65M446.3 270.7h0.65M462.0 267.3h0.65M466.9 266.7h0.65M448.1 274.4h0.65M456.3 271.9h0.65M454.5 271.1h0.65M452.8 277.3h0.65M462.3 269.9h0.65M461.1 273.1h0.65M452.8 271.8h0.65M458.5 268.8h0.65M450.6 270.8h0.65M454.4 269.7h0.65M441.2 272.6h0.65M462.3 270.5h0.65M471.2 272.1h0.65M453.9 268.9h0.65M460.9 269.2h0.65M443.9 272.5h0.65M454.5 270.3h0.65M462.0 270.9h0.65M473.2 266.8h0.65M456.3 271.9h0.65M453.2 269.5h0.65M470.8 264.8h0.65M459.3 264.9h0.65M459.1 264.4h0.65M447.9 275.4h0.65M469.6 269.9h0.65M435.2 276.2h0.65M458.6 267.1h0.65M453.7 266.9h0.65M456.2 270.6h0.65M458.2 273.2h0.65M451.0 264.3h0.65M447.1 267.8h0.65M453.9 269.7h0.65M457.1 275.2h0.65M456.9 267.4h0.65M454.2 268.3h0.65M455.2 272.8h0.65M448.0 274.0h0.65M472.0 274.2h0.65M470.2 269.8h0.65M446.6 278.3h0.65M456.6 271.6h0.65M453.8 268.1h0.65M461.6 265.9h0.65M446.0 273.7h0.65M453.7 268.4h0.65M461.5 274.9h0.65M454.6 270.6h0.65M461.9 273.3h0.65M465.6 272.1h0.65M451.8 273.0h0.65M456.5 265.4h0.65M467.2 271.6h0.65M468.1 269.5h0.65M462.9 270.0h0.65M458.6 273.5h0.65M457.7 272.7h0.65M457.1 274.7h0.65M461.8 265.0h0.65M470.6 270.8h0.65M452.7 269.2h0.65M473.2 269.5h0.65M461.3 272.3h0.65M452.7 276.8h0.65M473.8 266.6h0.65M465.7 264.7h0.65M454.3 271.3h0.65M457.6 272.6h0.65M460.4 271.6h0.65M456.0 271.9h0.65M453.1 277.5h0.65M457.9 274.7h0.65M457.8 270.2h0.65M455.1 266.9h0.65M474.0 270.4h0.65M457.9 269.2h0.65M467.3 268.7h0.65M453.1 269.5h0.65M469.6 270.5h0.65M455.6 268.9h0.65M467.5 270.7h0.65M454.6 273.9h0.65M463.8 267.0h0.65M466.7 273.3h0.65M454.6 266.8h0.65M465.8 268.8h0.65M455.3 270.1h0.65M455.1 273.7h0.65M448.3 273.4h0.65M466.7 273.2h0.65M462.9 271.1h0.65M455.4 270.6h0.65M450.5 276.8h0.65M455.8 267.7h0.65M464.2 274.9h0.65M459.2 269.6h0.65M448.2 273.7h0.65M454.9 268.9h0.65M461.5 266.3h0.65M462.2 262.6h0.65M451.6 266.8h0.65M455.3 273.5h0.65M447.0 276.1h0.65M451.4 269.8h0.65M464.8 267.7h0.65M468.7 269.0h0.65M456.0 267.9h0.65M466.3 269.7h0.65M452.9 268.2h0.65M451.9 271.0h0.65M451.5 273.9h0.65M456.6 268.9h0.65M461.2 274.9h0.65M440.5 273.6h0.65M465.8 270.4h0.65M463.2 265.3h0.65M451.4 274.6h0.65M456.4 271.1h0.65M462.2 271.4h0.65M460.5 268.9h0.65M455.1 275.1h0.65M452.7 266.7h0.65M454.6 273.9h0.65M471.5 269.8h0.65M452.3 273.2h0.65M459.9 274.2h0.65M461.5 272.7h0.65M461.3 271.7h0.65M449.8 271.0h0.65M470.3 273.7h0.65M465.0 271.3h0.65M456.4 272.0h0.65M454.8 274.4h0.65M454.4 268.7h0.65M444.8 276.9h0.65M450.9 268.7h0.65M460.9 276.1h0.65M462.4 269.2h0.65M461.4 267.8h0.65M455.2 271.1h0.65M457.5 273.2h0.65M462.1 276.2h0.65M463.7 269.2h0.65M459.0 267.9h0.65M452.2 270.2h0.65M465.1 267.8h0.65M444.5 268.9h0.65M447.6 271.2h0.65M454.4 267.4h0.65M450.8 270.1h0.65M460.5 272.4h0.65M467.6 268.9h0.65M462.2 270.5h0.65M448.3 269.7h0.65M474.5 268.5h0.65M470.6 272.0h0.65M470.4 268.9h0.65M464.6 269.1h0.65M448.1 268.0h0.65M460.2 265.4h0.65M459.9 267.8h0.65M459.7 266.2h0.65M463.9 269.4h0.65M444.7 267.5h0.65M457.3 265.7h0.65M460.0 272.0h0.65M452.5 275.6h0.65M468.8 270.6h0.65M461.0 271.9h0.65M455.6 275.1h0.65M452.3 263.4h0.65M457.6 272.1h0.65M463.5 266.7h0.65M468.0 267.1h0.65M462.5 272.5h0.65M459.1 274.2h0.65M454.0 277.5h0.65M461.1 269.1h0.65M477.9 268.7h0.65M445.0 276.5h0.65M469.4 267.8h0.65M449.9 275.1h0.65M457.5 267.7h0.65M453.5 271.4h0.65M465.6 274.9h0.65M452.9 276.0h0.65M445.6 274.2h0.65M456.4 272.2h0.65M453.7 268.9h0.65M459.9 274.1h0.65M439.9 272.7h0.65M453.8 267.8h0.65M446.9 273.4h0.65M461.9 272.3h0.65M441.2 267.6h0.65M452.4 269.9h0.65M471.1 268.2h0.65M458.6 273.8h0.65M470.6 270.6h0.65M460.6 276.5h0.65M453.6 265.5h0.65M451.3 270.4h0.65M467.8 270.7h0.65M466.9 270.1h0.65M457.5 268.9h0.65M447.8 273.3h0.65M460.4 272.3h0.65M453.0 269.9h0.65M460.5 272.4h0.65M472.8 266.5h0.65M465.4 272.7h0.65M455.3 271.4h0.65M457.4 275.6h0.65M477.5 269.8h0.65M455.6 273.9h0.65M461.2 269.8h0.65M463.6 272.9h0.65M454.5 273.7h0.65M439.3 268.6h0.65M454.9 271.5h0.65M446.3 276.5h0.65M454.4 271.5h0.65M457.2 273.2h0.65M453.0 273.5h0.65M450.3 266.8h0.65M461.4 270.9h0.65M463.7 264.0h0.65M458.0 268.7h0.65M455.7 269.7h0.65M454.2 269.0h0.65M464.9 264.6h0.65M444.3 273.2h0.65M473.0 266.8h0.65M449.8 267.9h0.65M449.7 275.5h0.65M463.0 273.0h0.65M460.2 271.2h0.65M452.4 268.2h0.65M463.0 278.0h0.65M454.8 275.0h0.65M451.8 271.5h0.65M470.7 269.2h0.65M462.2 268.5h0.65M471.8 265.5h0.65M461.7 269.6h0.65M459.0 271.7h0.65M468.0 272.5h0.65M465.8 271.1h0.65M449.3 275.8h0.65M469.6 271.1h0.65M463.5 269.4h0.65M446.3 275.0h0.65M452.2 277.3h0.65M462.8 270.2h0.65M452.5 271.6h0.65M449.3 270.4h0.65M469.9 268.6h0.65M471.8 269.0h0.65M460.3 267.6h0.65M454.8 269.6h0.65M447.0 277.9h0.65M462.0 270.0h0.65M448.7 271.7h0.65M448.7 268.6h0.65M456.5 277.7h0.65M443.8 273.9h0.65M452.1 262.1h0.65M446.1 271.5h0.65M457.6 268.4h0.65M471.5 271.0h0.65M451.8 266.1h0.65M458.5 268.5h0.65M465.1 266.7h0.65M466.6 268.4h0.65M458.8 269.8h0.65M462.6 273.9h0.65M452.7 268.4h0.65M472.6 272.3h0.65M472.7 272.2h0.65M458.9 275.8h0.65M451.9 270.0h0.65M454.3 273.2h0.65M450.5 270.9h0.65M450.5 270.7h0.65M466.5 273.4h0.65M456.3 278.9h0.65M451.9 272.8h0.65M452.8 264.2h0.65M448.3 275.6h0.65M445.1 281.3h0.65M456.4 271.7h0.65M467.2 269.9h0.65M452.1 269.4h0.65M450.0 273.3h0.65M453.7 272.8h0.65M445.2 270.6h0.65M473.7 270.3h0.65M456.8 274.6h0.65M459.9 275.4h0.65M448.3 274.1h0.65M449.1 273.8h0.65M477.2 273.6h0.65M450.6 272.8h0.65M460.7 268.2h0.65M458.9 267.2h0.65M465.2 272.9h0.65M456.2 273.1h0.65M476.1 268.4h0.65M442.5 273.3h0.65M453.4 268.7h0.65M464.7 273.2h0.65M462.5 275.4h0.65M452.1 270.0h0.65M459.7 262.0h0.65M435.7 274.0h0.65M455.6 271.1h0.65M449.7 272.3h0.65M465.4 268.0h0.65M461.7 269.8h0.65M456.0 271.3h0.65M469.4 271.2h0.65M462.7 270.7h0.65M440.5 275.5h0.65M457.1 271.1h0.65M452.7 266.3h0.65M469.6 275.4h0.65M469.1 263.8h0.65M461.2 266.6h0.65M455.6 269.3h0.65M452.0 268.9h0.65M453.6 273.6h0.65M470.3 272.4h0.65M457.1 270.3h0.65M455.2 270.9h0.65M452.2 270.7h0.65M463.9 269.4h0.65M450.7 271.1h0.65M457.8 270.5h0.65M455.3 273.2h0.65M456.5 267.7h0.65M461.5 268.1h0.65M463.6 272.7h0.65M461.1 271.4h0.65M446.4 271.2h0.65M458.4 272.7h0.65M448.2 271.2h0.65M445.0 272.6h0.65M457.8 271.1h0.65M470.6 271.8h0.65M455.4 269.1h0.65M453.9 273.6h0.65M464.3 268.5h0.65M456.1 269.5h0.65M462.7 270.8h0.65M451.1 268.6h0.65M467.1 265.4h0.65M441.7 262.6h0.65M473.2 267.5h0.65M464.2 271.9h0.65M464.2 273.7h0.65M453.4 271.1h0.65M465.2 271.8h0.65M450.9 269.0h0.65M445.7 272.8h0.65M452.4 266.3h0.65M452.8 272.3h0.65M458.5 269.9h0.65M458.7 272.7h0.65M447.3 269.2h0.65M465.2 272.3h0.65M445.7 269.6h0.65M469.0 272.0h0.65M456.3 274.1h0.65M468.6 274.1h0.65M445.6 267.8h0.65M453.1 271.0h0.65M454.4 271.8h0.65M469.4 273.1h0.65M465.1 270.0h0.65M470.5 270.9h0.65M459.1 270.5h0.65M443.1 279.0h0.65M457.2 273.6h0.65M475.3 268.4h0.65M448.1 274.9h0.65M458.8 267.6h0.65M464.9 270.1h0.65M448.8 263.6h0.65M449.3 272.8h0.65M449.1 274.7h0.65M475.0 270.0h0.65M458.9 270.4h0.65M464.1 270.2h0.65M465.9 274.4h0.65M463.7 267.1h0.65M462.4 269.4h0.65M460.0 273.6h0.65M451.9 272.0h0.65M468.7 267.0h0.65M454.5 276.5h0.65M454.2 278.1h0.65M445.1 265.5h0.65M460.0 271.5h0.65M459.8 277.3h0.65M466.9 269.8h0.65M451.4 262.7h0.65M446.2 274.6h0.65M457.8 264.6h0.65M464.3 271.6h0.65M467.4 269.7h0.65M465.7 265.9h0.65M436.7 269.8h0.65M463.6 274.1h0.65M436.7 274.8h0.65M463.8 280.7h0.65M464.5 274.5h0.65M440.0 275.8h0.65M435.7 272.6h0.65M452.0 267.7h0.65M445.6 272.6h0.65M461.9 268.7h0.65M459.6 276.0h0.65M456.7 282.5h0.65M452.7 269.0h0.65M437.0 279.7h0.65M463.1 271.0h0.65M459.4 271.6h0.65M465.2 271.7h0.65M458.5 271.9h0.65M446.1 261.7h0.65M461.3 265.6h0.65M460.6 275.5h0.65M475.4 267.1h0.65M458.1 277.3h0.65M449.0 270.0h0.65M461.7 282.9h0.65M467.7 276.6h0.65M446.5 276.7h0.65M467.5 265.0h0.65M456.2 271.5h0.65M462.1 262.9h0.65M463.5 271.9h0.65M452.5 261.7h0.65M434.5 271.4h0.65M463.1 274.2h0.65M463.2 263.1h0.65M458.8 279.3h0.65M440.4 277.2h0.65M448.9 276.0h0.65M456.5 264.0h0.65M445.8 280.0h0.65M455.6 279.0h0.65M460.0 276.9h0.65M452.2 274.0h0.65M452.7 277.5h0.65M450.7 278.7h0.65M471.9 264.9h0.65M454.6 275.5h0.65M475.0 277.0h0.65M456.3 263.4h0.65M464.6 268.8h0.65M458.3 274.4h0.65M442.0 279.2h0.65M465.9 274.7h0.65M462.5 273.9h0.65M441.5 271.0h0.65M464.5 270.1h0.65M456.6 274.4h0.65M457.2 273.8h0.65M461.2 272.1h0.65M444.6 272.0h0.65M465.8 268.2h0.65M461.2 273.7h0.65M445.9 258.6h0.65M455.6 268.5h0.65M450.1 277.9h0.65M448.4 274.9h0.65M457.4 273.4h0.65M475.9 260.6h0.65M466.1 271.0h0.65M453.0 269.3h0.65M456.6 272.7h0.65M447.3 281.7h0.65M448.4 272.4h0.65M443.1 274.3h0.65M460.3 277.8h0.65M466.1 269.1h0.65M472.7 270.6h0.65M472.9 280.1h0.65M451.5 267.3h0.65M462.4 279.5h0.65M460.7 277.8h0.65M462.7 276.6h0.65M469.7 269.9h0.65M441.5 273.1h0.65M447.5 267.0h0.65M454.7 276.3h0.65M436.5 266.2h0.65M464.0 267.3h0.65M452.7 279.8h0.65M467.9 273.4h0.65M460.6 258.0h0.65M462.0 274.0h0.65M441.9 274.6h0.65M460.8 271.5h0.65M464.7 276.4h0.65M456.6 271.2h0.65M444.4 279.4h0.65M450.4 274.6h0.65M472.3 275.2h0.65M443.0 273.1h0.65M448.1 264.6h0.65M448.1 276.2h0.65M459.5 271.1h0.65M457.5 266.3h0.65M448.1 272.3h0.65M464.2 270.2h0.65M454.6 274.4h0.65M470.8 264.8h0.65M461.7 273.0h0.65M455.5 273.8h0.65M435.7 274.3h0.65M453.2 266.3h0.65M464.8 271.2h0.65M452.9 276.7h0.65M446.3 269.6h0.65M465.0 276.3h0.65M476.8 268.5h0.65M440.5 266.0h0.65M443.8 274.0h0.65M453.4 269.2h0.65M445.4 269.7h0.65M452.8 278.9h0.65M463.1 279.0h0.65M464.9 275.7h0.65M468.4 273.9h0.65M472.5 277.1h0.65M474.9 272.1h0.65M449.2 286.1h0.65M453.4 275.4h0.65M451.9 269.2h0.65M460.1 266.4h0.65M455.1 279.9h0.65M457.7 276.6h0.65M462.9 274.0h0.65M457.5 275.6h0.65M446.4 276.3h0.65M444.7 269.5h0.65M449.5 266.1h0.65M436.0 276.1h0.65M461.6 275.5h0.65M479.0 271.6h0.65M463.5 268.0h0.65M462.9 266.0h0.65M476.0 265.9h0.65M452.2 276.7h0.65M434.0 281.2h0.65M446.4 274.3h0.65M466.3 272.5h0.65M465.5 269.1h0.65M461.3 260.8h0.65M471.4 267.8h0.65M447.2 273.3h0.65M473.3 267.5h0.65M455.7 270.7h0.65M445.9 266.5h0.65M462.5 275.7h0.65M448.4 274.3h0.65M460.9 274.1h0.65M454.4 272.9h0.65M458.5 266.8h0.65M454.9 276.7h0.65M450.8 279.7h0.65M453.1 267.0h0.65M452.5 265.8h0.65M461.7 263.8h0.65M456.1 271.3h0.65M453.1 274.9h0.65M458.8 269.4h0.65M464.3 269.5h0.65M465.9 278.7h0.65M460.3 277.0h0.65M442.5 276.5h0.65M440.6 272.8h0.65M462.1 258.1h0.65M447.7 269.2h0.65M446.3 273.4h0.65M462.1 266.0h0.65M448.9 263.4h0.65M447.9 262.3h0.65M440.7 276.2h0.65M464.7 267.6h0.65M459.3 268.2h0.65M467.8 280.6h0.65M430.3 270.1h0.65M449.2 270.6h0.65M472.8 279.3h0.65M456.2 275.8h0.65M439.5 272.3h0.65M453.0 272.0h0.65M458.4 264.2h0.65M446.1 284.4h0.65M438.2 274.2h0.65M463.7 274.4h0.65M455.9 264.1h0.65M450.5 264.8h0.65M476.4 272.7h0.65M463.6 273.0h0.65M452.5 278.9h0.65M465.4 275.1h0.65M462.3 275.8h0.65M453.3 275.0h0.65M456.7 271.1h0.65M463.6 283.0h0.65M435.7 281.6h0.65M452.0 279.1h0.65M445.4 272.4h0.65M466.6 271.3h0.65M459.1 266.0h0.65M444.9 282.1h0.65M457.6 271.9h0.65M441.3 268.3h0.65M445.3 273.1h0.65M454.6 269.5h0.65M449.1 273.6h0.65M467.5 264.3h0.65M441.8 279.5h0.65M441.1 271.6h0.65M458.0 281.8h0.65M433.7 259.2h0.65M455.6 278.1h0.65M457.1 268.2h0.65M457.1 261.7h0.65M465.1 279.5h0.65M454.2 276.9h0.65M445.7 281.0h0.65M449.0 268.9h0.65M447.4 264.0h0.65M463.8 282.3h0.65M441.2 272.7h0.65M460.4 269.2h0.65M440.0 275.5h0.65M466.4 272.2h0.65M444.8 271.8h0.65M436.0 273.8h0.65M469.1 277.2h0.65M455.3 274.8h0.65M450.7 273.6h0.65M449.9 273.8h0.65M450.7 273.9h0.65M463.2 271.8h0.65M442.8 276.2h0.65M453.3 270.1h0.65M461.5 267.7h0.65M465.9 274.6h0.65M448.6 269.5h0.65M454.4 267.9h0.65M464.8 260.1h0.65M457.4 270.6h0.65M445.0 276.7h0.65M451.2 275.3h0.65M451.4 271.4h0.65M461.8 277.0h0.65M466.3 271.6h0.65M471.1 269.5h0.65M441.2 264.0h0.65M440.8 269.2h0.65M437.8 275.7h0.65M456.3 272.3h0.65M458.4 271.7h0.65M453.3 271.1h0.65M456.0 266.6h0.65M469.8 279.4h0.65M457.3 284.3h0.65M446.4 278.0h0.65M439.6 277.0h0.65M448.8 278.3h0.65M457.6 277.3h0.65M462.5 274.7h0.65M453.9 281.0h0.65M459.9 274.7h0.65M470.7 270.0h0.65M474.4 276.7h0.65M456.2 264.9h0.65M468.4 269.9h0.65M457.1 273.1h0.65M466.1 275.0h0.65M437.0 270.6h0.65M459.7 273.1h0.65M464.4 274.8h0.65M472.5 267.4h0.65M469.6 273.4h0.65M459.4 275.8h0.65M452.9 276.5h0.65M454.2 276.4h0.65M448.7 279.2h0.65M440.1 270.4h0.65M455.6 273.8h0.65M447.7 271.1h0.65M459.1 277.7h0.65M469.2 269.0h0.65M455.2 270.9h0.65M440.2 271.4h0.65M467.1 264.6h0.65M485.9 275.2h0.65M473.9 272.0h0.65M432.5 276.7h0.65M472.2 268.2h0.65M469.4 275.4h0.65M464.4 275.7h0.65M462.3 275.4h0.65M468.5 273.7h0.65M462.7 274.2h0.65M457.1 267.9h0.65M437.2 268.7h0.65M442.7 265.9h0.65M463.0 270.2h0.65M470.4 287.7h0.65M463.8 269.5h0.65M459.9 271.1h0.65M459.9 283.1h0.65M473.0 277.8h0.65M459.8 281.5h0.65M465.0 276.4h0.65M443.8 270.3h0.65M457.7 271.2h0.65M449.9 262.6h0.65M448.4 272.6h0.65M458.8 266.7h0.65M455.5 282.0h0.65M456.9 262.2h0.65M454.2 272.7h0.65M469.2 272.5h0.65M470.3 273.1h0.65M468.7 278.6h0.65M472.0 272.3h0.65M464.3 292.4h0.65M443.6 274.6h0.65M460.7 268.5h0.65M464.5 271.0h0.65M464.3 272.9h0.65M447.0 278.7h0.65M477.1 275.7h0.65M458.3 263.3h0.65M459.4 272.1h0.65M447.2 263.2h0.65M461.1 277.2h0.65M464.4 283.8h0.65M436.8 275.9h0.65M456.4 280.0h0.65M455.4 267.5h0.65M455.7 274.8h0.65M448.2 269.0h0.65M459.2 276.9h0.65M453.9 275.3h0.65M450.8 271.2h0.65M458.5 277.4h0.65M472.4 270.6h0.65M461.5 282.4h0.65M464.5 270.0h0.65M459.7 264.8h0.65M434.3 270.3h0.65M448.2 266.1h0.65M466.5 269.3h0.65M457.0 272.8h0.65M453.5 266.6h0.65M475.2 260.6h0.65M456.1 276.2h0.65M454.0 272.1h0.65M459.4 273.5h0.65M453.1 278.4h0.65M462.0 280.0h0.65M456.3 262.1h0.65M439.0 271.2h0.65M460.1 263.6h0.65M450.9 279.5h0.65M459.3 268.5h0.65M455.1 273.2h0.65M451.7 271.2h0.65M449.7 274.2h0.65M473.0 278.8h0.65M444.4 285.6h0.65M454.4 265.3h0.65M441.0 274.5h0.65M458.3 269.0h0.65M447.9 272.0h0.65M459.1 275.8h0.65M460.9 259.6h0.65M450.2 274.4h0.65M460.3 276.4h0.65M441.6 281.9h0.65M443.9 272.4h0.65M451.2 270.4h0.65M448.6 277.4h0.65M464.3 273.7h0.65M442.9 270.3h0.65M455.8 274.6h0.65M450.4 271.6h0.65M483.0 270.7h0.65M452.1 259.9h0.65M449.2 281.6h0.65M464.3 265.6h0.65M464.3 272.8h0.65M448.4 277.3h0.65M449.9 271.4h0.65M456.5 273.6h0.65M451.9 274.4h0.65M456.3 273.5h0.65M459.9 268.9h0.65M442.2 273.3h0.65M468.9 273.2h0.65M458.2 268.5h0.65M444.1 267.0h0.65M446.7 271.3h0.65M440.5 273.1h0.65M440.5 277.2h0.65M455.2 263.4h0.65M450.7 274.2h0.65M460.4 276.3h0.65M452.6 272.0h0.65M454.0 275.6h0.65M449.1 272.2h0.65M457.5 270.6h0.65M445.8 280.5h0.65M460.9 267.4h0.65M475.8 266.9h0.65M447.2 271.3h0.65M462.3 279.9h0.65M470.3 274.3h0.65M457.2 275.9h0.65M447.9 269.5h0.65M461.6 273.1h0.65M458.1 267.0h0.65M458.1 264.8h0.65M465.6 271.8h0.65M449.5 270.6h0.65M485.7 286.6h0.65M449.7 280.2h0.65M456.5 273.8h0.65M445.9 266.5h0.65M458.4 270.0h0.65M461.7 277.6h0.65M455.2 275.4h0.65M458.1 273.6h0.65M451.0 274.2h0.65M460.6 272.6h0.65M451.0 265.3h0.65M446.1 281.6h0.65M466.6 273.2h0.65M459.1 271.5h0.65M463.5 277.0h0.65M453.8 274.3h0.65M465.2 263.5h0.65M446.5 270.3h0.65M444.3 271.2h0.65M447.5 271.1h0.65M460.5 266.0h0.65M457.8 279.6h0.65M457.6 266.0h0.65M450.6 279.1h0.65M453.3 269.5h0.65M463.8 268.2h0.65M445.2 276.6h0.65M456.1 269.1h0.65M461.4 277.9h0.65M467.2 272.2h0.65M461.0 274.7h0.65M441.9 282.4h0.65M449.3 270.1h0.65M447.5 268.2h0.65M467.3 271.7h0.65M449.6 263.4h0.65M457.9 272.1h0.65M445.8 272.9h0.65M438.0 277.4h0.65M444.1 276.1h0.65M456.3 261.4h0.65M444.6 270.0h0.65M464.4 275.0h0.65M463.3 280.8h0.65M453.1 270.1h0.65M436.9 268.7h0.65M461.5 267.7h0.65M447.8 278.2h0.65M431.9 281.8h0.65M468.5 262.1h0.65M460.9 272.1h0.65M465.2 270.0h0.65M455.6 280.0h0.65M450.4 275.2h0.65M462.5 271.4h0.65M465.3 274.5h0.65M463.9 263.0h0.65M445.9 274.9h0.65M468.6 279.1h0.65M456.0 268.6h0.65M444.4 263.3h0.65M451.4 276.0h0.65M454.9 264.9h0.65M455.2 272.9h0.65M449.3 280.7h0.65M461.1 277.9h0.65M456.8 267.4h0.65M467.6 277.4h0.65M449.8 266.1h0.65M464.2 268.9h0.65M444.5 273.0h0.65M461.5 268.2h0.65M457.0 277.7h0.65M463.1 263.8h0.65M464.2 281.2h0.65M465.4 271.3h0.65M459.3 264.0h0.65M450.1 270.3h0.65M477.1 270.9h0.65M447.2 282.2h0.65M467.9 262.9h0.65M453.5 263.9h0.65M465.7 259.8h0.65M474.4 265.5h0.65M446.6 284.4h0.65M461.8 274.0h0.65M464.4 266.7h0.65M464.9 270.4h0.65M461.6 273.3h0.65M469.6 264.7h0.65M442.5 277.1h0.65M480.2 273.5h0.65M454.8 276.2h0.65M444.1 274.0h0.65M439.4 274.5h0.65M464.2 280.8h0.65M451.6 277.8h0.65M469.3 266.0h0.65M452.7 263.1h0.65M447.6 275.5h0.65M435.8 272.6h0.65M464.1 279.5h0.65M431.3 276.6h0.65M449.1 261.0h0.65M446.3 276.5h0.65M456.3 276.2h0.65M453.5 276.2h0.65M446.0 268.2h0.65M453.9 263.5h0.65M468.5 270.2h0.65M446.0 268.8h0.65M446.6 274.0h0.65M452.9 277.4h0.65M444.6 273.1h0.65M440.9 271.3h0.65M469.8 270.8h0.65M465.1 271.5h0.65M444.9 268.8h0.65M445.1 275.2h0.65M459.8 287.8h0.65M473.3 275.7h0.65M446.5 273.9h0.65M448.1 285.6h0.65M449.5 279.3h0.65M443.0 277.6h0.65M443.7 271.1h0.65M458.0 273.1h0.65M455.6 272.2h0.65M447.5 272.7h0.65M455.1 267.7h0.65M461.9 273.0h0.65M449.2 280.0h0.65M449.7 263.0h0.65M468.7 269.5h0.65M471.0 273.6h0.65M447.8 279.1h0.65M461.2 277.0h0.65M457.3 280.7h0.65M465.3 270.0h0.65M441.1 273.5h0.65M456.5 267.3h0.65M454.9 280.6h0.65M451.9 278.8h0.65M446.4 268.2h0.65M465.5 270.9h0.65M458.8 277.8h0.65M472.0 264.7h0.65M462.1 273.3h0.65M458.4 281.9h0.65M453.5 269.6h0.65M460.4 261.5h0.65M459.5 267.5h0.65M459.1 268.4h0.65M461.1 270.8h0.65M449.2 276.0h0.65M463.0 263.5h0.65M443.1 272.2h0.65M452.9 279.8h0.65M472.2 273.8h0.65M467.0 269.9h0.65M442.6 275.2h0.65M439.2 282.5h0.65M459.2 278.5h0.65M449.1 264.5h0.65M454.3 275.3h0.65M453.8 270.0h0.65M456.9 271.5h0.65M469.5 264.5h0.65M434.0 273.8h0.65M458.2 264.2h0.65M455.9 274.9h0.65M459.6 273.9h0.65M448.0 265.5h0.65M465.5 269.9h0.65M443.1 281.8h0.65M462.3 257.1h0.65M482.1 271.2h0.65M440.4 278.9h0.65M459.9 278.8h0.65M455.6 263.7h0.65M454.3 270.4h0.65M458.9 271.3h0.65M461.2 265.6h0.65M450.4 270.2h0.65M459.5 263.2h0.65M457.1 285.1h0.65M438.5 279.4h0.65M457.5 277.7h0.65M456.8 273.9h0.65M460.0 274.7h0.65M444.0 272.8h0.65M475.0 278.6h0.65M447.2 268.2h0.65M454.8 278.3h0.65M465.1 268.7h0.65M432.3 274.2h0.65M440.0 280.2h0.65M471.2 274.9h0.65M462.3 275.0h0.65M475.0 276.8h0.65M470.1 265.3h0.65M450.9 272.9h0.65M433.7 272.8h0.65M455.9 272.2h0.65M481.3 269.4h0.65M454.1 272.0h0.65M452.1 265.3h0.65M467.3 271.7h0.65M459.7 272.4h0.65M447.6 264.7h0.65M453.4 275.6h0.65M455.2 276.5h0.65M448.0 271.6h0.65M457.5 271.9h0.65M458.4 280.0h0.65M451.9 273.6h0.65M449.8 275.9h0.65M458.0 268.4h0.65M445.5 267.0h0.65M453.3 273.6h0.65M451.1 272.3h0.65M458.4 284.8h0.65M468.9 283.8h0.65M457.5 273.6h0.65M475.8 273.0h0.65M462.4 269.3h0.65M451.0 277.1h0.65M449.8 269.5h0.65M441.2 275.3h0.65M455.4 275.5h0.65M446.8 266.7h0.65M467.2 271.7h0.65M463.5 265.8h0.65M442.0 260.2h0.65M459.5 277.5h0.65M470.1 280.8h0.65M437.3 268.2h0.65M450.4 268.7h0.65M453.6 268.4h0.65M441.3 273.5h0.65M457.0 268.3h0.65M455.8 265.6h0.65M452.6 271.0h0.65M451.4 272.5h0.65M442.7 266.4h0.65M448.0 277.1h0.65M446.1 268.3h0.65M475.8 269.6h0.65M451.8 268.1h0.65M471.0 274.1h0.65M459.3 280.7h0.65M443.3 264.6h0.65M467.4 273.9h0.65M451.2 277.1h0.65M455.9 282.9h0.65M443.4 275.4h0.65M466.2 276.4h0.65M452.2 270.7h0.65M451.9 276.5h0.65M451.9 272.1h0.65M466.3 271.1h0.65M458.4 271.6h0.65M455.2 260.7h0.65" stroke="#111" stroke-width="0.65" fill="none" opacity="0.85"/>
<path d="M444.2 279.9h0.65M447.6 272.2h0.65M455.6 294.7h0.65M446.3 269.6h0.65M434.3 280.6h0.65M454.4 270.5h0.65M450.3 284.6h0.65M466.8 279.9h0.65M468.3 284.8h0.65M449.7 283.2h0.65M456.8 283.0h0.65M458.2 293.5h0.65M440.5 279.8h0.65M442.5 295.0h0.65M449.0 274.2h0.65M454.8 276.7h0.65M474.7 276.6h0.65M457.9 285.3h0.65M472.4 269.6h0.65M458.5 266.7h0.65M460.7 288.0h0.65M449.0 274.8h0.65M468.7 280.4h0.65M464.3 273.5h0.65M451.4 274.1h0.65M473.1 265.4h0.65M449.0 289.1h0.65M454.2 268.5h0.65M457.7 275.3h0.65M453.6 280.9h0.65M464.1 265.4h0.65M457.3 288.6h0.65M439.5 276.3h0.65M441.6 282.2h0.65M445.2 274.4h0.65M450.2 280.5h0.65M439.9 266.1h0.65M457.2 287.6h0.65M449.2 280.2h0.65M458.0 277.8h0.65M454.7 272.7h0.65M452.2 286.4h0.65M460.1 287.0h0.65M446.6 277.9h0.65M447.6 266.7h0.65M465.3 274.8h0.65M457.8 266.0h0.65M452.1 276.1h0.65M450.5 284.9h0.65M460.3 278.0h0.65M457.6 273.5h0.65M446.8 274.8h0.65M443.2 275.7h0.65M453.7 285.8h0.65M449.9 295.9h0.65M448.9 278.0h0.65M454.6 272.2h0.65M454.2 263.2h0.65M467.8 272.5h0.65M454.6 262.8h0.65M461.5 267.0h0.65M470.6 268.8h0.65M446.5 282.2h0.65M469.7 261.5h0.65M435.5 289.6h0.65M460.0 265.1h0.65M449.9 282.5h0.65M450.5 288.8h0.65M446.7 278.3h0.65M468.2 288.6h0.65M457.7 281.6h0.65M451.1 276.5h0.65M448.3 280.0h0.65M464.6 269.1h0.65M441.5 277.4h0.65M478.0 278.8h0.65M456.4 276.7h0.65M435.6 271.4h0.65M472.3 260.5h0.65M475.6 267.6h0.65M478.4 297.6h0.65M472.2 275.9h0.65M461.7 272.7h0.65M449.7 278.6h0.65M451.3 268.5h0.65M451.7 282.1h0.65M446.0 279.8h0.65M439.4 277.7h0.65M441.7 283.0h0.65M442.9 281.8h0.65M432.0 278.4h0.65M467.6 270.5h0.65M455.5 270.2h0.65M460.4 282.9h0.65M468.1 287.4h0.65M469.9 271.2h0.65M456.2 281.2h0.65M457.1 266.6h0.65M478.2 297.1h0.65M455.6 256.5h0.65M475.9 275.5h0.65M480.9 268.7h0.65M461.0 283.2h0.65M438.4 274.4h0.65M460.5 282.2h0.65M459.4 256.3h0.65M473.3 264.8h0.65M459.4 284.3h0.65M443.7 264.5h0.65M458.0 273.5h0.65M453.8 275.4h0.65M453.5 279.4h0.65M448.8 276.7h0.65M448.4 270.1h0.65M458.9 270.4h0.65M461.0 276.8h0.65M467.3 281.6h0.65M431.8 276.8h0.65M462.5 277.8h0.65M455.4 285.5h0.65M462.7 266.3h0.65M456.0 284.9h0.65M456.7 266.9h0.65M463.8 281.7h0.65M468.1 278.3h0.65M456.2 283.7h0.65M442.2 290.6h0.65M459.5 278.7h0.65M463.6 283.2h0.65M429.5 284.3h0.65M453.6 270.7h0.65M465.3 284.4h0.65M459.2 272.0h0.65M456.1 269.4h0.65M483.9 271.7h0.65M464.9 289.9h0.65M445.0 272.7h0.65M429.1 275.0h0.65M439.6 278.2h0.65M452.3 277.1h0.65M455.3 273.2h0.65M456.2 276.4h0.65M446.6 274.5h0.65M448.3 266.7h0.65M454.5 262.2h0.65M461.0 276.7h0.65M456.8 286.1h0.65M465.8 273.5h0.65M458.9 286.4h0.65M453.1 280.0h0.65M459.7 268.7h0.65M458.1 273.9h0.65M451.9 280.4h0.65M462.4 269.8h0.65M451.9 275.4h0.65M443.9 279.9h0.65M452.5 271.4h0.65M465.7 276.3h0.65M441.5 276.2h0.65M452.7 279.3h0.65M480.8 281.3h0.65M471.4 275.6h0.65M460.3 280.9h0.65M453.7 278.9h0.65M449.7 282.5h0.65M444.4 290.5h0.65M453.4 279.9h0.65M456.5 264.1h0.65M459.7 270.0h0.65M457.2 273.6h0.65M451.7 264.9h0.65M439.8 272.6h0.65M442.6 278.9h0.65M438.8 278.7h0.65M461.2 271.1h0.65M443.8 274.2h0.65M463.9 288.0h0.65M479.6 277.7h0.65M462.0 278.5h0.65M454.6 268.5h0.65M450.8 285.8h0.65M470.7 272.2h0.65M436.3 291.9h0.65M455.2 280.6h0.65M452.9 262.7h0.65M458.4 269.3h0.65M451.6 272.0h0.65M451.8 296.0h0.65M472.2 261.5h0.65M437.1 273.0h0.65M447.2 283.1h0.65M472.8 271.2h0.65M461.4 275.3h0.65M432.1 286.3h0.65M474.9 270.4h0.65M462.1 272.9h0.65M453.7 273.3h0.65M453.2 277.3h0.65M447.8 279.2h0.65M439.9 283.4h0.65M443.9 262.2h0.65M464.4 274.2h0.65M448.7 284.2h0.65M454.5 292.4h0.65M459.7 265.6h0.65M449.0 271.6h0.65M451.5 290.3h0.65M486.1 290.6h0.65M460.0 281.3h0.65M456.7 259.4h0.65M470.8 292.7h0.65M448.8 276.7h0.65M446.7 275.3h0.65M444.9 268.0h0.65M468.7 261.5h0.65M466.7 267.9h0.65M451.9 261.0h0.65M462.3 269.0h0.65M483.5 269.6h0.65M457.7 282.2h0.65M448.5 281.9h0.65M447.6 297.0h0.65M460.7 302.0h0.65M444.1 280.8h0.65M456.7 286.1h0.65M460.9 303.2h0.65M459.1 282.2h0.65M457.5 283.1h0.65M451.6 311.3h0.65M464.4 310.9h0.65M455.8 290.2h0.65M445.7 293.6h0.65M464.8 298.5h0.65M446.7 292.1h0.65M466.7 285.8h0.65M464.6 285.5h0.65M457.8 284.6h0.65M443.7 281.8h0.65M459.5 287.8h0.65M457.8 284.6h0.65M466.3 289.0h0.65M461.6 285.8h0.65M470.4 289.8h0.65M462.0 315.0h0.65M462.0 273.9h0.65M451.5 294.5h0.65M445.3 274.9h0.65M456.7 273.7h0.65M468.3 295.7h0.65M454.9 304.1h0.65M451.4 278.0h0.65M466.6 291.2h0.65M455.7 302.2h0.65M456.6 298.0h0.65M460.0 303.6h0.65M463.2 285.8h0.65M472.3 287.1h0.65M474.5 277.1h0.65M458.4 266.6h0.65M462.9 305.6h0.65M454.1 296.1h0.65M455.8 306.7h0.65M461.1 294.8h0.65M468.4 274.4h0.65M464.5 292.4h0.65M470.3 291.3h0.65M463.7 290.4h0.65M448.5 285.5h0.65M456.2 276.5h0.65M457.5 285.8h0.65M475.4 288.3h0.65M459.1 292.0h0.65M464.6 273.4h0.65M441.2 308.3h0.65M449.9 281.3h0.65M469.1 294.2h0.65M450.2 299.1h0.65M447.1 308.7h0.65M454.9 294.6h0.65M457.9 311.9h0.65M448.8 289.9h0.65M478.5 268.7h0.65M453.3 294.0h0.65M455.9 295.8h0.65M469.0 278.6h0.65M451.7 305.3h0.65M476.6 261.8h0.65M463.1 301.8h0.65M451.5 281.5h0.65M447.1 288.8h0.65M447.0 298.7h0.65M451.4 296.6h0.65M442.9 300.6h0.65M464.4 301.3h0.65M460.6 316.1h0.65M467.2 291.5h0.65M473.4 287.1h0.65M459.5 308.9h0.65M453.6 290.9h0.65M460.4 293.0h0.65M455.7 302.0h0.65M478.6 286.8h0.65M443.9 285.9h0.65M444.7 277.1h0.65M448.1 302.6h0.65M459.5 298.7h0.65M456.9 302.1h0.65M454.1 305.2h0.65M466.4 293.4h0.65M443.9 279.0h0.65M460.5 279.6h0.65M456.4 289.2h0.65M471.2 283.6h0.65M459.3 286.0h0.65M450.8 295.8h0.65M467.3 275.5h0.65M472.3 315.3h0.65M459.5 296.7h0.65M448.0 286.6h0.65M461.0 290.0h0.65M471.2 281.4h0.65M455.6 296.7h0.65M457.3 288.3h0.65M456.9 295.4h0.65M465.2 279.5h0.65M449.4 278.7h0.65M462.2 270.8h0.65M481.5 285.0h0.65M444.6 313.4h0.65M458.0 296.4h0.65M456.2 288.2h0.65M477.7 269.6h0.65M460.5 283.0h0.65M454.7 290.3h0.65M440.4 297.8h0.65M459.9 297.1h0.65M452.3 299.1h0.65M453.6 299.4h0.65M470.9 297.8h0.65M444.3 291.8h0.65M448.1 312.2h0.65M459.9 277.2h0.65M443.5 305.4h0.65M448.4 295.5h0.65M454.9 289.4h0.65M453.8 291.1h0.65M473.4 281.5h0.65M463.0 296.3h0.65M451.6 279.1h0.65M449.5 297.3h0.65M459.6 302.2h0.65M461.5 292.3h0.65M458.2 293.5h0.65M458.5 298.3h0.65M449.8 302.7h0.65M473.6 290.1h0.65M463.5 278.3h0.65M459.0 275.5h0.65M467.5 291.6h0.65M468.4 303.3h0.65M451.0 299.9h0.65M472.8 315.0h0.65M457.1 296.9h0.65M452.0 297.9h0.65M463.8 306.7h0.65M456.6 291.7h0.65M462.8 289.2h0.65M477.8 267.1h0.65M441.7 285.6h0.65M464.7 291.3h0.65M462.1 274.7h0.65M463.8 296.9h0.65M473.7 300.0h0.65M452.2 283.1h0.65M447.2 285.8h0.65M457.1 304.6h0.65M473.9 291.9h0.65M463.8 289.3h0.65M445.7 296.8h0.65M451.1 273.7h0.65M450.0 307.1h0.65M447.0 305.8h0.65M445.0 290.3h0.65M462.9 286.8h0.65M448.8 291.1h0.65M474.1 298.2h0.65M460.0 297.2h0.65M469.4 305.4h0.65M455.5 281.6h0.65M448.6 291.7h0.65M455.2 291.1h0.65M452.1 317.9h0.65M451.4 306.5h0.65M449.8 282.6h0.65M446.8 279.3h0.65M442.4 282.2h0.65M455.8 298.6h0.65M440.9 295.8h0.65M457.0 291.0h0.65M437.3 296.3h0.65M464.5 303.4h0.65M455.3 304.4h0.65M458.7 281.2h0.65M463.1 301.6h0.65M460.3 290.7h0.65M455.7 298.3h0.65M440.7 294.3h0.65M445.7 285.5h0.65M460.0 304.4h0.65M457.9 281.1h0.65M484.3 294.5h0.65M432.0 290.0h0.65M451.0 284.6h0.65M468.2 314.0h0.65M459.0 276.6h0.65M466.4 292.1h0.65M454.1 293.3h0.65M446.9 293.2h0.65M461.5 303.9h0.65M477.4 284.3h0.65M461.7 282.6h0.65M459.2 303.5h0.65M464.3 287.9h0.65M475.4 300.7h0.65M469.9 292.0h0.65M471.0 289.5h0.65M466.5 291.5h0.65M458.0 274.4h0.65M467.6 297.3h0.65M452.0 291.8h0.65M463.9 297.9h0.65M438.0 307.1h0.65M448.1 311.6h0.65M469.1 292.6h0.65M460.1 294.1h0.65M454.1 307.4h0.65M451.6 285.4h0.65M455.8 274.0h0.65M468.1 278.4h0.65M472.8 301.3h0.65M477.7 284.7h0.65M455.1 286.2h0.65M465.8 281.4h0.65M454.9 266.1h0.65M458.5 293.3h0.65M477.4 282.1h0.65M467.5 297.2h0.65M466.7 279.2h0.65M467.5 292.9h0.65M472.2 314.4h0.65M451.3 286.7h0.65M473.0 273.1h0.65M433.6 294.0h0.65M461.3 307.5h0.65M465.2 290.7h0.65M452.5 271.2h0.65M463.2 284.5h0.65M454.3 294.6h0.65M438.1 290.2h0.65M452.0 312.7h0.65" stroke="#444" stroke-width="0.65" fill="none" opacity="0.7"/>
</g>
<ellipse cx="457" cy="270.8" rx="10" ry="3.2" fill="#222" opacity="0.7" transform="rotate(-6 457 270.8)" filter="url(#b20)"/>
</g>
<rect x="427" y="244.8" width="74.8" height="74.2" fill="none" stroke="#111" stroke-width="1.1"/>
<rect x="459.4" y="261.3" width="20.1" height="20.8" fill="none" stroke="#444" stroke-width="0.7"/>
<text x="463.4" y="241.5" font-size="6.4" text-anchor="middle" textLength="73.1" lengthAdjust="spacingAndGlyphs" stroke="#111" stroke-width="0.1">FSC/SSC gated, PI-CD19-</text>
<text x="427.2" y="334.7" font-size="8" textLength="25.4" lengthAdjust="spacingAndGlyphs" stroke="#111" stroke-width="0.1">CD90.2</text>
<path d="M453.7 332.2H460.6" stroke="#111" stroke-width="1.25" fill="none"/>
<path d="M466.1 332.2L459.6 329.0V335.4Z" fill="#111"/>
<text x="417" y="320.3" font-size="7.8" textLength="19.1" lengthAdjust="spacingAndGlyphs" transform="rotate(-90 417 320.3)" stroke="#111" stroke-width="0.1">CD25</text>
<path d="M414.1 299.3V288.6" stroke="#111" stroke-width="1.25" fill="none"/>
<path d="M414.1 283.1L410.9 289.6H417.3Z" fill="#111"/>
<text x="426.8" y="326" font-size="3.3" text-anchor="middle" fill="#111" stroke="#111" stroke-width="0.15">10<tspan dy="-1" font-size="2">1</tspan></text>
<text x="445.2" y="326" font-size="3.3" text-anchor="middle" fill="#111" stroke="#111" stroke-width="0.15">10<tspan dy="-1" font-size="2">2</tspan></text>
<text x="464.1" y="326" font-size="3.3" text-anchor="middle" fill="#111" stroke="#111" stroke-width="0.15">10<tspan dy="-1" font-size="2">3</tspan></text>
<text x="482.8" y="326" font-size="3.3" text-anchor="middle" fill="#111" stroke="#111" stroke-width="0.15">10<tspan dy="-1" font-size="2">4</tspan></text>
<text x="501.4" y="326" font-size="3.3" text-anchor="middle" fill="#111" stroke="#111" stroke-width="0.15">10<tspan dy="-1" font-size="2">5</tspan></text>
<text x="420.6" y="320" font-size="3.3" text-anchor="middle" fill="#111" stroke="#111" stroke-width="0.15">10<tspan dy="-1" font-size="2">1</tspan></text>
<text x="420.6" y="301.8" font-size="3.3" text-anchor="middle" fill="#111" stroke="#111" stroke-width="0.15">10<tspan dy="-1" font-size="2">2</tspan></text>
<text x="420.6" y="283.2" font-size="3.3" text-anchor="middle" fill="#111" stroke="#111" stroke-width="0.15">10<tspan dy="-1" font-size="2">3</tspan></text>
<text x="420.6" y="264.6" font-size="3.3" text-anchor="middle" fill="#111" stroke="#111" stroke-width="0.15">10<tspan dy="-1" font-size="2">4</tspan></text>
<text x="420.6" y="246.2" font-size="3.3" text-anchor="middle" fill="#111" stroke="#111" stroke-width="0.15">10<tspan dy="-1" font-size="2">5</tspan></text>
</svg>
</body></html>
